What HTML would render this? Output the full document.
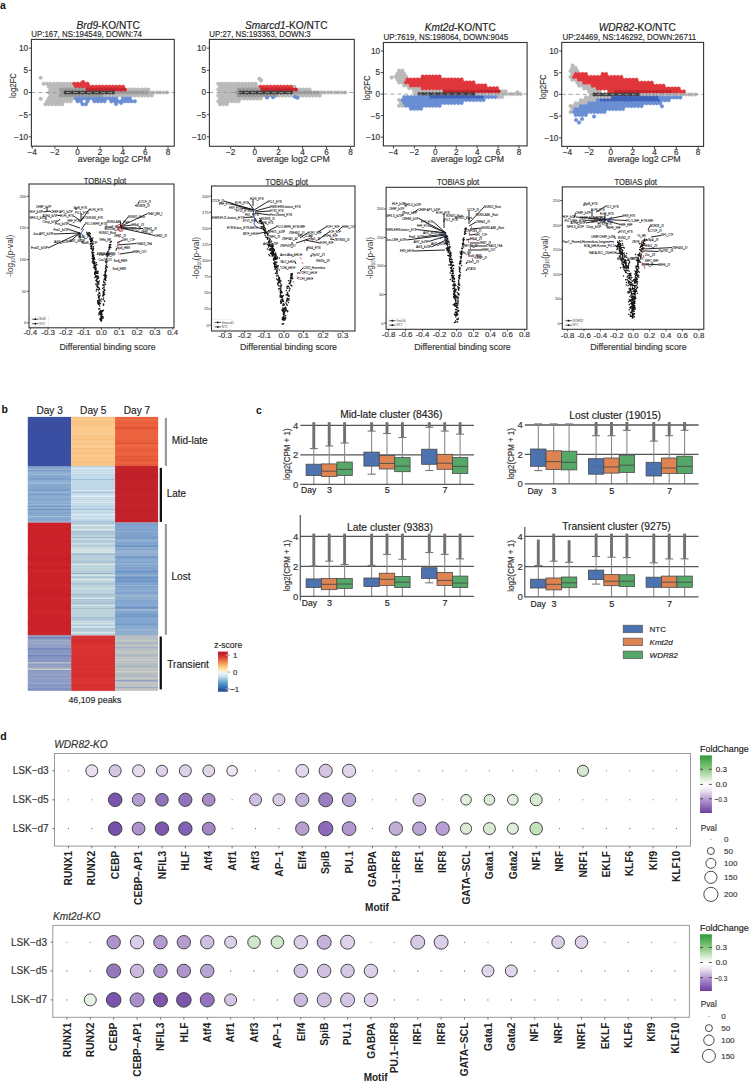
<!DOCTYPE html>
<html><head><meta charset="utf-8"><style>
html,body{margin:0;padding:0;background:#fff;}
svg{display:block;}
text{font-family:"Liberation Sans", sans-serif;}
</style></head><body>
<svg width="749" height="1086" viewBox="0 0 749 1086" font-family="Liberation Sans, sans-serif"><text x="0.00" y="8.80" font-size="10.5" text-anchor="start" fill="#111" font-weight="bold">a</text>
<path d="M43.7 81.8l1.7 1v2l-1.7 1-1.7-1v-2zM47.1 81.8l1.7 1v2l-1.7 1-1.7-1v-2zM50.5 81.8l1.7 1v2l-1.7 1-1.7-1v-2zM53.9 81.8l1.7 1v2l-1.7 1-1.7-1v-2zM57.2 81.8l1.7 1v2l-1.7 1-1.7-1v-2zM60.6 81.8l1.7 1v2l-1.7 1-1.7-1v-2zM64.0 81.8l1.7 1v2l-1.7 1-1.7-1v-2zM67.4 81.8l1.7 1v2l-1.7 1-1.7-1v-2zM70.7 81.8l1.7 1v2l-1.7 1-1.7-1v-2zM48.8 84.7l1.7 1v2l-1.7 1-1.7-1v-2zM52.2 84.7l1.7 1v2l-1.7 1-1.7-1v-2zM55.5 84.7l1.7 1v2l-1.7 1-1.7-1v-2zM58.9 84.7l1.7 1v2l-1.7 1-1.7-1v-2zM62.3 84.7l1.7 1v2l-1.7 1-1.7-1v-2zM65.7 84.7l1.7 1v2l-1.7 1-1.7-1v-2zM69.1 84.7l1.7 1v2l-1.7 1-1.7-1v-2zM72.4 84.7l1.7 1v2l-1.7 1-1.7-1v-2zM50.5 87.6l1.7 1v2l-1.7 1-1.7-1v-2zM53.9 87.6l1.7 1v2l-1.7 1-1.7-1v-2zM57.2 87.6l1.7 1v2l-1.7 1-1.7-1v-2zM128.2 87.6l1.7 1v2l-1.7 1-1.7-1v-2zM131.5 87.6l1.7 1v2l-1.7 1-1.7-1v-2zM134.9 87.6l1.7 1v2l-1.7 1-1.7-1v-2zM138.3 87.6l1.7 1v2l-1.7 1-1.7-1v-2zM141.7 87.6l1.7 1v2l-1.7 1-1.7-1v-2zM145.0 87.6l1.7 1v2l-1.7 1-1.7-1v-2zM148.4 87.6l1.7 1v2l-1.7 1-1.7-1v-2zM48.8 90.5l1.7 1v2l-1.7 1-1.7-1v-2zM52.2 90.5l1.7 1v2l-1.7 1-1.7-1v-2zM55.5 90.5l1.7 1v2l-1.7 1-1.7-1v-2zM58.9 90.5l1.7 1v2l-1.7 1-1.7-1v-2zM150.1 90.5l1.7 1v2l-1.7 1-1.7-1v-2zM153.5 90.5l1.7 1v2l-1.7 1-1.7-1v-2zM156.9 90.5l1.7 1v2l-1.7 1-1.7-1v-2zM160.2 90.5l1.7 1v2l-1.7 1-1.7-1v-2zM163.6 90.5l1.7 1v2l-1.7 1-1.7-1v-2zM167.0 90.5l1.7 1v2l-1.7 1-1.7-1v-2zM50.5 93.5l1.7 1v2l-1.7 1-1.7-1v-2zM53.9 93.5l1.7 1v2l-1.7 1-1.7-1v-2zM57.2 93.5l1.7 1v2l-1.7 1-1.7-1v-2zM104.5 93.5l1.7 1v2l-1.7 1-1.7-1v-2zM107.9 93.5l1.7 1v2l-1.7 1-1.7-1v-2zM111.3 93.5l1.7 1v2l-1.7 1-1.7-1v-2zM114.6 93.5l1.7 1v2l-1.7 1-1.7-1v-2zM118.0 93.5l1.7 1v2l-1.7 1-1.7-1v-2zM121.4 93.5l1.7 1v2l-1.7 1-1.7-1v-2zM124.8 93.5l1.7 1v2l-1.7 1-1.7-1v-2zM128.2 93.5l1.7 1v2l-1.7 1-1.7-1v-2zM131.5 93.5l1.7 1v2l-1.7 1-1.7-1v-2zM134.9 93.5l1.7 1v2l-1.7 1-1.7-1v-2zM138.3 93.5l1.7 1v2l-1.7 1-1.7-1v-2zM141.7 93.5l1.7 1v2l-1.7 1-1.7-1v-2zM145.0 93.5l1.7 1v2l-1.7 1-1.7-1v-2zM148.4 93.5l1.7 1v2l-1.7 1-1.7-1v-2zM151.8 93.5l1.7 1v2l-1.7 1-1.7-1v-2zM48.8 96.4l1.7 1v2l-1.7 1-1.7-1v-2zM52.2 96.4l1.7 1v2l-1.7 1-1.7-1v-2zM55.5 96.4l1.7 1v2l-1.7 1-1.7-1v-2zM58.9 96.4l1.7 1v2l-1.7 1-1.7-1v-2zM62.3 96.4l1.7 1v2l-1.7 1-1.7-1v-2zM65.7 96.4l1.7 1v2l-1.7 1-1.7-1v-2zM69.1 96.4l1.7 1v2l-1.7 1-1.7-1v-2zM72.4 96.4l1.7 1v2l-1.7 1-1.7-1v-2zM47.1 99.3l1.7 1v2l-1.7 1-1.7-1v-2zM50.5 99.3l1.7 1v2l-1.7 1-1.7-1v-2zM53.9 99.3l1.7 1v2l-1.7 1-1.7-1v-2zM57.2 99.3l1.7 1v2l-1.7 1-1.7-1v-2zM60.6 99.3l1.7 1v2l-1.7 1-1.7-1v-2zM64.0 99.3l1.7 1v2l-1.7 1-1.7-1v-2zM67.4 99.3l1.7 1v2l-1.7 1-1.7-1v-2zM70.7 99.3l1.7 1v2l-1.7 1-1.7-1v-2zM45.4 102.2l1.7 1v2l-1.7 1-1.7-1v-2zM48.8 102.2l1.7 1v2l-1.7 1-1.7-1v-2zM52.2 102.2l1.7 1v2l-1.7 1-1.7-1v-2zM55.5 102.2l1.7 1v2l-1.7 1-1.7-1v-2zM58.9 102.2l1.7 1v2l-1.7 1-1.7-1v-2zM62.3 102.2l1.7 1v2l-1.7 1-1.7-1v-2zM40.7 75.8l1.7 1v2l-1.7 1-1.7-1v-2zM40.7 96.8l1.7 1v2l-1.7 1-1.7-1v-2z" fill="#bababa" stroke="#bababa" stroke-width="0.35"/>
<path d="M74.1 81.8l1.7 1v2l-1.7 1-1.7-1v-2zM77.5 81.8l1.7 1v2l-1.7 1-1.7-1v-2zM80.9 81.8l1.7 1v2l-1.7 1-1.7-1v-2zM84.3 81.8l1.7 1v2l-1.7 1-1.7-1v-2zM87.6 81.8l1.7 1v2l-1.7 1-1.7-1v-2zM75.8 84.7l1.7 1v2l-1.7 1-1.7-1v-2zM79.2 84.7l1.7 1v2l-1.7 1-1.7-1v-2zM82.6 84.7l1.7 1v2l-1.7 1-1.7-1v-2zM85.9 84.7l1.7 1v2l-1.7 1-1.7-1v-2zM89.3 84.7l1.7 1v2l-1.7 1-1.7-1v-2zM92.7 84.7l1.7 1v2l-1.7 1-1.7-1v-2zM96.1 84.7l1.7 1v2l-1.7 1-1.7-1v-2zM99.4 84.7l1.7 1v2l-1.7 1-1.7-1v-2zM102.8 84.7l1.7 1v2l-1.7 1-1.7-1v-2zM106.2 84.7l1.7 1v2l-1.7 1-1.7-1v-2zM109.6 84.7l1.7 1v2l-1.7 1-1.7-1v-2zM113.0 84.7l1.7 1v2l-1.7 1-1.7-1v-2zM116.3 84.7l1.7 1v2l-1.7 1-1.7-1v-2zM119.7 84.7l1.7 1v2l-1.7 1-1.7-1v-2zM123.1 84.7l1.7 1v2l-1.7 1-1.7-1v-2zM83.0 80.0l1.7 1v2l-1.7 1-1.7-1v-2z" fill="#e0363c" stroke="#e0363c" stroke-width="0.35"/>
<path d="M60.6 87.6l1.7 1v2l-1.7 1-1.7-1v-2zM64.0 87.6l1.7 1v2l-1.7 1-1.7-1v-2zM67.4 87.6l1.7 1v2l-1.7 1-1.7-1v-2zM70.7 87.6l1.7 1v2l-1.7 1-1.7-1v-2zM74.1 87.6l1.7 1v2l-1.7 1-1.7-1v-2zM77.5 87.6l1.7 1v2l-1.7 1-1.7-1v-2zM80.9 87.6l1.7 1v2l-1.7 1-1.7-1v-2zM84.3 87.6l1.7 1v2l-1.7 1-1.7-1v-2zM62.3 90.5l1.7 1v2l-1.7 1-1.7-1v-2zM116.3 90.5l1.7 1v2l-1.7 1-1.7-1v-2zM119.7 90.5l1.7 1v2l-1.7 1-1.7-1v-2zM123.1 90.5l1.7 1v2l-1.7 1-1.7-1v-2zM126.5 90.5l1.7 1v2l-1.7 1-1.7-1v-2zM129.8 90.5l1.7 1v2l-1.7 1-1.7-1v-2zM133.2 90.5l1.7 1v2l-1.7 1-1.7-1v-2zM136.6 90.5l1.7 1v2l-1.7 1-1.7-1v-2zM140.0 90.5l1.7 1v2l-1.7 1-1.7-1v-2zM143.4 90.5l1.7 1v2l-1.7 1-1.7-1v-2zM146.7 90.5l1.7 1v2l-1.7 1-1.7-1v-2zM60.6 93.5l1.7 1v2l-1.7 1-1.7-1v-2zM64.0 93.5l1.7 1v2l-1.7 1-1.7-1v-2zM67.4 93.5l1.7 1v2l-1.7 1-1.7-1v-2zM70.7 93.5l1.7 1v2l-1.7 1-1.7-1v-2zM74.1 93.5l1.7 1v2l-1.7 1-1.7-1v-2zM77.5 93.5l1.7 1v2l-1.7 1-1.7-1v-2zM80.9 93.5l1.7 1v2l-1.7 1-1.7-1v-2zM84.3 93.5l1.7 1v2l-1.7 1-1.7-1v-2zM87.6 93.5l1.7 1v2l-1.7 1-1.7-1v-2zM91.0 93.5l1.7 1v2l-1.7 1-1.7-1v-2zM94.4 93.5l1.7 1v2l-1.7 1-1.7-1v-2zM97.8 93.5l1.7 1v2l-1.7 1-1.7-1v-2zM101.1 93.5l1.7 1v2l-1.7 1-1.7-1v-2z" fill="#9a9a9a" stroke="#9a9a9a" stroke-width="0.35"/>
<path d="M87.6 87.6l1.7 1v2l-1.7 1-1.7-1v-2zM91.0 87.6l1.7 1v2l-1.7 1-1.7-1v-2zM94.4 87.6l1.7 1v2l-1.7 1-1.7-1v-2zM97.8 87.6l1.7 1v2l-1.7 1-1.7-1v-2zM101.1 87.6l1.7 1v2l-1.7 1-1.7-1v-2zM104.5 87.6l1.7 1v2l-1.7 1-1.7-1v-2zM107.9 87.6l1.7 1v2l-1.7 1-1.7-1v-2zM111.3 87.6l1.7 1v2l-1.7 1-1.7-1v-2zM114.6 87.6l1.7 1v2l-1.7 1-1.7-1v-2zM118.0 87.6l1.7 1v2l-1.7 1-1.7-1v-2zM121.4 87.6l1.7 1v2l-1.7 1-1.7-1v-2zM124.8 87.6l1.7 1v2l-1.7 1-1.7-1v-2z" fill="#c8212b" stroke="#c8212b" stroke-width="0.35"/>
<path d="M65.7 90.5l1.7 1v2l-1.7 1-1.7-1v-2zM69.1 90.5l1.7 1v2l-1.7 1-1.7-1v-2zM72.4 90.5l1.7 1v2l-1.7 1-1.7-1v-2zM75.8 90.5l1.7 1v2l-1.7 1-1.7-1v-2zM79.2 90.5l1.7 1v2l-1.7 1-1.7-1v-2zM82.6 90.5l1.7 1v2l-1.7 1-1.7-1v-2zM85.9 90.5l1.7 1v2l-1.7 1-1.7-1v-2zM89.3 90.5l1.7 1v2l-1.7 1-1.7-1v-2zM92.7 90.5l1.7 1v2l-1.7 1-1.7-1v-2zM96.1 90.5l1.7 1v2l-1.7 1-1.7-1v-2zM99.4 90.5l1.7 1v2l-1.7 1-1.7-1v-2zM102.8 90.5l1.7 1v2l-1.7 1-1.7-1v-2zM106.2 90.5l1.7 1v2l-1.7 1-1.7-1v-2zM109.6 90.5l1.7 1v2l-1.7 1-1.7-1v-2zM113.0 90.5l1.7 1v2l-1.7 1-1.7-1v-2z" fill="#3a3a3a" stroke="#3a3a3a" stroke-width="0.35"/>
<path d="M75.8 96.4l1.7 1v2l-1.7 1-1.7-1v-2zM79.2 96.4l1.7 1v2l-1.7 1-1.7-1v-2zM82.6 96.4l1.7 1v2l-1.7 1-1.7-1v-2zM85.9 96.4l1.7 1v2l-1.7 1-1.7-1v-2zM89.3 96.4l1.7 1v2l-1.7 1-1.7-1v-2zM92.7 96.4l1.7 1v2l-1.7 1-1.7-1v-2zM96.1 96.4l1.7 1v2l-1.7 1-1.7-1v-2zM99.4 96.4l1.7 1v2l-1.7 1-1.7-1v-2zM102.8 96.4l1.7 1v2l-1.7 1-1.7-1v-2zM106.2 96.4l1.7 1v2l-1.7 1-1.7-1v-2zM109.6 96.4l1.7 1v2l-1.7 1-1.7-1v-2zM113.0 96.4l1.7 1v2l-1.7 1-1.7-1v-2zM116.3 96.4l1.7 1v2l-1.7 1-1.7-1v-2zM123.1 96.4l1.7 1v2l-1.7 1-1.7-1v-2zM126.5 96.4l1.7 1v2l-1.7 1-1.7-1v-2zM129.8 96.4l1.7 1v2l-1.7 1-1.7-1v-2zM77.5 99.3l1.7 1v2l-1.7 1-1.7-1v-2zM80.9 99.3l1.7 1v2l-1.7 1-1.7-1v-2zM87.6 99.3l1.7 1v2l-1.7 1-1.7-1v-2zM94.4 99.3l1.7 1v2l-1.7 1-1.7-1v-2zM97.8 99.3l1.7 1v2l-1.7 1-1.7-1v-2zM101.1 99.3l1.7 1v2l-1.7 1-1.7-1v-2zM104.5 99.3l1.7 1v2l-1.7 1-1.7-1v-2zM111.3 99.3l1.7 1v2l-1.7 1-1.7-1v-2zM114.6 99.3l1.7 1v2l-1.7 1-1.7-1v-2zM118.0 99.3l1.7 1v2l-1.7 1-1.7-1v-2zM121.4 99.3l1.7 1v2l-1.7 1-1.7-1v-2zM124.8 99.3l1.7 1v2l-1.7 1-1.7-1v-2zM128.2 99.3l1.7 1v2l-1.7 1-1.7-1v-2zM131.5 99.3l1.7 1v2l-1.7 1-1.7-1v-2zM134.9 99.3l1.7 1v2l-1.7 1-1.7-1v-2zM82.6 102.2l1.7 1v2l-1.7 1-1.7-1v-2zM85.9 102.2l1.7 1v2l-1.7 1-1.7-1v-2zM116.0 102.0l1.7 1v2l-1.7 1-1.7-1v-2zM121.0 101.0l1.7 1v2l-1.7 1-1.7-1v-2z" fill="#6a8fd4" stroke="#6a8fd4" stroke-width="0.35"/>
<line x1="31.40" y1="92.50" x2="174.30" y2="92.50" stroke="#9a9a9a" stroke-width="0.9" stroke-dasharray="4,3"/>
<rect x="31.40" y="39.40" width="142.90" height="106.80" fill="none" stroke="#333" stroke-width="1.1"/>
<line x1="28.80" y1="48.15" x2="31.40" y2="48.15" stroke="#333" stroke-width="0.9"/>
<text x="28.00" y="51.05" font-size="8.2" text-anchor="end" fill="#333" stroke="#333" stroke-width="0.16">10</text>
<line x1="28.80" y1="70.33" x2="31.40" y2="70.33" stroke="#333" stroke-width="0.9"/>
<text x="28.00" y="73.23" font-size="8.2" text-anchor="end" fill="#333" stroke="#333" stroke-width="0.16">5</text>
<line x1="28.80" y1="92.50" x2="31.40" y2="92.50" stroke="#333" stroke-width="0.9"/>
<text x="28.00" y="95.40" font-size="8.2" text-anchor="end" fill="#333" stroke="#333" stroke-width="0.16">0</text>
<line x1="28.80" y1="114.67" x2="31.40" y2="114.67" stroke="#333" stroke-width="0.9"/>
<text x="28.00" y="117.58" font-size="8.2" text-anchor="end" fill="#333" stroke="#333" stroke-width="0.16">−5</text>
<line x1="28.80" y1="136.85" x2="31.40" y2="136.85" stroke="#333" stroke-width="0.9"/>
<text x="28.00" y="139.75" font-size="8.2" text-anchor="end" fill="#333" stroke="#333" stroke-width="0.16">−10</text>
<line x1="32.23" y1="146.20" x2="32.23" y2="148.80" stroke="#333" stroke-width="0.9"/>
<text x="32.23" y="155.10" font-size="8.2" text-anchor="middle" fill="#333" stroke="#333" stroke-width="0.16">−4</text>
<line x1="54.87" y1="146.20" x2="54.87" y2="148.80" stroke="#333" stroke-width="0.9"/>
<text x="54.87" y="155.10" font-size="8.2" text-anchor="middle" fill="#333" stroke="#333" stroke-width="0.16">−2</text>
<line x1="77.50" y1="146.20" x2="77.50" y2="148.80" stroke="#333" stroke-width="0.9"/>
<text x="77.50" y="155.10" font-size="8.2" text-anchor="middle" fill="#333" stroke="#333" stroke-width="0.16">0</text>
<line x1="100.13" y1="146.20" x2="100.13" y2="148.80" stroke="#333" stroke-width="0.9"/>
<text x="100.13" y="155.10" font-size="8.2" text-anchor="middle" fill="#333" stroke="#333" stroke-width="0.16">2</text>
<line x1="122.77" y1="146.20" x2="122.77" y2="148.80" stroke="#333" stroke-width="0.9"/>
<text x="122.77" y="155.10" font-size="8.2" text-anchor="middle" fill="#333" stroke="#333" stroke-width="0.16">4</text>
<line x1="145.40" y1="146.20" x2="145.40" y2="148.80" stroke="#333" stroke-width="0.9"/>
<text x="145.40" y="155.10" font-size="8.2" text-anchor="middle" fill="#333" stroke="#333" stroke-width="0.16">6</text>
<line x1="168.04" y1="146.20" x2="168.04" y2="148.80" stroke="#333" stroke-width="0.9"/>
<text x="168.04" y="155.10" font-size="8.2" text-anchor="middle" fill="#333" stroke="#333" stroke-width="0.16">8</text>
<text x="114.35" y="162.10" font-size="8.8" text-anchor="middle" fill="#333" textLength="73.00" lengthAdjust="spacingAndGlyphs" stroke="#333" stroke-width="0.16">average log2 CPM</text>
<text x="108.20" y="28.70" font-size="10" text-anchor="middle" fill="#222" textLength="63.20" lengthAdjust="spacingAndGlyphs" stroke="#222" stroke-width="0.16"><tspan font-style="italic">Brd9</tspan>-KO/NTC</text>
<text x="31.20" y="37.00" font-size="9.0" text-anchor="start" fill="#2a2a2a" textLength="110.80" lengthAdjust="spacingAndGlyphs" stroke="#2a2a2a" stroke-width="0.16">UP:167, NS:194549, DOWN:74</text>
<text x="15.70" y="85.60" font-size="8.6" text-anchor="middle" fill="#333" textLength="25.00" lengthAdjust="spacingAndGlyphs" transform="rotate(-90 15.70 85.60)" stroke="#333" stroke-width="0.16">log2FC</text>
<path d="M218.3 81.8l1.7 1v2l-1.7 1-1.7-1v-2zM221.7 81.8l1.7 1v2l-1.7 1-1.7-1v-2zM225.1 81.8l1.7 1v2l-1.7 1-1.7-1v-2zM228.5 81.8l1.7 1v2l-1.7 1-1.7-1v-2zM231.9 81.8l1.7 1v2l-1.7 1-1.7-1v-2zM235.2 81.8l1.7 1v2l-1.7 1-1.7-1v-2zM238.6 81.8l1.7 1v2l-1.7 1-1.7-1v-2zM242.0 81.8l1.7 1v2l-1.7 1-1.7-1v-2zM245.4 81.8l1.7 1v2l-1.7 1-1.7-1v-2zM248.7 81.8l1.7 1v2l-1.7 1-1.7-1v-2zM252.1 81.8l1.7 1v2l-1.7 1-1.7-1v-2zM255.5 81.8l1.7 1v2l-1.7 1-1.7-1v-2zM220.0 84.7l1.7 1v2l-1.7 1-1.7-1v-2zM223.4 84.7l1.7 1v2l-1.7 1-1.7-1v-2zM226.8 84.7l1.7 1v2l-1.7 1-1.7-1v-2zM230.2 84.7l1.7 1v2l-1.7 1-1.7-1v-2zM233.5 84.7l1.7 1v2l-1.7 1-1.7-1v-2zM236.9 84.7l1.7 1v2l-1.7 1-1.7-1v-2zM240.3 84.7l1.7 1v2l-1.7 1-1.7-1v-2zM243.7 84.7l1.7 1v2l-1.7 1-1.7-1v-2zM247.1 84.7l1.7 1v2l-1.7 1-1.7-1v-2zM250.4 84.7l1.7 1v2l-1.7 1-1.7-1v-2zM253.8 84.7l1.7 1v2l-1.7 1-1.7-1v-2zM257.2 84.7l1.7 1v2l-1.7 1-1.7-1v-2zM294.3 84.7l1.7 1v2l-1.7 1-1.7-1v-2zM218.3 87.6l1.7 1v2l-1.7 1-1.7-1v-2zM221.7 87.6l1.7 1v2l-1.7 1-1.7-1v-2zM225.1 87.6l1.7 1v2l-1.7 1-1.7-1v-2zM228.5 87.6l1.7 1v2l-1.7 1-1.7-1v-2zM231.9 87.6l1.7 1v2l-1.7 1-1.7-1v-2zM235.2 87.6l1.7 1v2l-1.7 1-1.7-1v-2zM299.4 87.6l1.7 1v2l-1.7 1-1.7-1v-2zM302.8 87.6l1.7 1v2l-1.7 1-1.7-1v-2zM306.2 87.6l1.7 1v2l-1.7 1-1.7-1v-2zM309.5 87.6l1.7 1v2l-1.7 1-1.7-1v-2zM220.0 90.5l1.7 1v2l-1.7 1-1.7-1v-2zM223.4 90.5l1.7 1v2l-1.7 1-1.7-1v-2zM226.8 90.5l1.7 1v2l-1.7 1-1.7-1v-2zM230.2 90.5l1.7 1v2l-1.7 1-1.7-1v-2zM233.5 90.5l1.7 1v2l-1.7 1-1.7-1v-2zM321.4 90.5l1.7 1v2l-1.7 1-1.7-1v-2zM324.7 90.5l1.7 1v2l-1.7 1-1.7-1v-2zM328.1 90.5l1.7 1v2l-1.7 1-1.7-1v-2zM331.5 90.5l1.7 1v2l-1.7 1-1.7-1v-2zM334.9 90.5l1.7 1v2l-1.7 1-1.7-1v-2zM338.2 90.5l1.7 1v2l-1.7 1-1.7-1v-2zM341.6 90.5l1.7 1v2l-1.7 1-1.7-1v-2zM345.0 90.5l1.7 1v2l-1.7 1-1.7-1v-2zM218.3 93.5l1.7 1v2l-1.7 1-1.7-1v-2zM221.7 93.5l1.7 1v2l-1.7 1-1.7-1v-2zM225.1 93.5l1.7 1v2l-1.7 1-1.7-1v-2zM228.5 93.5l1.7 1v2l-1.7 1-1.7-1v-2zM231.9 93.5l1.7 1v2l-1.7 1-1.7-1v-2zM235.2 93.5l1.7 1v2l-1.7 1-1.7-1v-2zM279.1 93.5l1.7 1v2l-1.7 1-1.7-1v-2zM282.5 93.5l1.7 1v2l-1.7 1-1.7-1v-2zM285.9 93.5l1.7 1v2l-1.7 1-1.7-1v-2zM289.3 93.5l1.7 1v2l-1.7 1-1.7-1v-2zM292.6 93.5l1.7 1v2l-1.7 1-1.7-1v-2zM296.0 93.5l1.7 1v2l-1.7 1-1.7-1v-2zM299.4 93.5l1.7 1v2l-1.7 1-1.7-1v-2zM302.8 93.5l1.7 1v2l-1.7 1-1.7-1v-2zM306.2 93.5l1.7 1v2l-1.7 1-1.7-1v-2zM309.5 93.5l1.7 1v2l-1.7 1-1.7-1v-2zM312.9 93.5l1.7 1v2l-1.7 1-1.7-1v-2zM316.3 93.5l1.7 1v2l-1.7 1-1.7-1v-2zM319.7 93.5l1.7 1v2l-1.7 1-1.7-1v-2zM220.0 96.4l1.7 1v2l-1.7 1-1.7-1v-2zM223.4 96.4l1.7 1v2l-1.7 1-1.7-1v-2zM226.8 96.4l1.7 1v2l-1.7 1-1.7-1v-2zM230.2 96.4l1.7 1v2l-1.7 1-1.7-1v-2zM233.5 96.4l1.7 1v2l-1.7 1-1.7-1v-2zM236.9 96.4l1.7 1v2l-1.7 1-1.7-1v-2zM240.3 96.4l1.7 1v2l-1.7 1-1.7-1v-2zM243.7 96.4l1.7 1v2l-1.7 1-1.7-1v-2zM247.1 96.4l1.7 1v2l-1.7 1-1.7-1v-2zM250.4 96.4l1.7 1v2l-1.7 1-1.7-1v-2zM253.8 96.4l1.7 1v2l-1.7 1-1.7-1v-2zM257.2 96.4l1.7 1v2l-1.7 1-1.7-1v-2zM260.6 96.4l1.7 1v2l-1.7 1-1.7-1v-2zM218.3 99.3l1.7 1v2l-1.7 1-1.7-1v-2zM221.7 99.3l1.7 1v2l-1.7 1-1.7-1v-2zM225.1 99.3l1.7 1v2l-1.7 1-1.7-1v-2zM228.5 99.3l1.7 1v2l-1.7 1-1.7-1v-2zM231.9 99.3l1.7 1v2l-1.7 1-1.7-1v-2zM235.2 99.3l1.7 1v2l-1.7 1-1.7-1v-2zM238.6 99.3l1.7 1v2l-1.7 1-1.7-1v-2zM220.0 102.2l1.7 1v2l-1.7 1-1.7-1v-2zM223.4 102.2l1.7 1v2l-1.7 1-1.7-1v-2zM226.8 102.2l1.7 1v2l-1.7 1-1.7-1v-2zM259.3 76.8l1.7 1v2l-1.7 1-1.7-1v-2zM261.2 78.6l1.7 1v2l-1.7 1-1.7-1v-2z" fill="#bababa" stroke="#bababa" stroke-width="0.35"/>
<path d="M260.6 84.7l1.7 1v2l-1.7 1-1.7-1v-2zM263.9 84.7l1.7 1v2l-1.7 1-1.7-1v-2zM267.3 84.7l1.7 1v2l-1.7 1-1.7-1v-2zM270.7 84.7l1.7 1v2l-1.7 1-1.7-1v-2zM274.1 84.7l1.7 1v2l-1.7 1-1.7-1v-2zM277.4 84.7l1.7 1v2l-1.7 1-1.7-1v-2zM280.8 84.7l1.7 1v2l-1.7 1-1.7-1v-2zM284.2 84.7l1.7 1v2l-1.7 1-1.7-1v-2zM287.6 84.7l1.7 1v2l-1.7 1-1.7-1v-2zM291.0 84.7l1.7 1v2l-1.7 1-1.7-1v-2z" fill="#e0363c" stroke="#e0363c" stroke-width="0.35"/>
<path d="M238.6 87.6l1.7 1v2l-1.7 1-1.7-1v-2zM242.0 87.6l1.7 1v2l-1.7 1-1.7-1v-2zM245.4 87.6l1.7 1v2l-1.7 1-1.7-1v-2zM248.7 87.6l1.7 1v2l-1.7 1-1.7-1v-2zM252.1 87.6l1.7 1v2l-1.7 1-1.7-1v-2zM255.5 87.6l1.7 1v2l-1.7 1-1.7-1v-2zM258.9 87.6l1.7 1v2l-1.7 1-1.7-1v-2zM236.9 90.5l1.7 1v2l-1.7 1-1.7-1v-2zM294.3 90.5l1.7 1v2l-1.7 1-1.7-1v-2zM297.7 90.5l1.7 1v2l-1.7 1-1.7-1v-2zM301.1 90.5l1.7 1v2l-1.7 1-1.7-1v-2zM304.5 90.5l1.7 1v2l-1.7 1-1.7-1v-2zM307.8 90.5l1.7 1v2l-1.7 1-1.7-1v-2zM311.2 90.5l1.7 1v2l-1.7 1-1.7-1v-2zM314.6 90.5l1.7 1v2l-1.7 1-1.7-1v-2zM318.0 90.5l1.7 1v2l-1.7 1-1.7-1v-2zM238.6 93.5l1.7 1v2l-1.7 1-1.7-1v-2zM242.0 93.5l1.7 1v2l-1.7 1-1.7-1v-2zM245.4 93.5l1.7 1v2l-1.7 1-1.7-1v-2zM248.7 93.5l1.7 1v2l-1.7 1-1.7-1v-2zM252.1 93.5l1.7 1v2l-1.7 1-1.7-1v-2zM255.5 93.5l1.7 1v2l-1.7 1-1.7-1v-2zM258.9 93.5l1.7 1v2l-1.7 1-1.7-1v-2zM262.3 93.5l1.7 1v2l-1.7 1-1.7-1v-2zM265.6 93.5l1.7 1v2l-1.7 1-1.7-1v-2zM269.0 93.5l1.7 1v2l-1.7 1-1.7-1v-2zM272.4 93.5l1.7 1v2l-1.7 1-1.7-1v-2zM275.8 93.5l1.7 1v2l-1.7 1-1.7-1v-2z" fill="#9a9a9a" stroke="#9a9a9a" stroke-width="0.35"/>
<path d="M262.3 87.6l1.7 1v2l-1.7 1-1.7-1v-2zM265.6 87.6l1.7 1v2l-1.7 1-1.7-1v-2zM269.0 87.6l1.7 1v2l-1.7 1-1.7-1v-2zM272.4 87.6l1.7 1v2l-1.7 1-1.7-1v-2zM275.8 87.6l1.7 1v2l-1.7 1-1.7-1v-2zM279.1 87.6l1.7 1v2l-1.7 1-1.7-1v-2zM282.5 87.6l1.7 1v2l-1.7 1-1.7-1v-2zM285.9 87.6l1.7 1v2l-1.7 1-1.7-1v-2zM289.3 87.6l1.7 1v2l-1.7 1-1.7-1v-2zM292.6 87.6l1.7 1v2l-1.7 1-1.7-1v-2zM296.0 87.6l1.7 1v2l-1.7 1-1.7-1v-2z" fill="#c8212b" stroke="#c8212b" stroke-width="0.35"/>
<path d="M240.3 90.5l1.7 1v2l-1.7 1-1.7-1v-2zM243.7 90.5l1.7 1v2l-1.7 1-1.7-1v-2zM247.1 90.5l1.7 1v2l-1.7 1-1.7-1v-2zM250.4 90.5l1.7 1v2l-1.7 1-1.7-1v-2zM253.8 90.5l1.7 1v2l-1.7 1-1.7-1v-2zM257.2 90.5l1.7 1v2l-1.7 1-1.7-1v-2zM260.6 90.5l1.7 1v2l-1.7 1-1.7-1v-2zM263.9 90.5l1.7 1v2l-1.7 1-1.7-1v-2zM267.3 90.5l1.7 1v2l-1.7 1-1.7-1v-2zM270.7 90.5l1.7 1v2l-1.7 1-1.7-1v-2zM274.1 90.5l1.7 1v2l-1.7 1-1.7-1v-2zM277.4 90.5l1.7 1v2l-1.7 1-1.7-1v-2zM280.8 90.5l1.7 1v2l-1.7 1-1.7-1v-2zM284.2 90.5l1.7 1v2l-1.7 1-1.7-1v-2zM287.6 90.5l1.7 1v2l-1.7 1-1.7-1v-2zM291.0 90.5l1.7 1v2l-1.7 1-1.7-1v-2z" fill="#3a3a3a" stroke="#3a3a3a" stroke-width="0.35"/>
<path d="M267.0 95.5l1.7 1v2l-1.7 1-1.7-1v-2zM273.0 95.2l1.7 1v2l-1.7 1-1.7-1v-2zM295.0 94.8l1.7 1v2l-1.7 1-1.7-1v-2zM297.5 95.8l1.7 1v2l-1.7 1-1.7-1v-2z" fill="#6a8fd4" stroke="#6a8fd4" stroke-width="0.35"/>
<line x1="209.40" y1="92.50" x2="354.30" y2="92.50" stroke="#9a9a9a" stroke-width="0.9" stroke-dasharray="4,3"/>
<rect x="209.40" y="39.40" width="144.90" height="106.90" fill="none" stroke="#333" stroke-width="1.1"/>
<line x1="206.80" y1="48.15" x2="209.40" y2="48.15" stroke="#333" stroke-width="0.9"/>
<text x="206.00" y="51.05" font-size="8.2" text-anchor="end" fill="#333" stroke="#333" stroke-width="0.16">10</text>
<line x1="206.80" y1="70.33" x2="209.40" y2="70.33" stroke="#333" stroke-width="0.9"/>
<text x="206.00" y="73.23" font-size="8.2" text-anchor="end" fill="#333" stroke="#333" stroke-width="0.16">5</text>
<line x1="206.80" y1="92.50" x2="209.40" y2="92.50" stroke="#333" stroke-width="0.9"/>
<text x="206.00" y="95.40" font-size="8.2" text-anchor="end" fill="#333" stroke="#333" stroke-width="0.16">0</text>
<line x1="206.80" y1="114.67" x2="209.40" y2="114.67" stroke="#333" stroke-width="0.9"/>
<text x="206.00" y="117.58" font-size="8.2" text-anchor="end" fill="#333" stroke="#333" stroke-width="0.16">−5</text>
<line x1="206.80" y1="136.85" x2="209.40" y2="136.85" stroke="#333" stroke-width="0.9"/>
<text x="206.00" y="139.75" font-size="8.2" text-anchor="end" fill="#333" stroke="#333" stroke-width="0.16">−10</text>
<line x1="230.70" y1="146.30" x2="230.70" y2="148.90" stroke="#333" stroke-width="0.9"/>
<text x="230.70" y="155.20" font-size="8.2" text-anchor="middle" fill="#333" stroke="#333" stroke-width="0.16">−2</text>
<line x1="254.66" y1="146.30" x2="254.66" y2="148.90" stroke="#333" stroke-width="0.9"/>
<text x="254.66" y="155.20" font-size="8.2" text-anchor="middle" fill="#333" stroke="#333" stroke-width="0.16">0</text>
<line x1="278.62" y1="146.30" x2="278.62" y2="148.90" stroke="#333" stroke-width="0.9"/>
<text x="278.62" y="155.20" font-size="8.2" text-anchor="middle" fill="#333" stroke="#333" stroke-width="0.16">2</text>
<line x1="302.58" y1="146.30" x2="302.58" y2="148.90" stroke="#333" stroke-width="0.9"/>
<text x="302.58" y="155.20" font-size="8.2" text-anchor="middle" fill="#333" stroke="#333" stroke-width="0.16">4</text>
<line x1="326.54" y1="146.30" x2="326.54" y2="148.90" stroke="#333" stroke-width="0.9"/>
<text x="326.54" y="155.20" font-size="8.2" text-anchor="middle" fill="#333" stroke="#333" stroke-width="0.16">6</text>
<line x1="350.50" y1="146.30" x2="350.50" y2="148.90" stroke="#333" stroke-width="0.9"/>
<text x="350.50" y="155.20" font-size="8.2" text-anchor="middle" fill="#333" stroke="#333" stroke-width="0.16">8</text>
<text x="293.35" y="162.20" font-size="8.8" text-anchor="middle" fill="#333" textLength="73.00" lengthAdjust="spacingAndGlyphs" stroke="#333" stroke-width="0.16">average log2 CPM</text>
<text x="286.20" y="28.70" font-size="10" text-anchor="middle" fill="#222" textLength="82.60" lengthAdjust="spacingAndGlyphs" stroke="#222" stroke-width="0.16"><tspan font-style="italic">Smarcd1</tspan>-KO/NTC</text>
<text x="209.30" y="37.00" font-size="9.0" text-anchor="start" fill="#2a2a2a" textLength="101.40" lengthAdjust="spacingAndGlyphs" stroke="#2a2a2a" stroke-width="0.16">UP:27, NS:193363, DOWN:3</text>
<path d="M399.1 68.7l1.7 1v2l-1.7 1-1.7-1v-2zM402.5 68.7l1.7 1v2l-1.7 1-1.7-1v-2zM397.4 71.7l1.7 1v2l-1.7 1-1.7-1v-2zM400.8 71.7l1.7 1v2l-1.7 1-1.7-1v-2zM404.2 71.7l1.7 1v2l-1.7 1-1.7-1v-2zM395.7 74.6l1.7 1v2l-1.7 1-1.7-1v-2zM399.1 74.6l1.7 1v2l-1.7 1-1.7-1v-2zM402.5 74.6l1.7 1v2l-1.7 1-1.7-1v-2zM405.9 74.6l1.7 1v2l-1.7 1-1.7-1v-2zM397.4 77.5l1.7 1v2l-1.7 1-1.7-1v-2zM400.8 77.5l1.7 1v2l-1.7 1-1.7-1v-2zM404.2 77.5l1.7 1v2l-1.7 1-1.7-1v-2zM399.1 80.4l1.7 1v2l-1.7 1-1.7-1v-2zM402.5 80.4l1.7 1v2l-1.7 1-1.7-1v-2zM404.2 83.4l1.7 1v2l-1.7 1-1.7-1v-2zM407.5 83.4l1.7 1v2l-1.7 1-1.7-1v-2zM409.2 86.3l1.7 1v2l-1.7 1-1.7-1v-2zM412.6 86.3l1.7 1v2l-1.7 1-1.7-1v-2zM416.0 86.3l1.7 1v2l-1.7 1-1.7-1v-2zM419.4 86.3l1.7 1v2l-1.7 1-1.7-1v-2zM414.3 89.2l1.7 1v2l-1.7 1-1.7-1v-2zM417.7 89.2l1.7 1v2l-1.7 1-1.7-1v-2zM421.1 89.2l1.7 1v2l-1.7 1-1.7-1v-2zM424.4 89.2l1.7 1v2l-1.7 1-1.7-1v-2zM427.8 89.2l1.7 1v2l-1.7 1-1.7-1v-2zM431.2 89.2l1.7 1v2l-1.7 1-1.7-1v-2zM434.6 89.2l1.7 1v2l-1.7 1-1.7-1v-2zM437.9 89.2l1.7 1v2l-1.7 1-1.7-1v-2zM441.3 89.2l1.7 1v2l-1.7 1-1.7-1v-2zM502.1 89.2l1.7 1v2l-1.7 1-1.7-1v-2zM505.5 89.2l1.7 1v2l-1.7 1-1.7-1v-2zM416.0 92.1l1.7 1v2l-1.7 1-1.7-1v-2zM476.8 92.1l1.7 1v2l-1.7 1-1.7-1v-2zM480.2 92.1l1.7 1v2l-1.7 1-1.7-1v-2zM483.5 92.1l1.7 1v2l-1.7 1-1.7-1v-2zM486.9 92.1l1.7 1v2l-1.7 1-1.7-1v-2zM490.3 92.1l1.7 1v2l-1.7 1-1.7-1v-2zM493.7 92.1l1.7 1v2l-1.7 1-1.7-1v-2zM497.0 92.1l1.7 1v2l-1.7 1-1.7-1v-2zM500.4 92.1l1.7 1v2l-1.7 1-1.7-1v-2zM503.8 92.1l1.7 1v2l-1.7 1-1.7-1v-2zM507.2 92.1l1.7 1v2l-1.7 1-1.7-1v-2zM510.6 92.1l1.7 1v2l-1.7 1-1.7-1v-2zM513.9 92.1l1.7 1v2l-1.7 1-1.7-1v-2zM517.3 92.1l1.7 1v2l-1.7 1-1.7-1v-2zM520.7 92.1l1.7 1v2l-1.7 1-1.7-1v-2zM498.7 95.1l1.7 1v2l-1.7 1-1.7-1v-2zM502.1 95.1l1.7 1v2l-1.7 1-1.7-1v-2zM399.1 98.0l1.7 1v2l-1.7 1-1.7-1v-2zM400.8 100.9l1.7 1v2l-1.7 1-1.7-1v-2zM399.1 103.8l1.7 1v2l-1.7 1-1.7-1v-2zM402.5 103.8l1.7 1v2l-1.7 1-1.7-1v-2zM391.7 75.5l1.7 1v2l-1.7 1-1.7-1v-2zM517.5 90.3l1.7 1v2l-1.7 1-1.7-1v-2z" fill="#bababa" stroke="#bababa" stroke-width="0.35"/>
<path d="M422.7 74.6l1.7 1v2l-1.7 1-1.7-1v-2zM426.1 74.6l1.7 1v2l-1.7 1-1.7-1v-2zM429.5 74.6l1.7 1v2l-1.7 1-1.7-1v-2zM432.9 74.6l1.7 1v2l-1.7 1-1.7-1v-2zM436.3 74.6l1.7 1v2l-1.7 1-1.7-1v-2zM439.6 74.6l1.7 1v2l-1.7 1-1.7-1v-2zM407.5 77.5l1.7 1v2l-1.7 1-1.7-1v-2zM410.9 77.5l1.7 1v2l-1.7 1-1.7-1v-2zM414.3 77.5l1.7 1v2l-1.7 1-1.7-1v-2zM417.7 77.5l1.7 1v2l-1.7 1-1.7-1v-2zM421.1 77.5l1.7 1v2l-1.7 1-1.7-1v-2zM424.4 77.5l1.7 1v2l-1.7 1-1.7-1v-2zM427.8 77.5l1.7 1v2l-1.7 1-1.7-1v-2zM431.2 77.5l1.7 1v2l-1.7 1-1.7-1v-2zM434.6 77.5l1.7 1v2l-1.7 1-1.7-1v-2zM437.9 77.5l1.7 1v2l-1.7 1-1.7-1v-2zM441.3 77.5l1.7 1v2l-1.7 1-1.7-1v-2zM444.7 77.5l1.7 1v2l-1.7 1-1.7-1v-2zM448.1 77.5l1.7 1v2l-1.7 1-1.7-1v-2zM451.4 77.5l1.7 1v2l-1.7 1-1.7-1v-2zM454.8 77.5l1.7 1v2l-1.7 1-1.7-1v-2zM458.2 77.5l1.7 1v2l-1.7 1-1.7-1v-2zM461.6 77.5l1.7 1v2l-1.7 1-1.7-1v-2zM405.9 80.4l1.7 1v2l-1.7 1-1.7-1v-2zM409.2 80.4l1.7 1v2l-1.7 1-1.7-1v-2zM412.6 80.4l1.7 1v2l-1.7 1-1.7-1v-2zM416.0 80.4l1.7 1v2l-1.7 1-1.7-1v-2zM419.4 80.4l1.7 1v2l-1.7 1-1.7-1v-2zM422.7 80.4l1.7 1v2l-1.7 1-1.7-1v-2zM426.1 80.4l1.7 1v2l-1.7 1-1.7-1v-2zM429.5 80.4l1.7 1v2l-1.7 1-1.7-1v-2zM432.9 80.4l1.7 1v2l-1.7 1-1.7-1v-2zM436.3 80.4l1.7 1v2l-1.7 1-1.7-1v-2zM439.6 80.4l1.7 1v2l-1.7 1-1.7-1v-2zM443.0 80.4l1.7 1v2l-1.7 1-1.7-1v-2zM446.4 80.4l1.7 1v2l-1.7 1-1.7-1v-2zM449.8 80.4l1.7 1v2l-1.7 1-1.7-1v-2zM453.1 80.4l1.7 1v2l-1.7 1-1.7-1v-2zM456.5 80.4l1.7 1v2l-1.7 1-1.7-1v-2zM459.9 80.4l1.7 1v2l-1.7 1-1.7-1v-2zM463.3 80.4l1.7 1v2l-1.7 1-1.7-1v-2zM466.6 80.4l1.7 1v2l-1.7 1-1.7-1v-2zM470.0 80.4l1.7 1v2l-1.7 1-1.7-1v-2zM473.4 80.4l1.7 1v2l-1.7 1-1.7-1v-2zM410.9 83.4l1.7 1v2l-1.7 1-1.7-1v-2zM414.3 83.4l1.7 1v2l-1.7 1-1.7-1v-2zM417.7 83.4l1.7 1v2l-1.7 1-1.7-1v-2zM421.1 83.4l1.7 1v2l-1.7 1-1.7-1v-2zM424.4 83.4l1.7 1v2l-1.7 1-1.7-1v-2zM427.8 83.4l1.7 1v2l-1.7 1-1.7-1v-2zM431.2 83.4l1.7 1v2l-1.7 1-1.7-1v-2zM434.6 83.4l1.7 1v2l-1.7 1-1.7-1v-2zM437.9 83.4l1.7 1v2l-1.7 1-1.7-1v-2zM441.3 83.4l1.7 1v2l-1.7 1-1.7-1v-2zM444.7 83.4l1.7 1v2l-1.7 1-1.7-1v-2zM448.1 83.4l1.7 1v2l-1.7 1-1.7-1v-2zM451.4 83.4l1.7 1v2l-1.7 1-1.7-1v-2zM454.8 83.4l1.7 1v2l-1.7 1-1.7-1v-2zM458.2 83.4l1.7 1v2l-1.7 1-1.7-1v-2zM461.6 83.4l1.7 1v2l-1.7 1-1.7-1v-2zM465.0 83.4l1.7 1v2l-1.7 1-1.7-1v-2zM468.3 83.4l1.7 1v2l-1.7 1-1.7-1v-2zM471.7 83.4l1.7 1v2l-1.7 1-1.7-1v-2zM475.1 83.4l1.7 1v2l-1.7 1-1.7-1v-2zM478.5 83.4l1.7 1v2l-1.7 1-1.7-1v-2zM481.8 83.4l1.7 1v2l-1.7 1-1.7-1v-2zM485.2 83.4l1.7 1v2l-1.7 1-1.7-1v-2zM422.7 86.3l1.7 1v2l-1.7 1-1.7-1v-2zM426.1 86.3l1.7 1v2l-1.7 1-1.7-1v-2zM429.5 86.3l1.7 1v2l-1.7 1-1.7-1v-2zM432.9 86.3l1.7 1v2l-1.7 1-1.7-1v-2zM436.3 86.3l1.7 1v2l-1.7 1-1.7-1v-2zM439.6 86.3l1.7 1v2l-1.7 1-1.7-1v-2zM443.0 86.3l1.7 1v2l-1.7 1-1.7-1v-2zM446.4 86.3l1.7 1v2l-1.7 1-1.7-1v-2zM449.8 86.3l1.7 1v2l-1.7 1-1.7-1v-2zM453.1 86.3l1.7 1v2l-1.7 1-1.7-1v-2zM456.5 86.3l1.7 1v2l-1.7 1-1.7-1v-2zM459.9 86.3l1.7 1v2l-1.7 1-1.7-1v-2zM463.3 86.3l1.7 1v2l-1.7 1-1.7-1v-2zM466.6 86.3l1.7 1v2l-1.7 1-1.7-1v-2zM470.0 86.3l1.7 1v2l-1.7 1-1.7-1v-2zM473.4 86.3l1.7 1v2l-1.7 1-1.7-1v-2zM476.8 86.3l1.7 1v2l-1.7 1-1.7-1v-2zM480.2 86.3l1.7 1v2l-1.7 1-1.7-1v-2zM483.5 86.3l1.7 1v2l-1.7 1-1.7-1v-2zM486.9 86.3l1.7 1v2l-1.7 1-1.7-1v-2zM490.3 86.3l1.7 1v2l-1.7 1-1.7-1v-2zM493.7 86.3l1.7 1v2l-1.7 1-1.7-1v-2zM497.0 86.3l1.7 1v2l-1.7 1-1.7-1v-2z" fill="#e0363c" stroke="#e0363c" stroke-width="0.35"/>
<path d="M444.7 89.2l1.7 1v2l-1.7 1-1.7-1v-2zM448.1 89.2l1.7 1v2l-1.7 1-1.7-1v-2zM451.4 89.2l1.7 1v2l-1.7 1-1.7-1v-2zM454.8 89.2l1.7 1v2l-1.7 1-1.7-1v-2zM458.2 89.2l1.7 1v2l-1.7 1-1.7-1v-2zM461.6 89.2l1.7 1v2l-1.7 1-1.7-1v-2zM465.0 89.2l1.7 1v2l-1.7 1-1.7-1v-2zM468.3 89.2l1.7 1v2l-1.7 1-1.7-1v-2zM471.7 89.2l1.7 1v2l-1.7 1-1.7-1v-2zM475.1 89.2l1.7 1v2l-1.7 1-1.7-1v-2zM478.5 89.2l1.7 1v2l-1.7 1-1.7-1v-2zM481.8 89.2l1.7 1v2l-1.7 1-1.7-1v-2zM485.2 89.2l1.7 1v2l-1.7 1-1.7-1v-2zM488.6 89.2l1.7 1v2l-1.7 1-1.7-1v-2zM492.0 89.2l1.7 1v2l-1.7 1-1.7-1v-2zM495.4 89.2l1.7 1v2l-1.7 1-1.7-1v-2zM498.7 89.2l1.7 1v2l-1.7 1-1.7-1v-2z" fill="#c8212b" stroke="#c8212b" stroke-width="0.35"/>
<path d="M419.4 92.1l1.7 1v2l-1.7 1-1.7-1v-2zM422.7 92.1l1.7 1v2l-1.7 1-1.7-1v-2zM426.1 92.1l1.7 1v2l-1.7 1-1.7-1v-2zM429.5 92.1l1.7 1v2l-1.7 1-1.7-1v-2zM432.9 92.1l1.7 1v2l-1.7 1-1.7-1v-2zM436.3 92.1l1.7 1v2l-1.7 1-1.7-1v-2zM439.6 92.1l1.7 1v2l-1.7 1-1.7-1v-2zM443.0 92.1l1.7 1v2l-1.7 1-1.7-1v-2zM446.4 92.1l1.7 1v2l-1.7 1-1.7-1v-2zM449.8 92.1l1.7 1v2l-1.7 1-1.7-1v-2zM453.1 92.1l1.7 1v2l-1.7 1-1.7-1v-2zM456.5 92.1l1.7 1v2l-1.7 1-1.7-1v-2zM459.9 92.1l1.7 1v2l-1.7 1-1.7-1v-2zM463.3 92.1l1.7 1v2l-1.7 1-1.7-1v-2zM466.6 92.1l1.7 1v2l-1.7 1-1.7-1v-2zM470.0 92.1l1.7 1v2l-1.7 1-1.7-1v-2zM473.4 92.1l1.7 1v2l-1.7 1-1.7-1v-2z" fill="#3a3a3a" stroke="#3a3a3a" stroke-width="0.35"/>
<path d="M404.2 95.1l1.7 1v2l-1.7 1-1.7-1v-2zM407.5 95.1l1.7 1v2l-1.7 1-1.7-1v-2zM410.9 95.1l1.7 1v2l-1.7 1-1.7-1v-2zM414.3 95.1l1.7 1v2l-1.7 1-1.7-1v-2zM417.7 95.1l1.7 1v2l-1.7 1-1.7-1v-2zM421.1 95.1l1.7 1v2l-1.7 1-1.7-1v-2zM424.4 95.1l1.7 1v2l-1.7 1-1.7-1v-2zM427.8 95.1l1.7 1v2l-1.7 1-1.7-1v-2zM485.2 95.1l1.7 1v2l-1.7 1-1.7-1v-2zM488.6 95.1l1.7 1v2l-1.7 1-1.7-1v-2zM492.0 95.1l1.7 1v2l-1.7 1-1.7-1v-2zM495.4 95.1l1.7 1v2l-1.7 1-1.7-1v-2zM402.5 98.0l1.7 1v2l-1.7 1-1.7-1v-2zM405.9 98.0l1.7 1v2l-1.7 1-1.7-1v-2zM409.2 98.0l1.7 1v2l-1.7 1-1.7-1v-2zM412.6 98.0l1.7 1v2l-1.7 1-1.7-1v-2zM416.0 98.0l1.7 1v2l-1.7 1-1.7-1v-2zM419.4 98.0l1.7 1v2l-1.7 1-1.7-1v-2zM422.7 98.0l1.7 1v2l-1.7 1-1.7-1v-2zM426.1 98.0l1.7 1v2l-1.7 1-1.7-1v-2zM429.5 98.0l1.7 1v2l-1.7 1-1.7-1v-2zM432.9 98.0l1.7 1v2l-1.7 1-1.7-1v-2zM436.3 98.0l1.7 1v2l-1.7 1-1.7-1v-2zM439.6 98.0l1.7 1v2l-1.7 1-1.7-1v-2zM443.0 98.0l1.7 1v2l-1.7 1-1.7-1v-2zM446.4 98.0l1.7 1v2l-1.7 1-1.7-1v-2zM449.8 98.0l1.7 1v2l-1.7 1-1.7-1v-2zM453.1 98.0l1.7 1v2l-1.7 1-1.7-1v-2zM456.5 98.0l1.7 1v2l-1.7 1-1.7-1v-2zM459.9 98.0l1.7 1v2l-1.7 1-1.7-1v-2zM463.3 98.0l1.7 1v2l-1.7 1-1.7-1v-2zM466.6 98.0l1.7 1v2l-1.7 1-1.7-1v-2zM470.0 98.0l1.7 1v2l-1.7 1-1.7-1v-2zM473.4 98.0l1.7 1v2l-1.7 1-1.7-1v-2zM476.8 98.0l1.7 1v2l-1.7 1-1.7-1v-2zM480.2 98.0l1.7 1v2l-1.7 1-1.7-1v-2zM483.5 98.0l1.7 1v2l-1.7 1-1.7-1v-2zM404.2 100.9l1.7 1v2l-1.7 1-1.7-1v-2zM407.5 100.9l1.7 1v2l-1.7 1-1.7-1v-2zM410.9 100.9l1.7 1v2l-1.7 1-1.7-1v-2zM414.3 100.9l1.7 1v2l-1.7 1-1.7-1v-2zM417.7 100.9l1.7 1v2l-1.7 1-1.7-1v-2zM421.1 100.9l1.7 1v2l-1.7 1-1.7-1v-2zM424.4 100.9l1.7 1v2l-1.7 1-1.7-1v-2zM427.8 100.9l1.7 1v2l-1.7 1-1.7-1v-2zM431.2 100.9l1.7 1v2l-1.7 1-1.7-1v-2zM434.6 100.9l1.7 1v2l-1.7 1-1.7-1v-2zM437.9 100.9l1.7 1v2l-1.7 1-1.7-1v-2zM441.3 100.9l1.7 1v2l-1.7 1-1.7-1v-2zM444.7 100.9l1.7 1v2l-1.7 1-1.7-1v-2zM448.1 100.9l1.7 1v2l-1.7 1-1.7-1v-2zM451.4 100.9l1.7 1v2l-1.7 1-1.7-1v-2zM454.8 100.9l1.7 1v2l-1.7 1-1.7-1v-2zM458.2 100.9l1.7 1v2l-1.7 1-1.7-1v-2zM461.6 100.9l1.7 1v2l-1.7 1-1.7-1v-2zM405.9 103.8l1.7 1v2l-1.7 1-1.7-1v-2zM409.2 103.8l1.7 1v2l-1.7 1-1.7-1v-2zM412.6 103.8l1.7 1v2l-1.7 1-1.7-1v-2zM416.0 103.8l1.7 1v2l-1.7 1-1.7-1v-2zM419.4 103.8l1.7 1v2l-1.7 1-1.7-1v-2zM422.7 103.8l1.7 1v2l-1.7 1-1.7-1v-2zM426.1 103.8l1.7 1v2l-1.7 1-1.7-1v-2zM429.5 103.8l1.7 1v2l-1.7 1-1.7-1v-2zM432.9 103.8l1.7 1v2l-1.7 1-1.7-1v-2zM436.3 103.8l1.7 1v2l-1.7 1-1.7-1v-2zM439.6 103.8l1.7 1v2l-1.7 1-1.7-1v-2zM410.9 106.8l1.7 1v2l-1.7 1-1.7-1v-2zM414.3 106.8l1.7 1v2l-1.7 1-1.7-1v-2zM417.7 106.8l1.7 1v2l-1.7 1-1.7-1v-2zM421.1 106.8l1.7 1v2l-1.7 1-1.7-1v-2z" fill="#6a8fd4" stroke="#6a8fd4" stroke-width="0.35"/>
<path d="M431.2 95.1l1.7 1v2l-1.7 1-1.7-1v-2zM434.6 95.1l1.7 1v2l-1.7 1-1.7-1v-2zM437.9 95.1l1.7 1v2l-1.7 1-1.7-1v-2zM441.3 95.1l1.7 1v2l-1.7 1-1.7-1v-2zM444.7 95.1l1.7 1v2l-1.7 1-1.7-1v-2zM448.1 95.1l1.7 1v2l-1.7 1-1.7-1v-2zM451.4 95.1l1.7 1v2l-1.7 1-1.7-1v-2zM454.8 95.1l1.7 1v2l-1.7 1-1.7-1v-2zM458.2 95.1l1.7 1v2l-1.7 1-1.7-1v-2zM461.6 95.1l1.7 1v2l-1.7 1-1.7-1v-2zM465.0 95.1l1.7 1v2l-1.7 1-1.7-1v-2zM468.3 95.1l1.7 1v2l-1.7 1-1.7-1v-2zM471.7 95.1l1.7 1v2l-1.7 1-1.7-1v-2zM475.1 95.1l1.7 1v2l-1.7 1-1.7-1v-2zM478.5 95.1l1.7 1v2l-1.7 1-1.7-1v-2zM481.8 95.1l1.7 1v2l-1.7 1-1.7-1v-2z" fill="#3f63b9" stroke="#3f63b9" stroke-width="0.35"/>
<line x1="383.40" y1="94.10" x2="527.10" y2="94.10" stroke="#9a9a9a" stroke-width="0.9" stroke-dasharray="4,3"/>
<rect x="383.40" y="42.50" width="143.70" height="103.40" fill="none" stroke="#333" stroke-width="1.1"/>
<line x1="380.80" y1="51.00" x2="383.40" y2="51.00" stroke="#333" stroke-width="0.9"/>
<text x="380.00" y="53.90" font-size="8.2" text-anchor="end" fill="#333" stroke="#333" stroke-width="0.16">10</text>
<line x1="380.80" y1="72.55" x2="383.40" y2="72.55" stroke="#333" stroke-width="0.9"/>
<text x="380.00" y="75.45" font-size="8.2" text-anchor="end" fill="#333" stroke="#333" stroke-width="0.16">5</text>
<line x1="380.80" y1="94.10" x2="383.40" y2="94.10" stroke="#333" stroke-width="0.9"/>
<text x="380.00" y="97.00" font-size="8.2" text-anchor="end" fill="#333" stroke="#333" stroke-width="0.16">0</text>
<line x1="380.80" y1="115.65" x2="383.40" y2="115.65" stroke="#333" stroke-width="0.9"/>
<text x="380.00" y="118.55" font-size="8.2" text-anchor="end" fill="#333" stroke="#333" stroke-width="0.16">−5</text>
<line x1="380.80" y1="137.20" x2="383.40" y2="137.20" stroke="#333" stroke-width="0.9"/>
<text x="380.00" y="140.10" font-size="8.2" text-anchor="end" fill="#333" stroke="#333" stroke-width="0.16">−10</text>
<line x1="393.51" y1="145.90" x2="393.51" y2="148.50" stroke="#333" stroke-width="0.9"/>
<text x="393.51" y="154.80" font-size="8.2" text-anchor="middle" fill="#333" stroke="#333" stroke-width="0.16">−4</text>
<line x1="414.43" y1="145.90" x2="414.43" y2="148.50" stroke="#333" stroke-width="0.9"/>
<text x="414.43" y="154.80" font-size="8.2" text-anchor="middle" fill="#333" stroke="#333" stroke-width="0.16">−2</text>
<line x1="435.35" y1="145.90" x2="435.35" y2="148.50" stroke="#333" stroke-width="0.9"/>
<text x="435.35" y="154.80" font-size="8.2" text-anchor="middle" fill="#333" stroke="#333" stroke-width="0.16">0</text>
<line x1="456.27" y1="145.90" x2="456.27" y2="148.50" stroke="#333" stroke-width="0.9"/>
<text x="456.27" y="154.80" font-size="8.2" text-anchor="middle" fill="#333" stroke="#333" stroke-width="0.16">2</text>
<line x1="477.19" y1="145.90" x2="477.19" y2="148.50" stroke="#333" stroke-width="0.9"/>
<text x="477.19" y="154.80" font-size="8.2" text-anchor="middle" fill="#333" stroke="#333" stroke-width="0.16">4</text>
<line x1="498.11" y1="145.90" x2="498.11" y2="148.50" stroke="#333" stroke-width="0.9"/>
<text x="498.11" y="154.80" font-size="8.2" text-anchor="middle" fill="#333" stroke="#333" stroke-width="0.16">6</text>
<line x1="519.03" y1="145.90" x2="519.03" y2="148.50" stroke="#333" stroke-width="0.9"/>
<text x="519.03" y="154.80" font-size="8.2" text-anchor="middle" fill="#333" stroke="#333" stroke-width="0.16">8</text>
<text x="467.55" y="161.80" font-size="8.8" text-anchor="middle" fill="#333" textLength="73.00" lengthAdjust="spacingAndGlyphs" stroke="#333" stroke-width="0.16">average log2 CPM</text>
<text x="460.30" y="31.10" font-size="10" text-anchor="middle" fill="#222" textLength="71.00" lengthAdjust="spacingAndGlyphs" stroke="#222" stroke-width="0.16"><tspan font-style="italic">Kmt2d</tspan>-KO/NTC</text>
<text x="383.60" y="39.50" font-size="9.0" text-anchor="start" fill="#2a2a2a" textLength="124.60" lengthAdjust="spacingAndGlyphs" stroke="#2a2a2a" stroke-width="0.16">UP:7619, NS:198064, DOWN:9045</text>
<text x="369.50" y="88.00" font-size="8.6" text-anchor="middle" fill="#333" textLength="25.00" lengthAdjust="spacingAndGlyphs" transform="rotate(-90 369.50 88.00)" stroke="#333" stroke-width="0.16">log2FC</text>
<path d="M572.3 66.1l1.7 1v2l-1.7 1-1.7-1v-2zM575.7 66.1l1.7 1v2l-1.7 1-1.7-1v-2zM570.6 69.0l1.7 1v2l-1.7 1-1.7-1v-2zM574.0 69.0l1.7 1v2l-1.7 1-1.7-1v-2zM577.4 69.0l1.7 1v2l-1.7 1-1.7-1v-2zM572.3 72.0l1.7 1v2l-1.7 1-1.7-1v-2zM570.6 74.9l1.7 1v2l-1.7 1-1.7-1v-2zM572.3 77.8l1.7 1v2l-1.7 1-1.7-1v-2zM575.7 77.8l1.7 1v2l-1.7 1-1.7-1v-2zM577.4 80.7l1.7 1v2l-1.7 1-1.7-1v-2zM580.8 80.7l1.7 1v2l-1.7 1-1.7-1v-2zM579.1 83.7l1.7 1v2l-1.7 1-1.7-1v-2zM582.5 83.7l1.7 1v2l-1.7 1-1.7-1v-2zM585.8 83.7l1.7 1v2l-1.7 1-1.7-1v-2zM589.2 83.7l1.7 1v2l-1.7 1-1.7-1v-2zM584.2 86.6l1.7 1v2l-1.7 1-1.7-1v-2zM587.5 86.6l1.7 1v2l-1.7 1-1.7-1v-2zM590.9 86.6l1.7 1v2l-1.7 1-1.7-1v-2zM594.3 86.6l1.7 1v2l-1.7 1-1.7-1v-2zM589.2 89.5l1.7 1v2l-1.7 1-1.7-1v-2zM592.6 89.5l1.7 1v2l-1.7 1-1.7-1v-2zM596.0 89.5l1.7 1v2l-1.7 1-1.7-1v-2zM599.4 89.5l1.7 1v2l-1.7 1-1.7-1v-2zM590.9 92.4l1.7 1v2l-1.7 1-1.7-1v-2zM641.6 92.4l1.7 1v2l-1.7 1-1.7-1v-2zM644.9 92.4l1.7 1v2l-1.7 1-1.7-1v-2zM648.3 92.4l1.7 1v2l-1.7 1-1.7-1v-2zM651.7 92.4l1.7 1v2l-1.7 1-1.7-1v-2zM655.1 92.4l1.7 1v2l-1.7 1-1.7-1v-2zM658.5 92.4l1.7 1v2l-1.7 1-1.7-1v-2zM661.8 92.4l1.7 1v2l-1.7 1-1.7-1v-2zM665.2 92.4l1.7 1v2l-1.7 1-1.7-1v-2zM668.6 92.4l1.7 1v2l-1.7 1-1.7-1v-2zM672.0 92.4l1.7 1v2l-1.7 1-1.7-1v-2zM675.3 92.4l1.7 1v2l-1.7 1-1.7-1v-2zM678.7 92.4l1.7 1v2l-1.7 1-1.7-1v-2zM682.1 92.4l1.7 1v2l-1.7 1-1.7-1v-2zM685.5 92.4l1.7 1v2l-1.7 1-1.7-1v-2zM688.9 92.4l1.7 1v2l-1.7 1-1.7-1v-2zM692.2 92.4l1.7 1v2l-1.7 1-1.7-1v-2zM695.6 92.4l1.7 1v2l-1.7 1-1.7-1v-2zM585.8 95.4l1.7 1v2l-1.7 1-1.7-1v-2zM589.2 95.4l1.7 1v2l-1.7 1-1.7-1v-2zM592.6 95.4l1.7 1v2l-1.7 1-1.7-1v-2zM596.0 95.4l1.7 1v2l-1.7 1-1.7-1v-2zM599.4 95.4l1.7 1v2l-1.7 1-1.7-1v-2zM602.7 95.4l1.7 1v2l-1.7 1-1.7-1v-2zM606.1 95.4l1.7 1v2l-1.7 1-1.7-1v-2zM609.5 95.4l1.7 1v2l-1.7 1-1.7-1v-2zM580.8 98.3l1.7 1v2l-1.7 1-1.7-1v-2zM584.2 98.3l1.7 1v2l-1.7 1-1.7-1v-2zM587.5 98.3l1.7 1v2l-1.7 1-1.7-1v-2zM590.9 98.3l1.7 1v2l-1.7 1-1.7-1v-2zM594.3 98.3l1.7 1v2l-1.7 1-1.7-1v-2zM575.7 101.2l1.7 1v2l-1.7 1-1.7-1v-2zM579.1 101.2l1.7 1v2l-1.7 1-1.7-1v-2zM582.5 101.2l1.7 1v2l-1.7 1-1.7-1v-2zM585.8 101.2l1.7 1v2l-1.7 1-1.7-1v-2zM570.6 104.1l1.7 1v2l-1.7 1-1.7-1v-2zM574.0 104.1l1.7 1v2l-1.7 1-1.7-1v-2zM577.4 104.1l1.7 1v2l-1.7 1-1.7-1v-2zM572.3 107.1l1.7 1v2l-1.7 1-1.7-1v-2zM570.6 110.0l1.7 1v2l-1.7 1-1.7-1v-2zM572.6 63.6l1.7 1v2l-1.7 1-1.7-1v-2z" fill="#bababa" stroke="#bababa" stroke-width="0.35"/>
<path d="M575.7 72.0l1.7 1v2l-1.7 1-1.7-1v-2zM579.1 72.0l1.7 1v2l-1.7 1-1.7-1v-2zM582.5 72.0l1.7 1v2l-1.7 1-1.7-1v-2zM585.8 72.0l1.7 1v2l-1.7 1-1.7-1v-2zM602.7 72.0l1.7 1v2l-1.7 1-1.7-1v-2zM606.1 72.0l1.7 1v2l-1.7 1-1.7-1v-2zM574.0 74.9l1.7 1v2l-1.7 1-1.7-1v-2zM577.4 74.9l1.7 1v2l-1.7 1-1.7-1v-2zM580.8 74.9l1.7 1v2l-1.7 1-1.7-1v-2zM584.2 74.9l1.7 1v2l-1.7 1-1.7-1v-2zM587.5 74.9l1.7 1v2l-1.7 1-1.7-1v-2zM590.9 74.9l1.7 1v2l-1.7 1-1.7-1v-2zM594.3 74.9l1.7 1v2l-1.7 1-1.7-1v-2zM597.7 74.9l1.7 1v2l-1.7 1-1.7-1v-2zM601.0 74.9l1.7 1v2l-1.7 1-1.7-1v-2zM604.4 74.9l1.7 1v2l-1.7 1-1.7-1v-2zM607.8 74.9l1.7 1v2l-1.7 1-1.7-1v-2zM611.2 74.9l1.7 1v2l-1.7 1-1.7-1v-2zM614.6 74.9l1.7 1v2l-1.7 1-1.7-1v-2zM617.9 74.9l1.7 1v2l-1.7 1-1.7-1v-2zM621.3 74.9l1.7 1v2l-1.7 1-1.7-1v-2zM579.1 77.8l1.7 1v2l-1.7 1-1.7-1v-2zM582.5 77.8l1.7 1v2l-1.7 1-1.7-1v-2zM585.8 77.8l1.7 1v2l-1.7 1-1.7-1v-2zM589.2 77.8l1.7 1v2l-1.7 1-1.7-1v-2zM592.6 77.8l1.7 1v2l-1.7 1-1.7-1v-2zM596.0 77.8l1.7 1v2l-1.7 1-1.7-1v-2zM599.4 77.8l1.7 1v2l-1.7 1-1.7-1v-2zM602.7 77.8l1.7 1v2l-1.7 1-1.7-1v-2zM606.1 77.8l1.7 1v2l-1.7 1-1.7-1v-2zM609.5 77.8l1.7 1v2l-1.7 1-1.7-1v-2zM612.9 77.8l1.7 1v2l-1.7 1-1.7-1v-2zM616.2 77.8l1.7 1v2l-1.7 1-1.7-1v-2zM619.6 77.8l1.7 1v2l-1.7 1-1.7-1v-2zM623.0 77.8l1.7 1v2l-1.7 1-1.7-1v-2zM626.4 77.8l1.7 1v2l-1.7 1-1.7-1v-2zM629.7 77.8l1.7 1v2l-1.7 1-1.7-1v-2zM633.1 77.8l1.7 1v2l-1.7 1-1.7-1v-2zM636.5 77.8l1.7 1v2l-1.7 1-1.7-1v-2zM584.2 80.7l1.7 1v2l-1.7 1-1.7-1v-2zM587.5 80.7l1.7 1v2l-1.7 1-1.7-1v-2zM590.9 80.7l1.7 1v2l-1.7 1-1.7-1v-2zM594.3 80.7l1.7 1v2l-1.7 1-1.7-1v-2zM597.7 80.7l1.7 1v2l-1.7 1-1.7-1v-2zM601.0 80.7l1.7 1v2l-1.7 1-1.7-1v-2zM604.4 80.7l1.7 1v2l-1.7 1-1.7-1v-2zM607.8 80.7l1.7 1v2l-1.7 1-1.7-1v-2zM611.2 80.7l1.7 1v2l-1.7 1-1.7-1v-2zM614.6 80.7l1.7 1v2l-1.7 1-1.7-1v-2zM617.9 80.7l1.7 1v2l-1.7 1-1.7-1v-2zM621.3 80.7l1.7 1v2l-1.7 1-1.7-1v-2zM624.7 80.7l1.7 1v2l-1.7 1-1.7-1v-2zM628.1 80.7l1.7 1v2l-1.7 1-1.7-1v-2zM631.4 80.7l1.7 1v2l-1.7 1-1.7-1v-2zM634.8 80.7l1.7 1v2l-1.7 1-1.7-1v-2zM638.2 80.7l1.7 1v2l-1.7 1-1.7-1v-2zM641.6 80.7l1.7 1v2l-1.7 1-1.7-1v-2zM644.9 80.7l1.7 1v2l-1.7 1-1.7-1v-2zM648.3 80.7l1.7 1v2l-1.7 1-1.7-1v-2zM651.7 80.7l1.7 1v2l-1.7 1-1.7-1v-2zM592.6 83.7l1.7 1v2l-1.7 1-1.7-1v-2zM596.0 83.7l1.7 1v2l-1.7 1-1.7-1v-2zM599.4 83.7l1.7 1v2l-1.7 1-1.7-1v-2zM602.7 83.7l1.7 1v2l-1.7 1-1.7-1v-2zM606.1 83.7l1.7 1v2l-1.7 1-1.7-1v-2zM609.5 83.7l1.7 1v2l-1.7 1-1.7-1v-2zM612.9 83.7l1.7 1v2l-1.7 1-1.7-1v-2zM616.2 83.7l1.7 1v2l-1.7 1-1.7-1v-2zM619.6 83.7l1.7 1v2l-1.7 1-1.7-1v-2zM623.0 83.7l1.7 1v2l-1.7 1-1.7-1v-2zM626.4 83.7l1.7 1v2l-1.7 1-1.7-1v-2zM629.7 83.7l1.7 1v2l-1.7 1-1.7-1v-2zM633.1 83.7l1.7 1v2l-1.7 1-1.7-1v-2zM636.5 83.7l1.7 1v2l-1.7 1-1.7-1v-2zM639.9 83.7l1.7 1v2l-1.7 1-1.7-1v-2zM643.3 83.7l1.7 1v2l-1.7 1-1.7-1v-2zM646.6 83.7l1.7 1v2l-1.7 1-1.7-1v-2zM650.0 83.7l1.7 1v2l-1.7 1-1.7-1v-2zM653.4 83.7l1.7 1v2l-1.7 1-1.7-1v-2zM656.8 83.7l1.7 1v2l-1.7 1-1.7-1v-2zM660.1 83.7l1.7 1v2l-1.7 1-1.7-1v-2zM663.5 83.7l1.7 1v2l-1.7 1-1.7-1v-2zM597.7 86.6l1.7 1v2l-1.7 1-1.7-1v-2zM601.0 86.6l1.7 1v2l-1.7 1-1.7-1v-2zM604.4 86.6l1.7 1v2l-1.7 1-1.7-1v-2zM607.8 86.6l1.7 1v2l-1.7 1-1.7-1v-2zM611.2 86.6l1.7 1v2l-1.7 1-1.7-1v-2zM614.6 86.6l1.7 1v2l-1.7 1-1.7-1v-2zM617.9 86.6l1.7 1v2l-1.7 1-1.7-1v-2zM621.3 86.6l1.7 1v2l-1.7 1-1.7-1v-2zM624.7 86.6l1.7 1v2l-1.7 1-1.7-1v-2zM628.1 86.6l1.7 1v2l-1.7 1-1.7-1v-2zM631.4 86.6l1.7 1v2l-1.7 1-1.7-1v-2zM634.8 86.6l1.7 1v2l-1.7 1-1.7-1v-2zM638.2 86.6l1.7 1v2l-1.7 1-1.7-1v-2zM641.6 86.6l1.7 1v2l-1.7 1-1.7-1v-2zM644.9 86.6l1.7 1v2l-1.7 1-1.7-1v-2zM648.3 86.6l1.7 1v2l-1.7 1-1.7-1v-2zM651.7 86.6l1.7 1v2l-1.7 1-1.7-1v-2zM655.1 86.6l1.7 1v2l-1.7 1-1.7-1v-2zM658.5 86.6l1.7 1v2l-1.7 1-1.7-1v-2zM661.8 86.6l1.7 1v2l-1.7 1-1.7-1v-2zM665.2 86.6l1.7 1v2l-1.7 1-1.7-1v-2zM668.6 86.6l1.7 1v2l-1.7 1-1.7-1v-2zM672.0 86.6l1.7 1v2l-1.7 1-1.7-1v-2zM675.3 86.6l1.7 1v2l-1.7 1-1.7-1v-2zM678.7 86.6l1.7 1v2l-1.7 1-1.7-1v-2zM609.5 89.5l1.7 1v2l-1.7 1-1.7-1v-2zM612.9 89.5l1.7 1v2l-1.7 1-1.7-1v-2zM673.7 89.5l1.7 1v2l-1.7 1-1.7-1v-2zM677.0 89.5l1.7 1v2l-1.7 1-1.7-1v-2zM680.4 89.5l1.7 1v2l-1.7 1-1.7-1v-2zM683.8 89.5l1.7 1v2l-1.7 1-1.7-1v-2z" fill="#e0363c" stroke="#e0363c" stroke-width="0.35"/>
<path d="M616.2 89.5l1.7 1v2l-1.7 1-1.7-1v-2zM619.6 89.5l1.7 1v2l-1.7 1-1.7-1v-2zM623.0 89.5l1.7 1v2l-1.7 1-1.7-1v-2zM626.4 89.5l1.7 1v2l-1.7 1-1.7-1v-2zM629.7 89.5l1.7 1v2l-1.7 1-1.7-1v-2zM633.1 89.5l1.7 1v2l-1.7 1-1.7-1v-2zM636.5 89.5l1.7 1v2l-1.7 1-1.7-1v-2zM639.9 89.5l1.7 1v2l-1.7 1-1.7-1v-2zM643.3 89.5l1.7 1v2l-1.7 1-1.7-1v-2zM646.6 89.5l1.7 1v2l-1.7 1-1.7-1v-2zM650.0 89.5l1.7 1v2l-1.7 1-1.7-1v-2zM653.4 89.5l1.7 1v2l-1.7 1-1.7-1v-2zM656.8 89.5l1.7 1v2l-1.7 1-1.7-1v-2zM660.1 89.5l1.7 1v2l-1.7 1-1.7-1v-2zM663.5 89.5l1.7 1v2l-1.7 1-1.7-1v-2zM666.9 89.5l1.7 1v2l-1.7 1-1.7-1v-2zM670.3 89.5l1.7 1v2l-1.7 1-1.7-1v-2z" fill="#c8212b" stroke="#c8212b" stroke-width="0.35"/>
<path d="M594.3 92.4l1.7 1v2l-1.7 1-1.7-1v-2zM597.7 92.4l1.7 1v2l-1.7 1-1.7-1v-2zM601.0 92.4l1.7 1v2l-1.7 1-1.7-1v-2zM604.4 92.4l1.7 1v2l-1.7 1-1.7-1v-2zM607.8 92.4l1.7 1v2l-1.7 1-1.7-1v-2zM611.2 92.4l1.7 1v2l-1.7 1-1.7-1v-2zM614.6 92.4l1.7 1v2l-1.7 1-1.7-1v-2zM617.9 92.4l1.7 1v2l-1.7 1-1.7-1v-2zM621.3 92.4l1.7 1v2l-1.7 1-1.7-1v-2zM624.7 92.4l1.7 1v2l-1.7 1-1.7-1v-2zM628.1 92.4l1.7 1v2l-1.7 1-1.7-1v-2zM631.4 92.4l1.7 1v2l-1.7 1-1.7-1v-2zM634.8 92.4l1.7 1v2l-1.7 1-1.7-1v-2zM638.2 92.4l1.7 1v2l-1.7 1-1.7-1v-2z" fill="#3a3a3a" stroke="#3a3a3a" stroke-width="0.35"/>
<path d="M612.9 95.4l1.7 1v2l-1.7 1-1.7-1v-2zM616.2 95.4l1.7 1v2l-1.7 1-1.7-1v-2zM619.6 95.4l1.7 1v2l-1.7 1-1.7-1v-2zM623.0 95.4l1.7 1v2l-1.7 1-1.7-1v-2zM626.4 95.4l1.7 1v2l-1.7 1-1.7-1v-2zM629.7 95.4l1.7 1v2l-1.7 1-1.7-1v-2zM633.1 95.4l1.7 1v2l-1.7 1-1.7-1v-2zM636.5 95.4l1.7 1v2l-1.7 1-1.7-1v-2zM639.9 95.4l1.7 1v2l-1.7 1-1.7-1v-2zM643.3 95.4l1.7 1v2l-1.7 1-1.7-1v-2zM646.6 95.4l1.7 1v2l-1.7 1-1.7-1v-2zM650.0 95.4l1.7 1v2l-1.7 1-1.7-1v-2zM653.4 95.4l1.7 1v2l-1.7 1-1.7-1v-2zM656.8 95.4l1.7 1v2l-1.7 1-1.7-1v-2zM601.0 98.3l1.7 1v2l-1.7 1-1.7-1v-2zM604.4 98.3l1.7 1v2l-1.7 1-1.7-1v-2zM607.8 98.3l1.7 1v2l-1.7 1-1.7-1v-2zM611.2 98.3l1.7 1v2l-1.7 1-1.7-1v-2zM614.6 98.3l1.7 1v2l-1.7 1-1.7-1v-2zM617.9 98.3l1.7 1v2l-1.7 1-1.7-1v-2zM621.3 98.3l1.7 1v2l-1.7 1-1.7-1v-2zM624.7 98.3l1.7 1v2l-1.7 1-1.7-1v-2zM628.1 98.3l1.7 1v2l-1.7 1-1.7-1v-2zM631.4 98.3l1.7 1v2l-1.7 1-1.7-1v-2zM634.8 98.3l1.7 1v2l-1.7 1-1.7-1v-2zM638.2 98.3l1.7 1v2l-1.7 1-1.7-1v-2zM641.6 98.3l1.7 1v2l-1.7 1-1.7-1v-2zM644.9 98.3l1.7 1v2l-1.7 1-1.7-1v-2zM648.3 98.3l1.7 1v2l-1.7 1-1.7-1v-2zM651.7 98.3l1.7 1v2l-1.7 1-1.7-1v-2zM655.1 98.3l1.7 1v2l-1.7 1-1.7-1v-2zM658.5 98.3l1.7 1v2l-1.7 1-1.7-1v-2z" fill="#3f63b9" stroke="#3f63b9" stroke-width="0.35"/>
<path d="M660.1 95.4l1.7 1v2l-1.7 1-1.7-1v-2zM663.5 95.4l1.7 1v2l-1.7 1-1.7-1v-2zM666.9 95.4l1.7 1v2l-1.7 1-1.7-1v-2zM670.3 95.4l1.7 1v2l-1.7 1-1.7-1v-2zM673.7 95.4l1.7 1v2l-1.7 1-1.7-1v-2zM677.0 95.4l1.7 1v2l-1.7 1-1.7-1v-2zM680.4 95.4l1.7 1v2l-1.7 1-1.7-1v-2zM597.7 98.3l1.7 1v2l-1.7 1-1.7-1v-2zM661.8 98.3l1.7 1v2l-1.7 1-1.7-1v-2zM665.2 98.3l1.7 1v2l-1.7 1-1.7-1v-2zM668.6 98.3l1.7 1v2l-1.7 1-1.7-1v-2zM589.2 101.2l1.7 1v2l-1.7 1-1.7-1v-2zM592.6 101.2l1.7 1v2l-1.7 1-1.7-1v-2zM596.0 101.2l1.7 1v2l-1.7 1-1.7-1v-2zM599.4 101.2l1.7 1v2l-1.7 1-1.7-1v-2zM602.7 101.2l1.7 1v2l-1.7 1-1.7-1v-2zM606.1 101.2l1.7 1v2l-1.7 1-1.7-1v-2zM609.5 101.2l1.7 1v2l-1.7 1-1.7-1v-2zM612.9 101.2l1.7 1v2l-1.7 1-1.7-1v-2zM616.2 101.2l1.7 1v2l-1.7 1-1.7-1v-2zM619.6 101.2l1.7 1v2l-1.7 1-1.7-1v-2zM623.0 101.2l1.7 1v2l-1.7 1-1.7-1v-2zM626.4 101.2l1.7 1v2l-1.7 1-1.7-1v-2zM629.7 101.2l1.7 1v2l-1.7 1-1.7-1v-2zM633.1 101.2l1.7 1v2l-1.7 1-1.7-1v-2zM636.5 101.2l1.7 1v2l-1.7 1-1.7-1v-2zM639.9 101.2l1.7 1v2l-1.7 1-1.7-1v-2zM643.3 101.2l1.7 1v2l-1.7 1-1.7-1v-2zM646.6 101.2l1.7 1v2l-1.7 1-1.7-1v-2zM650.0 101.2l1.7 1v2l-1.7 1-1.7-1v-2zM653.4 101.2l1.7 1v2l-1.7 1-1.7-1v-2zM656.8 101.2l1.7 1v2l-1.7 1-1.7-1v-2zM660.1 101.2l1.7 1v2l-1.7 1-1.7-1v-2zM580.8 104.1l1.7 1v2l-1.7 1-1.7-1v-2zM584.2 104.1l1.7 1v2l-1.7 1-1.7-1v-2zM587.5 104.1l1.7 1v2l-1.7 1-1.7-1v-2zM590.9 104.1l1.7 1v2l-1.7 1-1.7-1v-2zM594.3 104.1l1.7 1v2l-1.7 1-1.7-1v-2zM597.7 104.1l1.7 1v2l-1.7 1-1.7-1v-2zM601.0 104.1l1.7 1v2l-1.7 1-1.7-1v-2zM604.4 104.1l1.7 1v2l-1.7 1-1.7-1v-2zM607.8 104.1l1.7 1v2l-1.7 1-1.7-1v-2zM611.2 104.1l1.7 1v2l-1.7 1-1.7-1v-2zM614.6 104.1l1.7 1v2l-1.7 1-1.7-1v-2zM617.9 104.1l1.7 1v2l-1.7 1-1.7-1v-2zM621.3 104.1l1.7 1v2l-1.7 1-1.7-1v-2zM624.7 104.1l1.7 1v2l-1.7 1-1.7-1v-2zM628.1 104.1l1.7 1v2l-1.7 1-1.7-1v-2zM631.4 104.1l1.7 1v2l-1.7 1-1.7-1v-2zM634.8 104.1l1.7 1v2l-1.7 1-1.7-1v-2zM638.2 104.1l1.7 1v2l-1.7 1-1.7-1v-2zM641.6 104.1l1.7 1v2l-1.7 1-1.7-1v-2zM575.7 107.1l1.7 1v2l-1.7 1-1.7-1v-2zM579.1 107.1l1.7 1v2l-1.7 1-1.7-1v-2zM582.5 107.1l1.7 1v2l-1.7 1-1.7-1v-2zM585.8 107.1l1.7 1v2l-1.7 1-1.7-1v-2zM589.2 107.1l1.7 1v2l-1.7 1-1.7-1v-2zM592.6 107.1l1.7 1v2l-1.7 1-1.7-1v-2zM596.0 107.1l1.7 1v2l-1.7 1-1.7-1v-2zM599.4 107.1l1.7 1v2l-1.7 1-1.7-1v-2zM602.7 107.1l1.7 1v2l-1.7 1-1.7-1v-2zM606.1 107.1l1.7 1v2l-1.7 1-1.7-1v-2zM609.5 107.1l1.7 1v2l-1.7 1-1.7-1v-2zM612.9 107.1l1.7 1v2l-1.7 1-1.7-1v-2zM616.2 107.1l1.7 1v2l-1.7 1-1.7-1v-2zM619.6 107.1l1.7 1v2l-1.7 1-1.7-1v-2zM623.0 107.1l1.7 1v2l-1.7 1-1.7-1v-2zM574.0 110.0l1.7 1v2l-1.7 1-1.7-1v-2zM577.4 110.0l1.7 1v2l-1.7 1-1.7-1v-2zM580.8 110.0l1.7 1v2l-1.7 1-1.7-1v-2zM584.2 110.0l1.7 1v2l-1.7 1-1.7-1v-2zM587.5 110.0l1.7 1v2l-1.7 1-1.7-1v-2zM590.9 110.0l1.7 1v2l-1.7 1-1.7-1v-2zM594.3 110.0l1.7 1v2l-1.7 1-1.7-1v-2zM597.7 110.0l1.7 1v2l-1.7 1-1.7-1v-2zM601.0 110.0l1.7 1v2l-1.7 1-1.7-1v-2zM604.4 110.0l1.7 1v2l-1.7 1-1.7-1v-2zM575.7 112.9l1.7 1v2l-1.7 1-1.7-1v-2zM579.1 112.9l1.7 1v2l-1.7 1-1.7-1v-2zM582.5 112.9l1.7 1v2l-1.7 1-1.7-1v-2zM585.8 112.9l1.7 1v2l-1.7 1-1.7-1v-2zM576.0 118.0l1.7 1v2l-1.7 1-1.7-1v-2zM579.0 120.5l1.7 1v2l-1.7 1-1.7-1v-2zM582.0 117.0l1.7 1v2l-1.7 1-1.7-1v-2zM594.0 114.5l1.7 1v2l-1.7 1-1.7-1v-2zM662.0 104.3l1.7 1v2l-1.7 1-1.7-1v-2z" fill="#6a8fd4" stroke="#6a8fd4" stroke-width="0.35"/>
<line x1="561.70" y1="94.40" x2="703.60" y2="94.40" stroke="#9a9a9a" stroke-width="0.9" stroke-dasharray="4,3"/>
<rect x="561.70" y="42.40" width="141.90" height="104.00" fill="none" stroke="#333" stroke-width="1.1"/>
<line x1="559.10" y1="50.95" x2="561.70" y2="50.95" stroke="#333" stroke-width="0.9"/>
<text x="558.30" y="53.85" font-size="8.2" text-anchor="end" fill="#333" stroke="#333" stroke-width="0.16">10</text>
<line x1="559.10" y1="72.68" x2="561.70" y2="72.68" stroke="#333" stroke-width="0.9"/>
<text x="558.30" y="75.58" font-size="8.2" text-anchor="end" fill="#333" stroke="#333" stroke-width="0.16">5</text>
<line x1="559.10" y1="94.40" x2="561.70" y2="94.40" stroke="#333" stroke-width="0.9"/>
<text x="558.30" y="97.30" font-size="8.2" text-anchor="end" fill="#333" stroke="#333" stroke-width="0.16">0</text>
<line x1="559.10" y1="116.12" x2="561.70" y2="116.12" stroke="#333" stroke-width="0.9"/>
<text x="558.30" y="119.03" font-size="8.2" text-anchor="end" fill="#333" stroke="#333" stroke-width="0.16">−5</text>
<line x1="559.10" y1="137.85" x2="561.70" y2="137.85" stroke="#333" stroke-width="0.9"/>
<text x="558.30" y="140.75" font-size="8.2" text-anchor="end" fill="#333" stroke="#333" stroke-width="0.16">−10</text>
<line x1="567.30" y1="146.40" x2="567.30" y2="149.00" stroke="#333" stroke-width="0.9"/>
<text x="567.30" y="155.30" font-size="8.2" text-anchor="middle" fill="#333" stroke="#333" stroke-width="0.16">−4</text>
<line x1="589.10" y1="146.40" x2="589.10" y2="149.00" stroke="#333" stroke-width="0.9"/>
<text x="589.10" y="155.30" font-size="8.2" text-anchor="middle" fill="#333" stroke="#333" stroke-width="0.16">−2</text>
<line x1="610.90" y1="146.40" x2="610.90" y2="149.00" stroke="#333" stroke-width="0.9"/>
<text x="610.90" y="155.30" font-size="8.2" text-anchor="middle" fill="#333" stroke="#333" stroke-width="0.16">0</text>
<line x1="632.70" y1="146.40" x2="632.70" y2="149.00" stroke="#333" stroke-width="0.9"/>
<text x="632.70" y="155.30" font-size="8.2" text-anchor="middle" fill="#333" stroke="#333" stroke-width="0.16">2</text>
<line x1="654.50" y1="146.40" x2="654.50" y2="149.00" stroke="#333" stroke-width="0.9"/>
<text x="654.50" y="155.30" font-size="8.2" text-anchor="middle" fill="#333" stroke="#333" stroke-width="0.16">4</text>
<line x1="676.30" y1="146.40" x2="676.30" y2="149.00" stroke="#333" stroke-width="0.9"/>
<text x="676.30" y="155.30" font-size="8.2" text-anchor="middle" fill="#333" stroke="#333" stroke-width="0.16">6</text>
<line x1="698.10" y1="146.40" x2="698.10" y2="149.00" stroke="#333" stroke-width="0.9"/>
<text x="698.10" y="155.30" font-size="8.2" text-anchor="middle" fill="#333" stroke="#333" stroke-width="0.16">8</text>
<text x="644.15" y="162.30" font-size="8.8" text-anchor="middle" fill="#333" textLength="73.00" lengthAdjust="spacingAndGlyphs" stroke="#333" stroke-width="0.16">average log2 CPM</text>
<text x="637.30" y="31.10" font-size="10" text-anchor="middle" fill="#222" textLength="77.30" lengthAdjust="spacingAndGlyphs" stroke="#222" stroke-width="0.16"><tspan font-style="italic">WDR82</tspan>-KO/NTC</text>
<text x="562.40" y="39.50" font-size="9.0" text-anchor="start" fill="#2a2a2a" textLength="133.80" lengthAdjust="spacingAndGlyphs" stroke="#2a2a2a" stroke-width="0.16">UP:24469, NS:146292, DOWN:26711</text>
<text x="545.60" y="87.00" font-size="8.6" text-anchor="middle" fill="#333" textLength="25.00" lengthAdjust="spacingAndGlyphs" transform="rotate(-90 545.60 87.00)" stroke="#333" stroke-width="0.16">log2FC</text>
<path d="M94.9 277.6h0M95.4 276.8h0M98.0 302.7h0M93.2 249.3h0M100.8 311.3h0M103.2 317.3h0M93.5 260.4h0M100.7 320.6h0M99.3 302.4h0M95.0 277.5h0M95.2 271.7h0M93.0 260.1h0M89.6 232.8h0M92.7 256.6h0M99.8 293.3h0M97.9 282.2h0M89.5 235.7h0M100.0 300.0h0M88.2 234.2h0M94.4 262.3h0M99.1 313.9h0M93.0 252.2h0M101.7 311.5h0M98.4 303.2h0M99.2 301.9h0M94.8 262.0h0M98.7 301.6h0M91.8 249.3h0M97.6 301.0h0M96.4 262.8h0M99.0 301.0h0M97.9 289.4h0M99.6 312.0h0M94.1 265.6h0M88.2 235.7h0M91.9 243.2h0M91.3 239.0h0M99.1 300.8h0M101.1 301.2h0M94.4 265.1h0M101.5 317.7h0M92.9 257.5h0M94.7 265.9h0M93.4 255.3h0M96.2 268.1h0M99.0 293.5h0M100.9 321.1h0M101.0 315.9h0M95.8 268.0h0M92.6 240.8h0M92.8 257.4h0M102.9 318.4h0M93.3 256.7h0M92.7 262.3h0M98.4 290.1h0M95.4 268.6h0M92.0 252.7h0M90.0 239.6h0M91.8 239.6h0M93.3 248.6h0M93.5 263.7h0M95.9 264.9h0M89.1 232.5h0M97.3 283.0h0M97.2 278.9h0M93.8 252.7h0M96.7 276.5h0M94.6 273.2h0M99.5 296.0h0M93.6 259.0h0M90.5 239.1h0M90.6 241.6h0M97.6 301.9h0M91.6 238.6h0M94.9 267.0h0M97.2 273.2h0M93.6 255.7h0M98.7 304.4h0M97.9 300.4h0M95.6 275.5h0M88.1 234.0h0M101.0 318.5h0M92.2 255.9h0M93.0 249.1h0M98.6 278.0h0M99.0 297.9h0M93.0 263.0h0M94.7 259.2h0M93.7 258.8h0M100.4 303.4h0M93.2 256.1h0M97.5 287.0h0M94.6 263.4h0M92.8 248.9h0M90.5 237.2h0M95.4 277.0h0M95.8 284.3h0M93.5 248.4h0M94.4 261.8h0M91.5 246.1h0M101.2 299.0h0M87.0 234.1h0M99.6 289.3h0M98.7 287.7h0M95.6 268.8h0M101.0 318.8h0M92.9 248.9h0M92.8 249.7h0M95.7 271.3h0M94.3 257.5h0M90.4 236.5h0M95.5 272.5h0M92.3 261.8h0M95.0 269.2h0M92.5 244.4h0M93.0 244.0h0M95.6 268.3h0M96.0 273.5h0M88.0 234.8h0M91.5 248.0h0M94.3 257.9h0M99.3 281.1h0M98.0 294.8h0M97.9 278.5h0M96.3 276.3h0M95.0 263.6h0M93.1 250.2h0M98.6 298.2h0M97.4 286.6h0M93.4 254.7h0M99.1 297.2h0M96.3 279.9h0M96.2 271.7h0M93.5 262.0h0M90.5 243.4h0M98.8 297.1h0M90.7 240.4h0M91.4 240.4h0M91.8 241.5h0M92.6 254.9h0M90.7 246.2h0M98.7 309.1h0M101.4 321.1h0M91.4 239.2h0M96.2 272.7h0M93.5 258.2h0M101.3 310.8h0M95.5 272.4h0M99.8 303.9h0M88.5 233.3h0M101.5 315.0h0M92.0 252.0h0M94.8 272.9h0M100.5 319.7h0M97.9 303.4h0M97.5 282.6h0M98.0 272.9h0M92.0 247.1h0M93.2 263.2h0M97.9 273.4h0M100.0 295.2h0M92.9 249.7h0M92.2 239.8h0M92.6 250.5h0M93.5 255.2h0M97.5 276.6h0M93.7 261.7h0M89.6 236.2h0M92.7 259.9h0M98.8 283.7h0M93.3 255.0h0M99.8 319.0h0M98.4 296.0h0M98.9 301.9h0M99.7 296.0h0M97.3 273.0h0M86.8 232.2h0M99.1 313.1h0M101.2 316.9h0M97.1 277.0h0M96.8 264.8h0M95.9 280.7h0M97.3 286.7h0M95.1 269.6h0M99.0 292.3h0M101.6 318.2h0M98.7 283.0h0M102.9 316.4h0M101.2 313.6h0M97.2 275.8h0M97.3 271.5h0M98.4 276.5h0M95.8 265.5h0M96.9 278.0h0M96.6 271.9h0M92.9 259.6h0M93.6 267.3h0M98.1 271.2h0M92.5 254.2h0M91.5 239.9h0M97.5 287.3h0M94.2 267.8h0M92.8 252.8h0M90.2 233.5h0M101.5 317.9h0M96.8 280.3h0M96.0 270.4h0M92.2 258.5h0M96.9 285.2h0M97.8 286.7h0M101.7 314.7h0M94.5 262.8h0M97.0 281.6h0M96.0 284.1h0M96.5 289.2h0M89.9 238.7h0M100.4 311.4h0M99.3 312.7h0M92.8 259.0h0M100.7 314.6h0M99.8 314.0h0M93.1 257.6h0M97.6 286.0h0M99.7 308.7h0M92.8 238.1h0M97.3 278.9h0M96.3 291.0h0M91.2 241.1h0M97.0 286.3h0M97.9 284.6h0M90.8 248.3h0M96.1 269.3h0M91.4 241.8h0M94.8 272.3h0M88.1 234.2h0M98.9 314.7h0M101.7 313.4h0M92.3 240.7h0M99.7 305.9h0M99.0 297.9h0M96.0 271.4h0M99.3 288.2h0M94.8 274.2h0M93.8 255.8h0M91.4 245.2h0M93.5 246.8h0M88.7 235.1h0M93.2 255.4h0M98.1 281.7h0M87.7 233.6h0M98.4 301.1h0M89.7 235.0h0M99.0 308.9h0M100.3 303.5h0M95.3 266.5h0M100.3 310.7h0M98.6 297.1h0M99.3 299.4h0M99.5 303.4h0M96.0 269.1h0M104.6 294.2h0M102.6 288.2h0M104.9 278.1h0M110.5 244.4h0M104.7 274.5h0M111.0 241.7h0M100.8 316.8h0M107.1 254.3h0M103.3 303.9h0M104.1 294.6h0M106.3 266.5h0M105.8 274.9h0M101.7 316.8h0M108.2 253.6h0M107.0 261.2h0M105.6 278.8h0M108.1 252.0h0M104.7 282.8h0M108.1 253.8h0M105.7 275.7h0M103.8 291.2h0M102.9 291.7h0M104.0 287.0h0M102.8 285.0h0M107.9 252.8h0M104.1 285.5h0M105.3 271.9h0M111.4 241.6h0M105.5 268.6h0M105.0 274.2h0M104.1 284.4h0M103.2 299.4h0M109.4 244.7h0M104.1 289.2h0M103.6 305.3h0M106.7 262.0h0M107.9 252.2h0M103.6 298.0h0M105.6 284.2h0M103.7 282.1h0M107.1 256.7h0M103.9 289.5h0M103.9 282.5h0M106.7 254.9h0M101.2 316.4h0M106.4 265.9h0M105.3 274.9h0M106.2 269.3h0M108.9 247.7h0M105.6 277.3h0M110.2 242.2h0M108.5 253.8h0M105.8 267.5h0M102.7 295.9h0M104.5 289.4h0M105.9 280.5h0M103.5 304.8h0M104.9 272.0h0M110.7 247.4h0M106.4 269.9h0M104.1 292.5h0M105.6 270.9h0M105.4 273.2h0M104.5 301.4h0M105.7 265.8h0M106.0 259.8h0M107.8 254.7h0M105.2 279.5h0M105.7 272.1h0M103.1 294.6h0M106.7 266.4h0M103.7 304.3h0M104.1 279.3h0M106.3 261.8h0M106.0 277.7h0M107.9 251.5h0M106.0 271.3h0M103.9 275.3h0M104.8 290.6h0M109.3 247.3h0M106.5 259.0h0M102.6 311.5h0M104.8 276.6h0M105.8 262.3h0M103.5 291.7h0M103.5 310.3h0M106.5 264.0h0M107.6 255.5h0M105.6 271.5h0M107.7 256.0h0M110.8 244.7h0M103.7 292.2h0M109.5 247.9h0M104.0 287.4h0M102.1 314.3h0M106.5 276.1h0M104.9 279.2h0M110.1 246.3h0M107.7 252.9h0M104.5 300.9h0M103.0 299.5h0M109.2 249.5h0M106.0 261.3h0M108.7 249.9h0M106.9 262.0h0M102.4 310.7h0M106.5 261.6h0M102.9 296.1h0M103.6 285.2h0M105.6 270.5h0M109.7 245.9h0M107.3 267.3h0M103.9 281.0h0M101.5 313.0h0M103.6 295.6h0M103.7 292.6h0M103.3 293.4h0M109.5 248.3h0M104.8 278.9h0M109.6 246.1h0M101.1 316.6h0M101.4 317.5h0M101.5 315.7h0M101.5 316.6h0M101.6 320.3h0M100.7 313.6h0M101.5 319.2h0M101.3 317.1h0M101.7 316.6h0M100.8 318.3h0M101.1 312.7h0M101.0 316.6h0M101.2 313.4h0M101.1 320.7h0M101.4 320.1h0M101.4 314.3h0M101.1 317.7h0M101.8 318.0h0M101.1 312.8h0M101.6 317.7h0M100.8 311.3h0M101.2 313.0h0M101.3 314.6h0M100.6 312.4h0M101.1 311.9h0" stroke="#141414" stroke-width="1.5" stroke-linecap="round"/>
<line x1="47.00" y1="207.00" x2="47.00" y2="211.00" stroke="#151515" stroke-width="0.95"/>
<line x1="43.10" y1="212.00" x2="50.00" y2="211.00" stroke="#151515" stroke-width="0.95"/>
<line x1="50.50" y1="212.00" x2="50.00" y2="211.00" stroke="#151515" stroke-width="0.95"/>
<line x1="57.80" y1="215.50" x2="60.00" y2="215.50" stroke="#151515" stroke-width="0.95"/>
<line x1="46.00" y1="218.00" x2="46.00" y2="220.00" stroke="#151515" stroke-width="0.95"/>
<line x1="57.80" y1="221.50" x2="60.00" y2="219.00" stroke="#151515" stroke-width="0.95"/>
<line x1="76.00" y1="207.50" x2="76.00" y2="210.00" stroke="#151515" stroke-width="0.95"/>
<line x1="89.00" y1="209.50" x2="81.00" y2="221.00" stroke="#151515" stroke-width="0.95"/>
<line x1="81.00" y1="213.00" x2="81.00" y2="221.00" stroke="#151515" stroke-width="0.95"/>
<line x1="73.60" y1="216.00" x2="81.00" y2="221.00" stroke="#151515" stroke-width="0.95"/>
<line x1="79.40" y1="221.00" x2="81.00" y2="222.00" stroke="#151515" stroke-width="0.95"/>
<line x1="82.50" y1="218.00" x2="81.00" y2="221.00" stroke="#151515" stroke-width="0.95"/>
<line x1="68.60" y1="224.00" x2="80.00" y2="228.00" stroke="#151515" stroke-width="0.95"/>
<line x1="85.00" y1="224.00" x2="81.00" y2="230.00" stroke="#151515" stroke-width="0.95"/>
<line x1="68.80" y1="229.50" x2="80.00" y2="233.00" stroke="#151515" stroke-width="0.95"/>
<line x1="53.40" y1="234.00" x2="80.00" y2="233.00" stroke="#151515" stroke-width="0.95"/>
<line x1="80.00" y1="236.50" x2="80.00" y2="234.00" stroke="#151515" stroke-width="0.95"/>
<line x1="80.00" y1="240.50" x2="80.00" y2="233.00" stroke="#151515" stroke-width="0.95"/>
<line x1="69.30" y1="242.00" x2="80.00" y2="233.00" stroke="#151515" stroke-width="0.95"/>
<line x1="82.00" y1="243.00" x2="82.00" y2="241.00" stroke="#151515" stroke-width="0.95"/>
<line x1="48.00" y1="248.00" x2="80.00" y2="233.00" stroke="#151515" stroke-width="0.95"/>
<line x1="139.00" y1="201.50" x2="138.00" y2="204.00" stroke="#151515" stroke-width="0.95"/>
<line x1="136.00" y1="205.50" x2="135.00" y2="205.50" stroke="#151515" stroke-width="0.95"/>
<line x1="147.50" y1="213.50" x2="120.50" y2="226.50" stroke="#151515" stroke-width="0.95"/>
<line x1="128.00" y1="217.00" x2="120.50" y2="226.50" stroke="#151515" stroke-width="0.95"/>
<line x1="120.50" y1="221.50" x2="120.50" y2="226.50" stroke="#151515" stroke-width="0.95"/>
<line x1="132.00" y1="225.00" x2="120.50" y2="226.50" stroke="#151515" stroke-width="0.95"/>
<line x1="143.00" y1="228.50" x2="120.50" y2="227.50" stroke="#151515" stroke-width="0.95"/>
<line x1="129.00" y1="229.00" x2="120.50" y2="228.00" stroke="#151515" stroke-width="0.95"/>
<line x1="155.00" y1="235.50" x2="120.50" y2="228.00" stroke="#151515" stroke-width="0.95"/>
<line x1="123.00" y1="240.00" x2="117.00" y2="243.00" stroke="#151515" stroke-width="0.95"/>
<line x1="136.50" y1="243.50" x2="117.00" y2="245.00" stroke="#151515" stroke-width="0.95"/>
<line x1="116.50" y1="248.00" x2="116.00" y2="251.00" stroke="#151515" stroke-width="0.95"/>
<line x1="133.00" y1="252.00" x2="120.00" y2="254.00" stroke="#151515" stroke-width="0.95"/>
<text x="36.00" y="208.00" font-size="3.6" text-anchor="start" fill="#1a1a1a" textLength="15.30" lengthAdjust="spacingAndGlyphs" stroke="#1a1a1a" stroke-width="0.1">CEBP_bZIP</text>
<text x="29.50" y="213.00" font-size="3.6" text-anchor="start" fill="#1a1a1a" textLength="13.60" lengthAdjust="spacingAndGlyphs" stroke="#1a1a1a" stroke-width="0.1">HLF_bZIP</text>
<text x="50.50" y="213.00" font-size="3.6" text-anchor="start" fill="#1a1a1a" textLength="22.10" lengthAdjust="spacingAndGlyphs" stroke="#1a1a1a" stroke-width="0.1">CEBP:AP1_bZIP</text>
<text x="42.50" y="216.50" font-size="3.6" text-anchor="start" fill="#1a1a1a" textLength="15.30" lengthAdjust="spacingAndGlyphs" stroke="#1a1a1a" stroke-width="0.1">ATF4_bZIP</text>
<text x="29.50" y="219.00" font-size="3.6" text-anchor="start" fill="#1a1a1a" textLength="17.00" lengthAdjust="spacingAndGlyphs" stroke="#1a1a1a" stroke-width="0.1">NFIL3_bZIP</text>
<text x="42.50" y="222.50" font-size="3.6" text-anchor="start" fill="#1a1a1a" textLength="15.30" lengthAdjust="spacingAndGlyphs" stroke="#1a1a1a" stroke-width="0.1">Chop_bZIP</text>
<text x="73.50" y="208.50" font-size="3.6" text-anchor="start" fill="#1a1a1a" textLength="13.60" lengthAdjust="spacingAndGlyphs" stroke="#1a1a1a" stroke-width="0.1">SpiB_ETS</text>
<text x="89.00" y="210.50" font-size="3.6" text-anchor="start" fill="#1a1a1a" textLength="13.60" lengthAdjust="spacingAndGlyphs" stroke="#1a1a1a" stroke-width="0.1">ELF3_ETS</text>
<text x="75.00" y="214.00" font-size="3.6" text-anchor="start" fill="#1a1a1a" textLength="13.60" lengthAdjust="spacingAndGlyphs" stroke="#1a1a1a" stroke-width="0.1">PU.1_ETS</text>
<text x="60.00" y="217.00" font-size="3.6" text-anchor="start" fill="#1a1a1a" textLength="13.60" lengthAdjust="spacingAndGlyphs" stroke="#1a1a1a" stroke-width="0.1">ELF5_ETS</text>
<text x="67.50" y="222.00" font-size="3.6" text-anchor="start" fill="#1a1a1a" textLength="11.90" lengthAdjust="spacingAndGlyphs" stroke="#1a1a1a" stroke-width="0.1">EHF_ETS</text>
<text x="82.50" y="219.00" font-size="3.6" text-anchor="start" fill="#1a1a1a" textLength="20.40" lengthAdjust="spacingAndGlyphs" stroke="#1a1a1a" stroke-width="0.1">ETS:RUNX_ETS</text>
<text x="55.00" y="225.00" font-size="3.6" text-anchor="start" fill="#1a1a1a" textLength="13.60" lengthAdjust="spacingAndGlyphs" stroke="#1a1a1a" stroke-width="0.1">Fos_bZIP</text>
<text x="85.00" y="225.00" font-size="3.6" text-anchor="start" fill="#1a1a1a" textLength="22.10" lengthAdjust="spacingAndGlyphs" stroke="#1a1a1a" stroke-width="0.1">PU.1:IRF8_ETS</text>
<text x="53.50" y="230.50" font-size="3.6" text-anchor="start" fill="#1a1a1a" textLength="15.30" lengthAdjust="spacingAndGlyphs" stroke="#1a1a1a" stroke-width="0.1">Fra1_bZIP</text>
<text x="33.00" y="235.00" font-size="3.6" text-anchor="start" fill="#1a1a1a" textLength="20.40" lengthAdjust="spacingAndGlyphs" stroke="#1a1a1a" stroke-width="0.1">Jun-AP1_bZIP</text>
<text x="78.00" y="237.50" font-size="3.6" text-anchor="start" fill="#1a1a1a" textLength="11.90" lengthAdjust="spacingAndGlyphs" stroke="#1a1a1a" stroke-width="0.1">Bcl6_Zf</text>
<text x="69.50" y="241.50" font-size="3.6" text-anchor="start" fill="#1a1a1a" textLength="15.30" lengthAdjust="spacingAndGlyphs" stroke="#1a1a1a" stroke-width="0.1">Atf1_bZIP</text>
<text x="54.00" y="243.00" font-size="3.6" text-anchor="start" fill="#1a1a1a" textLength="15.30" lengthAdjust="spacingAndGlyphs" stroke="#1a1a1a" stroke-width="0.1">Atf3_bZIP</text>
<text x="82.00" y="244.00" font-size="3.6" text-anchor="start" fill="#1a1a1a" textLength="15.30" lengthAdjust="spacingAndGlyphs" stroke="#1a1a1a" stroke-width="0.1">MafK_bZIP</text>
<text x="31.00" y="249.00" font-size="3.6" text-anchor="start" fill="#1a1a1a" textLength="17.00" lengthAdjust="spacingAndGlyphs" stroke="#1a1a1a" stroke-width="0.1">Fosl2_bZIP</text>
<text x="96.80" y="255.30" font-size="3.6" text-anchor="start" fill="#1a1a1a" textLength="18.70" lengthAdjust="spacingAndGlyphs" stroke="#1a1a1a" stroke-width="0.1">ARID3A_ARID</text>
<text x="98.50" y="260.60" font-size="3.6" text-anchor="start" fill="#1a1a1a" textLength="13.60" lengthAdjust="spacingAndGlyphs" stroke="#1a1a1a" stroke-width="0.1">Cux2_CUT</text>
<text x="139.00" y="202.50" font-size="3.6" text-anchor="start" fill="#1a1a1a" textLength="11.90" lengthAdjust="spacingAndGlyphs" stroke="#1a1a1a" stroke-width="0.1">CTCF_Zf</text>
<text x="136.00" y="206.50" font-size="3.6" text-anchor="start" fill="#1a1a1a" textLength="13.60" lengthAdjust="spacingAndGlyphs" stroke="#1a1a1a" stroke-width="0.1">BORIS_Zf</text>
<text x="147.50" y="214.50" font-size="3.6" text-anchor="start" fill="#1a1a1a" textLength="15.30" lengthAdjust="spacingAndGlyphs" stroke="#1a1a1a" stroke-width="0.1">TEAD_MR_1</text>
<text x="128.00" y="218.00" font-size="3.6" text-anchor="start" fill="#1a1a1a" textLength="17.00" lengthAdjust="spacingAndGlyphs" stroke="#1a1a1a" stroke-width="0.1">RUNX1_Runt</text>
<text x="107.00" y="222.50" font-size="3.6" text-anchor="start" fill="#1a1a1a" textLength="22.10" lengthAdjust="spacingAndGlyphs" stroke="#1a1a1a" stroke-width="0.1">RUNX-AML_Runt</text>
<text x="132.00" y="226.00" font-size="3.6" text-anchor="start" fill="#1a1a1a" textLength="11.90" lengthAdjust="spacingAndGlyphs" stroke="#1a1a1a" stroke-width="0.1">Elk4_Zf</text>
<text x="105.00" y="227.50" font-size="3.6" text-anchor="start" fill="#1a1a1a" textLength="18.70" lengthAdjust="spacingAndGlyphs" stroke="#1a1a1a" stroke-width="0.1">Hoxa9_Homeo</text>
<text x="143.00" y="229.50" font-size="3.6" text-anchor="start" fill="#1a1a1a" textLength="13.60" lengthAdjust="spacingAndGlyphs" stroke="#1a1a1a" stroke-width="0.1">ZNF41_Zf</text>
<text x="104.50" y="230.00" font-size="3.6" text-anchor="start" fill="#1a1a1a" textLength="15.30" lengthAdjust="spacingAndGlyphs" stroke="#1a1a1a" stroke-width="0.1">Bcl11a_Zf</text>
<text x="129.00" y="230.00" font-size="3.6" text-anchor="start" fill="#1a1a1a" textLength="11.90" lengthAdjust="spacingAndGlyphs" stroke="#1a1a1a" stroke-width="0.1">ZNF3_Zf</text>
<text x="99.00" y="233.50" font-size="3.6" text-anchor="start" fill="#1a1a1a" textLength="17.00" lengthAdjust="spacingAndGlyphs" stroke="#1a1a1a" stroke-width="0.1">RUNX2_Runt</text>
<text x="141.00" y="233.00" font-size="3.6" text-anchor="start" fill="#1a1a1a" textLength="11.90" lengthAdjust="spacingAndGlyphs" stroke="#1a1a1a" stroke-width="0.1">ZEB1_Zf</text>
<text x="155.00" y="236.50" font-size="3.6" text-anchor="start" fill="#1a1a1a" textLength="11.90" lengthAdjust="spacingAndGlyphs" stroke="#1a1a1a" stroke-width="0.1">ZEB2_Zf</text>
<text x="114.00" y="236.50" font-size="3.6" text-anchor="start" fill="#1a1a1a" textLength="11.90" lengthAdjust="spacingAndGlyphs" stroke="#1a1a1a" stroke-width="0.1">ZEB1_Zf</text>
<text x="99.00" y="240.50" font-size="3.6" text-anchor="start" fill="#1a1a1a" textLength="11.90" lengthAdjust="spacingAndGlyphs" stroke="#1a1a1a" stroke-width="0.1">THRa_NR</text>
<text x="123.00" y="241.00" font-size="3.6" text-anchor="start" fill="#1a1a1a" textLength="11.90" lengthAdjust="spacingAndGlyphs" stroke="#1a1a1a" stroke-width="0.1">NF1_CTF</text>
<text x="136.50" y="244.50" font-size="3.6" text-anchor="start" fill="#1a1a1a" textLength="15.30" lengthAdjust="spacingAndGlyphs" stroke="#1a1a1a" stroke-width="0.1">TEAD3_TEA</text>
<text x="116.50" y="249.00" font-size="3.6" text-anchor="start" fill="#1a1a1a" textLength="13.60" lengthAdjust="spacingAndGlyphs" stroke="#1a1a1a" stroke-width="0.1">Sox6_HMG</text>
<text x="133.00" y="253.00" font-size="3.6" text-anchor="start" fill="#1a1a1a" textLength="13.60" lengthAdjust="spacingAndGlyphs" stroke="#1a1a1a" stroke-width="0.1">HNF6_CUT</text>
<text x="99.00" y="255.60" font-size="3.6" text-anchor="start" fill="#1a1a1a" textLength="15.30" lengthAdjust="spacingAndGlyphs" stroke="#1a1a1a" stroke-width="0.1">ZNF711_Zf</text>
<text x="113.40" y="262.20" font-size="3.6" text-anchor="start" fill="#1a1a1a" textLength="13.60" lengthAdjust="spacingAndGlyphs" stroke="#1a1a1a" stroke-width="0.1">Sox3_HMG</text>
<text x="112.40" y="269.70" font-size="3.6" text-anchor="start" fill="#1a1a1a" textLength="13.60" lengthAdjust="spacingAndGlyphs" stroke="#1a1a1a" stroke-width="0.1">Sox6_HMG</text>
<path d="M78.0 235.8l3 -3l3 -4M81.0 232.8l4 6" stroke="#2d3f8f" stroke-width="0.9" fill="none"/>
<circle cx="119.80" cy="227.40" r="3.00" fill="none" stroke="#b3262d" stroke-width="0.8"/>
<circle cx="120.80" cy="229.40" r="2.20" fill="none" stroke="#b3262d" stroke-width="0.7"/>
<line x1="118.30" y1="235.00" x2="119.30" y2="238.00" stroke="#b3262d" stroke-width="0.6"/>
<line x1="118.30" y1="241.00" x2="119.30" y2="244.00" stroke="#b3262d" stroke-width="0.6"/>
<line x1="118.30" y1="247.00" x2="119.30" y2="250.00" stroke="#b3262d" stroke-width="0.6"/>
<line x1="118.30" y1="252.00" x2="119.30" y2="255.00" stroke="#b3262d" stroke-width="0.6"/>
<line x1="118.30" y1="260.00" x2="119.30" y2="263.00" stroke="#b3262d" stroke-width="0.6"/>
<rect x="29.00" y="184.00" width="145.00" height="143.80" fill="none" stroke="#333" stroke-width="1.1"/>
<line x1="26.80" y1="322.80" x2="29.00" y2="322.80" stroke="#333" stroke-width="0.8"/>
<text x="26.40" y="324.20" font-size="4.1" text-anchor="end" fill="#222">0</text>
<line x1="26.80" y1="291.18" x2="29.00" y2="291.18" stroke="#333" stroke-width="0.8"/>
<text x="26.40" y="292.57" font-size="4.1" text-anchor="end" fill="#222">50</text>
<line x1="26.80" y1="259.55" x2="29.00" y2="259.55" stroke="#333" stroke-width="0.8"/>
<text x="26.40" y="260.95" font-size="4.1" text-anchor="end" fill="#222">100</text>
<line x1="26.80" y1="227.93" x2="29.00" y2="227.93" stroke="#333" stroke-width="0.8"/>
<text x="26.40" y="229.33" font-size="4.1" text-anchor="end" fill="#222">150</text>
<line x1="26.80" y1="196.30" x2="29.00" y2="196.30" stroke="#333" stroke-width="0.8"/>
<text x="26.40" y="197.70" font-size="4.1" text-anchor="end" fill="#222">200</text>
<line x1="30.26" y1="327.80" x2="30.26" y2="329.80" stroke="#333" stroke-width="0.8"/>
<text x="30.26" y="335.40" font-size="7.9" text-anchor="middle" fill="#333" stroke="#333" stroke-width="0.16">-0.4</text>
<line x1="48.07" y1="327.80" x2="48.07" y2="329.80" stroke="#333" stroke-width="0.8"/>
<text x="48.07" y="335.40" font-size="7.9" text-anchor="middle" fill="#333" stroke="#333" stroke-width="0.16">-0.3</text>
<line x1="65.88" y1="327.80" x2="65.88" y2="329.80" stroke="#333" stroke-width="0.8"/>
<text x="65.88" y="335.40" font-size="7.9" text-anchor="middle" fill="#333" stroke="#333" stroke-width="0.16">-0.2</text>
<line x1="83.69" y1="327.80" x2="83.69" y2="329.80" stroke="#333" stroke-width="0.8"/>
<text x="83.69" y="335.40" font-size="7.9" text-anchor="middle" fill="#333" stroke="#333" stroke-width="0.16">-0.1</text>
<line x1="101.50" y1="327.80" x2="101.50" y2="329.80" stroke="#333" stroke-width="0.8"/>
<text x="101.50" y="335.40" font-size="7.9" text-anchor="middle" fill="#333" stroke="#333" stroke-width="0.16">0.0</text>
<line x1="119.31" y1="327.80" x2="119.31" y2="329.80" stroke="#333" stroke-width="0.8"/>
<text x="119.31" y="335.40" font-size="7.9" text-anchor="middle" fill="#333" stroke="#333" stroke-width="0.16">0.1</text>
<line x1="137.12" y1="327.80" x2="137.12" y2="329.80" stroke="#333" stroke-width="0.8"/>
<text x="137.12" y="335.40" font-size="7.9" text-anchor="middle" fill="#333" stroke="#333" stroke-width="0.16">0.2</text>
<line x1="154.93" y1="327.80" x2="154.93" y2="329.80" stroke="#333" stroke-width="0.8"/>
<text x="154.93" y="335.40" font-size="7.9" text-anchor="middle" fill="#333" stroke="#333" stroke-width="0.16">0.3</text>
<line x1="172.74" y1="327.80" x2="172.74" y2="329.80" stroke="#333" stroke-width="0.8"/>
<text x="172.74" y="335.40" font-size="7.9" text-anchor="middle" fill="#333" stroke="#333" stroke-width="0.16">0.4</text>
<text x="104.90" y="183.50" font-size="8.4" text-anchor="middle" fill="#2a2a2a" textLength="42.30" lengthAdjust="spacingAndGlyphs" stroke="#2a2a2a" stroke-width="0.16">TOBIAS plot</text>
<text x="107.50" y="350.40" font-size="8.8" text-anchor="middle" fill="#333" textLength="96.00" lengthAdjust="spacingAndGlyphs" stroke="#333" stroke-width="0.16">Differential binding score</text>
<text x="0" y="0" font-size="8.2" text-anchor="middle" fill="#333" transform="translate(13.40 255.70) rotate(-90)">-log<tspan font-size="4.5" dy="1.5">10</tspan><tspan dy="-1.5">(p-val)</tspan></text>
<rect x="31.00" y="316.50" width="17.50" height="10.00" fill="#fff" stroke="#ddd" stroke-width="0.4"/>
<line x1="32.20" y1="319.20" x2="38.50" y2="319.20" stroke="#111" stroke-width="0.7"/>
<circle cx="35.30" cy="319.20" r="0.90" fill="#111"/>
<text x="39.30" y="320.30" font-size="3.0" text-anchor="start" fill="#444">Brd9</text>
<line x1="32.20" y1="323.70" x2="38.50" y2="323.70" stroke="#111" stroke-width="0.7"/>
<circle cx="35.30" cy="323.70" r="0.90" fill="#111"/>
<text x="39.30" y="324.80" font-size="3.0" text-anchor="start" fill="#444">NTC</text>
<path d="M262.0 223.8h0M260.3 220.4h0M271.4 253.3h0M282.3 296.0h0M275.2 256.9h0M263.3 226.5h0M264.5 230.2h0M283.1 300.1h0M263.1 223.9h0M274.1 260.0h0M281.7 293.0h0M270.2 239.5h0M284.0 305.5h0M283.6 301.6h0M285.0 319.7h0M274.4 266.3h0M263.3 227.9h0M273.8 259.9h0M273.7 263.5h0M278.2 265.7h0M278.0 282.9h0M264.2 226.0h0M279.7 278.6h0M281.8 302.8h0M279.1 285.9h0M282.2 319.2h0M273.1 253.6h0M282.4 318.0h0M261.6 227.2h0M274.7 267.6h0M260.3 220.1h0M270.0 244.4h0M269.2 238.7h0M263.7 225.1h0M272.7 254.3h0M270.8 248.5h0M284.9 318.6h0M284.0 309.6h0M266.2 232.2h0M283.3 311.7h0M278.9 282.5h0M267.9 234.9h0M267.2 233.5h0M275.0 269.3h0M270.2 245.8h0M281.4 296.4h0M273.4 251.9h0M273.8 253.1h0M274.8 257.2h0M283.9 320.3h0M275.0 254.1h0M280.9 295.9h0M280.4 283.2h0M282.9 324.0h0M283.3 301.2h0M273.6 263.2h0M276.0 266.7h0M283.6 303.7h0M272.6 246.3h0M280.6 301.4h0M268.3 242.2h0M282.4 300.4h0M278.5 280.8h0M262.1 223.3h0M265.0 231.5h0M271.6 241.2h0M272.4 247.8h0M284.6 311.7h0M277.9 266.6h0M276.6 276.0h0M281.7 284.9h0M272.1 244.3h0M272.2 252.6h0M283.4 295.8h0M280.9 288.9h0M283.1 311.1h0M281.6 302.5h0M279.3 282.3h0M276.9 262.3h0M280.9 281.0h0M275.8 266.4h0M281.1 295.6h0M285.8 317.8h0M282.2 309.8h0M276.7 267.3h0M279.5 279.6h0M276.6 271.6h0M272.2 248.0h0M278.8 282.2h0M284.6 314.1h0M269.1 240.7h0M272.8 253.7h0M262.8 226.7h0M280.4 294.0h0M278.2 285.1h0M280.8 303.3h0M275.1 261.4h0M265.9 231.1h0M274.8 263.8h0M273.8 258.0h0M279.2 282.2h0M260.3 221.6h0M278.8 277.0h0M283.3 317.9h0M270.0 240.8h0M271.1 246.4h0M278.1 280.5h0M282.2 323.9h0M284.1 304.2h0M283.7 304.5h0M276.7 270.2h0M275.9 268.1h0M276.6 271.9h0M282.3 297.6h0M284.2 317.8h0M265.1 235.2h0M272.7 255.3h0M270.6 245.4h0M278.7 277.3h0M276.0 262.5h0M261.1 226.4h0M271.1 248.4h0M263.0 223.8h0M279.6 279.9h0M265.7 233.1h0M273.7 255.8h0M280.2 290.4h0M266.8 237.4h0M277.0 272.3h0M283.8 310.7h0M267.8 238.2h0M272.2 250.5h0M283.3 313.7h0M282.0 301.1h0M264.1 230.2h0M272.4 244.0h0M265.8 236.9h0M277.0 269.8h0M281.0 286.6h0M283.6 309.4h0M280.9 297.0h0M282.7 305.0h0M263.8 229.7h0M268.9 241.6h0M283.5 309.0h0M269.4 244.8h0M281.3 291.5h0M278.7 278.5h0M282.3 298.7h0M262.4 223.3h0M282.6 317.8h0M282.5 310.4h0M283.6 323.8h0M267.5 239.3h0M276.4 266.2h0M281.1 295.4h0M284.1 304.7h0M280.2 295.4h0M282.3 296.5h0M271.5 249.1h0M275.1 259.5h0M267.8 238.1h0M277.8 275.5h0M281.9 309.9h0M278.2 280.0h0M283.6 312.8h0M267.0 232.9h0M280.4 292.5h0M280.9 289.9h0M282.1 292.3h0M261.8 222.4h0M270.1 242.3h0M277.9 268.3h0M281.0 295.8h0M279.0 280.0h0M275.5 264.8h0M277.8 282.9h0M273.4 248.6h0M274.5 262.2h0M259.5 220.7h0M276.6 278.9h0M279.9 280.3h0M261.6 223.2h0M280.1 281.5h0M269.5 241.6h0M283.6 319.1h0M278.9 278.7h0M277.3 271.1h0M282.1 299.2h0M284.3 318.1h0M272.0 244.1h0M276.8 266.8h0M284.7 308.1h0M265.3 233.2h0M281.0 284.9h0M267.8 231.8h0M280.9 300.0h0M270.9 246.1h0M280.8 290.9h0M267.1 237.5h0M280.9 297.2h0M280.3 292.1h0M279.5 288.5h0M274.5 254.3h0M282.6 308.1h0M269.5 243.0h0M275.5 269.1h0M277.2 273.3h0M275.9 266.9h0M274.4 264.8h0M281.6 296.2h0M280.8 287.7h0M261.2 220.4h0M275.4 273.3h0M280.5 286.0h0M272.4 254.7h0M282.4 310.8h0M275.5 266.8h0M277.7 284.1h0M271.6 246.8h0M273.0 252.0h0M264.5 227.6h0M279.2 270.1h0M282.8 310.9h0M278.0 275.5h0M280.0 297.1h0M278.7 289.0h0M275.9 263.1h0M262.0 223.5h0M283.5 308.6h0M264.7 233.4h0M283.1 319.9h0M267.4 235.1h0M271.2 249.3h0M279.3 277.4h0M268.1 233.9h0M276.8 273.7h0M265.5 228.8h0M264.1 228.0h0M273.1 253.9h0M277.7 279.8h0M276.0 264.7h0M265.1 232.1h0M273.8 259.0h0M277.2 266.1h0M280.9 302.3h0M263.2 228.9h0M271.7 251.8h0M261.1 221.3h0M270.3 246.2h0M287.7 311.8h0M287.4 292.6h0M291.2 275.6h0M289.4 290.7h0M286.6 300.0h0M285.2 311.3h0M287.0 286.4h0M290.2 283.1h0M290.3 280.9h0M285.7 318.5h0M292.3 274.5h0M289.1 298.6h0M291.0 278.5h0M291.2 276.3h0M292.8 278.5h0M290.4 282.5h0M283.6 316.7h0M287.8 311.0h0M291.2 276.9h0M288.7 286.6h0M287.8 295.4h0M290.4 282.8h0M287.6 294.9h0M288.4 296.3h0M286.6 310.6h0M292.2 273.4h0M291.9 278.8h0M287.3 294.0h0M286.7 304.2h0M288.5 299.1h0M290.7 281.2h0M287.4 298.6h0M285.6 315.8h0M290.6 281.3h0M291.6 274.0h0M289.0 296.0h0M290.1 282.8h0M289.1 283.4h0M291.0 281.1h0M289.5 283.7h0M284.4 311.2h0M286.6 301.3h0M286.2 290.5h0M290.9 284.9h0M284.2 311.0h0M290.9 285.2h0M284.9 308.8h0M288.1 293.9h0M287.9 295.3h0M290.0 289.1h0M289.0 300.2h0M283.9 317.5h0M283.8 316.2h0M290.7 275.0h0M291.1 273.8h0M287.2 301.0h0M286.9 288.0h0M287.9 299.5h0M287.1 298.3h0M285.5 307.2h0M292.1 276.2h0M285.7 309.1h0M284.8 315.7h0M286.1 294.9h0M291.4 276.9h0M283.5 314.5h0M287.5 288.2h0M289.3 296.0h0M291.5 275.5h0M289.3 287.9h0M284.3 312.6h0M287.2 305.3h0M290.2 282.3h0M287.9 285.9h0M291.2 275.2h0M286.8 294.5h0M288.5 302.5h0M285.5 307.9h0M292.3 278.1h0M290.4 277.7h0M289.1 291.1h0M291.5 276.3h0M285.4 310.7h0M288.5 280.8h0M286.2 309.1h0M290.5 279.9h0M285.8 309.4h0M285.9 302.9h0M292.0 285.9h0M282.9 317.2h0M272.6 250.8h0M271.0 248.9h0M270.8 253.0h0M277.2 258.2h0M273.0 255.4h0M270.5 249.0h0M275.3 254.7h0M272.4 247.8h0M274.4 250.0h0M273.7 259.2h0M272.5 251.8h0M267.4 249.0h0M274.3 250.5h0M272.1 255.0h0M274.3 258.2h0M270.2 250.6h0M272.5 251.7h0M275.7 258.7h0M277.0 259.1h0M272.1 256.2h0M273.2 254.6h0M270.4 246.2h0M273.1 250.2h0M275.3 256.1h0M274.2 251.1h0M273.5 258.5h0M274.8 258.4h0M275.0 257.4h0M271.0 245.4h0M269.5 245.7h0M269.4 249.2h0M276.4 254.9h0M274.3 258.3h0M275.7 256.0h0M269.6 255.7h0M268.4 245.8h0M272.6 251.0h0M274.2 249.5h0M268.0 244.7h0M279.3 258.1h0M270.6 250.3h0M272.0 250.8h0M272.8 248.9h0M275.0 256.3h0M268.5 247.0h0M272.4 253.8h0M275.6 254.7h0M272.1 244.7h0M276.1 259.2h0M273.2 246.5h0M273.0 245.5h0M273.6 254.3h0M275.8 259.3h0M273.1 254.4h0M274.5 254.6h0M275.8 257.2h0M277.2 258.6h0M270.8 245.8h0M268.9 254.5h0M275.4 256.7h0M273.4 248.7h0M277.3 257.1h0M275.7 252.9h0M276.9 257.0h0M268.5 246.0h0M275.7 258.0h0M273.4 260.0h0M271.8 254.2h0M270.6 253.4h0M269.2 249.7h0" stroke="#141414" stroke-width="1.5" stroke-linecap="round"/>
<line x1="223.90" y1="201.00" x2="254.00" y2="210.00" stroke="#151515" stroke-width="0.95"/>
<line x1="230.90" y1="204.00" x2="254.00" y2="210.00" stroke="#151515" stroke-width="0.95"/>
<line x1="253.00" y1="199.00" x2="253.00" y2="206.00" stroke="#151515" stroke-width="0.95"/>
<line x1="248.60" y1="202.50" x2="254.00" y2="210.00" stroke="#151515" stroke-width="0.95"/>
<line x1="268.00" y1="201.50" x2="254.00" y2="210.00" stroke="#151515" stroke-width="0.95"/>
<line x1="240.90" y1="208.00" x2="254.00" y2="210.00" stroke="#151515" stroke-width="0.95"/>
<line x1="249.60" y1="211.00" x2="254.00" y2="211.00" stroke="#151515" stroke-width="0.95"/>
<line x1="270.00" y1="207.00" x2="255.00" y2="211.00" stroke="#151515" stroke-width="0.95"/>
<line x1="270.00" y1="211.00" x2="255.00" y2="212.00" stroke="#151515" stroke-width="0.95"/>
<line x1="254.00" y1="214.50" x2="254.00" y2="213.00" stroke="#151515" stroke-width="0.95"/>
<line x1="244.30" y1="217.50" x2="254.00" y2="217.00" stroke="#151515" stroke-width="0.95"/>
<line x1="270.00" y1="215.00" x2="255.00" y2="213.00" stroke="#151515" stroke-width="0.95"/>
<line x1="255.00" y1="220.50" x2="255.00" y2="218.00" stroke="#151515" stroke-width="0.95"/>
<line x1="261.00" y1="219.00" x2="259.00" y2="218.00" stroke="#151515" stroke-width="0.95"/>
<line x1="258.00" y1="223.00" x2="255.00" y2="219.00" stroke="#151515" stroke-width="0.95"/>
<line x1="257.60" y1="227.50" x2="266.00" y2="230.00" stroke="#151515" stroke-width="0.95"/>
<line x1="276.00" y1="227.00" x2="268.00" y2="231.00" stroke="#151515" stroke-width="0.95"/>
<line x1="258.30" y1="233.50" x2="266.00" y2="232.00" stroke="#151515" stroke-width="0.95"/>
<line x1="326.00" y1="227.00" x2="318.00" y2="232.00" stroke="#151515" stroke-width="0.95"/>
<line x1="342.00" y1="227.00" x2="338.00" y2="231.00" stroke="#151515" stroke-width="0.95"/>
<line x1="308.00" y1="232.50" x2="300.00" y2="238.00" stroke="#151515" stroke-width="0.95"/>
<line x1="329.00" y1="232.00" x2="322.00" y2="237.00" stroke="#151515" stroke-width="0.95"/>
<line x1="324.00" y1="235.50" x2="318.00" y2="240.00" stroke="#151515" stroke-width="0.95"/>
<line x1="334.00" y1="239.50" x2="330.00" y2="239.00" stroke="#151515" stroke-width="0.95"/>
<line x1="296.00" y1="238.50" x2="296.00" y2="240.00" stroke="#151515" stroke-width="0.95"/>
<line x1="310.00" y1="238.50" x2="296.00" y2="243.00" stroke="#151515" stroke-width="0.95"/>
<line x1="320.00" y1="243.00" x2="305.00" y2="240.00" stroke="#151515" stroke-width="0.95"/>
<line x1="292.00" y1="245.50" x2="292.00" y2="242.00" stroke="#151515" stroke-width="0.95"/>
<line x1="307.00" y1="247.50" x2="307.00" y2="251.00" stroke="#151515" stroke-width="0.95"/>
<line x1="292.00" y1="254.50" x2="292.00" y2="256.00" stroke="#151515" stroke-width="0.95"/>
<line x1="311.00" y1="255.00" x2="311.00" y2="257.00" stroke="#151515" stroke-width="0.95"/>
<line x1="295.30" y1="262.00" x2="296.00" y2="264.00" stroke="#151515" stroke-width="0.95"/>
<line x1="303.00" y1="268.00" x2="300.00" y2="271.00" stroke="#151515" stroke-width="0.95"/>
<line x1="300.00" y1="273.00" x2="297.00" y2="273.00" stroke="#151515" stroke-width="0.95"/>
<line x1="298.00" y1="278.60" x2="297.00" y2="278.00" stroke="#151515" stroke-width="0.95"/>
<text x="212.00" y="202.00" font-size="3.6" text-anchor="start" fill="#1a1a1a" textLength="11.90" lengthAdjust="spacingAndGlyphs" stroke="#1a1a1a" stroke-width="0.1">CTCF_Zf</text>
<text x="219.00" y="205.00" font-size="3.6" text-anchor="start" fill="#1a1a1a" textLength="11.90" lengthAdjust="spacingAndGlyphs" stroke="#1a1a1a" stroke-width="0.1">EHF_ETS</text>
<text x="250.00" y="200.00" font-size="3.6" text-anchor="start" fill="#1a1a1a" textLength="13.60" lengthAdjust="spacingAndGlyphs" stroke="#1a1a1a" stroke-width="0.1">ELF3_ETS</text>
<text x="235.00" y="203.50" font-size="3.6" text-anchor="start" fill="#1a1a1a" textLength="13.60" lengthAdjust="spacingAndGlyphs" stroke="#1a1a1a" stroke-width="0.1">ELF5_ETS</text>
<text x="268.00" y="202.50" font-size="3.6" text-anchor="start" fill="#1a1a1a" textLength="13.60" lengthAdjust="spacingAndGlyphs" stroke="#1a1a1a" stroke-width="0.1">PU.1_ETS</text>
<text x="229.00" y="209.00" font-size="3.6" text-anchor="start" fill="#1a1a1a" textLength="11.90" lengthAdjust="spacingAndGlyphs" stroke="#1a1a1a" stroke-width="0.1">ERG_ETS</text>
<text x="236.00" y="212.00" font-size="3.6" text-anchor="start" fill="#1a1a1a" textLength="13.60" lengthAdjust="spacingAndGlyphs" stroke="#1a1a1a" stroke-width="0.1">ETV2_ETS</text>
<text x="270.00" y="208.00" font-size="3.6" text-anchor="start" fill="#1a1a1a" textLength="30.60" lengthAdjust="spacingAndGlyphs" stroke="#1a1a1a" stroke-width="0.1">EWS:ERG-fusion_ETS</text>
<text x="270.00" y="212.00" font-size="3.6" text-anchor="start" fill="#1a1a1a" textLength="13.60" lengthAdjust="spacingAndGlyphs" stroke="#1a1a1a" stroke-width="0.1">ETS1_ETS</text>
<text x="245.00" y="215.50" font-size="3.6" text-anchor="start" fill="#1a1a1a" textLength="13.60" lengthAdjust="spacingAndGlyphs" stroke="#1a1a1a" stroke-width="0.1">Fli1_ETS</text>
<text x="212.00" y="218.50" font-size="3.6" text-anchor="start" fill="#1a1a1a" textLength="32.30" lengthAdjust="spacingAndGlyphs" stroke="#1a1a1a" stroke-width="0.1">EWS:FLI1-fusion_ETS</text>
<text x="270.00" y="216.00" font-size="3.6" text-anchor="start" fill="#1a1a1a" textLength="22.10" lengthAdjust="spacingAndGlyphs" stroke="#1a1a1a" stroke-width="0.1">Fev:Ulmed_ETS</text>
<text x="243.00" y="221.50" font-size="3.6" text-anchor="start" fill="#1a1a1a" textLength="13.60" lengthAdjust="spacingAndGlyphs" stroke="#1a1a1a" stroke-width="0.1">ETV1_ETS</text>
<text x="261.00" y="220.00" font-size="3.6" text-anchor="start" fill="#1a1a1a" textLength="13.60" lengthAdjust="spacingAndGlyphs" stroke="#1a1a1a" stroke-width="0.1">BORIS_Zf</text>
<text x="258.00" y="224.00" font-size="3.6" text-anchor="start" fill="#1a1a1a" textLength="15.30" lengthAdjust="spacingAndGlyphs" stroke="#1a1a1a" stroke-width="0.1">GABPA_ETS</text>
<text x="227.00" y="228.50" font-size="3.6" text-anchor="start" fill="#1a1a1a" textLength="30.60" lengthAdjust="spacingAndGlyphs" stroke="#1a1a1a" stroke-width="0.1">ETS:E-box_ETS:bHLH</text>
<text x="276.00" y="228.00" font-size="3.6" text-anchor="start" fill="#1a1a1a" textLength="28.90" lengthAdjust="spacingAndGlyphs" stroke="#1a1a1a" stroke-width="0.1">PU.1:IRF8_ETS:IRF</text>
<text x="268.00" y="233.00" font-size="3.6" text-anchor="start" fill="#1a1a1a" textLength="17.00" lengthAdjust="spacingAndGlyphs" stroke="#1a1a1a" stroke-width="0.1">NFE2L_bZIP</text>
<text x="243.00" y="234.50" font-size="3.6" text-anchor="start" fill="#1a1a1a" textLength="15.30" lengthAdjust="spacingAndGlyphs" stroke="#1a1a1a" stroke-width="0.1">MITF_bHLH</text>
<text x="268.00" y="238.00" font-size="3.6" text-anchor="start" fill="#1a1a1a" textLength="11.90" lengthAdjust="spacingAndGlyphs" stroke="#1a1a1a" stroke-width="0.1">ZNF3_Zf</text>
<text x="263.00" y="245.00" font-size="3.6" text-anchor="start" fill="#1a1a1a" textLength="15.30" lengthAdjust="spacingAndGlyphs" stroke="#1a1a1a" stroke-width="0.1">Atf4_bZIP</text>
<text x="326.00" y="228.00" font-size="3.6" text-anchor="start" fill="#1a1a1a" textLength="13.60" lengthAdjust="spacingAndGlyphs" stroke="#1a1a1a" stroke-width="0.1">E2F7_E2F</text>
<text x="342.00" y="228.00" font-size="3.6" text-anchor="start" fill="#1a1a1a" textLength="13.60" lengthAdjust="spacingAndGlyphs" stroke="#1a1a1a" stroke-width="0.1">HNF6_CUT</text>
<text x="289.00" y="233.50" font-size="3.6" text-anchor="start" fill="#1a1a1a" textLength="15.30" lengthAdjust="spacingAndGlyphs" stroke="#1a1a1a" stroke-width="0.1">ZNF652_Zf</text>
<text x="308.00" y="233.50" font-size="3.6" text-anchor="start" fill="#1a1a1a" textLength="13.60" lengthAdjust="spacingAndGlyphs" stroke="#1a1a1a" stroke-width="0.1">E2F1_E2F</text>
<text x="329.00" y="233.00" font-size="3.6" text-anchor="start" fill="#1a1a1a" textLength="11.90" lengthAdjust="spacingAndGlyphs" stroke="#1a1a1a" stroke-width="0.1">E2F_E2F</text>
<text x="298.00" y="237.00" font-size="3.6" text-anchor="start" fill="#1a1a1a" textLength="15.30" lengthAdjust="spacingAndGlyphs" stroke="#1a1a1a" stroke-width="0.1">NFY_CCAAT</text>
<text x="324.00" y="236.50" font-size="3.6" text-anchor="start" fill="#1a1a1a" textLength="13.60" lengthAdjust="spacingAndGlyphs" stroke="#1a1a1a" stroke-width="0.1">E2F4_E2F</text>
<text x="334.00" y="240.50" font-size="3.6" text-anchor="start" fill="#1a1a1a" textLength="15.30" lengthAdjust="spacingAndGlyphs" stroke="#1a1a1a" stroke-width="0.1">ZBTB33_Zf</text>
<text x="282.00" y="239.50" font-size="3.6" text-anchor="start" fill="#1a1a1a" textLength="15.30" lengthAdjust="spacingAndGlyphs" stroke="#1a1a1a" stroke-width="0.1">ZNF341_Zf</text>
<text x="310.00" y="239.50" font-size="3.6" text-anchor="start" fill="#1a1a1a" textLength="10.20" lengthAdjust="spacingAndGlyphs" stroke="#1a1a1a" stroke-width="0.1">Sp1_Zf</text>
<text x="320.00" y="244.00" font-size="3.6" text-anchor="start" fill="#1a1a1a" textLength="13.60" lengthAdjust="spacingAndGlyphs" stroke="#1a1a1a" stroke-width="0.1">E2F3_E2F</text>
<text x="280.00" y="246.50" font-size="3.6" text-anchor="start" fill="#1a1a1a" textLength="15.30" lengthAdjust="spacingAndGlyphs" stroke="#1a1a1a" stroke-width="0.1">ZNF519_Zf</text>
<text x="307.00" y="248.50" font-size="3.6" text-anchor="start" fill="#1a1a1a" textLength="13.60" lengthAdjust="spacingAndGlyphs" stroke="#1a1a1a" stroke-width="0.1">Elk4_ETS</text>
<text x="280.00" y="255.50" font-size="3.6" text-anchor="start" fill="#1a1a1a" textLength="22.10" lengthAdjust="spacingAndGlyphs" stroke="#1a1a1a" stroke-width="0.1">Arnt:Ahr_bHLH</text>
<text x="311.00" y="256.00" font-size="3.6" text-anchor="start" fill="#1a1a1a" textLength="13.60" lengthAdjust="spacingAndGlyphs" stroke="#1a1a1a" stroke-width="0.1">Zfp57_Zf</text>
<text x="316.00" y="262.00" font-size="3.6" text-anchor="start" fill="#1a1a1a" textLength="13.60" lengthAdjust="spacingAndGlyphs" stroke="#1a1a1a" stroke-width="0.1">Gfi1b_Zf</text>
<text x="280.00" y="263.00" font-size="3.6" text-anchor="start" fill="#1a1a1a" textLength="15.30" lengthAdjust="spacingAndGlyphs" stroke="#1a1a1a" stroke-width="0.1">TAL1_bHLH</text>
<text x="303.00" y="269.00" font-size="3.6" text-anchor="start" fill="#1a1a1a" textLength="22.10" lengthAdjust="spacingAndGlyphs" stroke="#1a1a1a" stroke-width="0.1">CDX2_Homeobox</text>
<text x="280.00" y="269.00" font-size="3.6" text-anchor="start" fill="#1a1a1a" textLength="15.30" lengthAdjust="spacingAndGlyphs" stroke="#1a1a1a" stroke-width="0.1">TCF4_bHLH</text>
<text x="300.00" y="274.00" font-size="3.6" text-anchor="start" fill="#1a1a1a" textLength="17.00" lengthAdjust="spacingAndGlyphs" stroke="#1a1a1a" stroke-width="0.1">TCF12_bHLH</text>
<text x="298.00" y="279.60" font-size="3.6" text-anchor="start" fill="#1a1a1a" textLength="15.30" lengthAdjust="spacingAndGlyphs" stroke="#1a1a1a" stroke-width="0.1">TCF3_bHLH</text>
<path d="M252.0 207.0l2 3l-1 4l2 5l-1 5l3 4" stroke="#2d3f8f" stroke-width="0.9" fill="none"/>
<line x1="298.00" y1="234.00" x2="299.20" y2="236.20" stroke="#b3262d" stroke-width="0.6"/>
<line x1="304.00" y1="241.00" x2="305.20" y2="243.20" stroke="#b3262d" stroke-width="0.6"/>
<line x1="313.00" y1="238.00" x2="314.20" y2="240.20" stroke="#b3262d" stroke-width="0.6"/>
<line x1="300.00" y1="257.00" x2="301.20" y2="259.20" stroke="#b3262d" stroke-width="0.6"/>
<line x1="302.00" y1="262.00" x2="303.20" y2="264.20" stroke="#b3262d" stroke-width="0.6"/>
<line x1="303.00" y1="271.00" x2="304.20" y2="273.20" stroke="#b3262d" stroke-width="0.6"/>
<line x1="297.00" y1="276.00" x2="298.20" y2="278.20" stroke="#b3262d" stroke-width="0.6"/>
<line x1="293.00" y1="281.00" x2="294.20" y2="283.20" stroke="#b3262d" stroke-width="0.6"/>
<rect x="211.50" y="186.00" width="143.50" height="145.00" fill="none" stroke="#333" stroke-width="1.1"/>
<line x1="209.30" y1="325.10" x2="211.50" y2="325.10" stroke="#333" stroke-width="0.8"/>
<text x="208.90" y="326.50" font-size="4.1" text-anchor="end" fill="#222">0</text>
<line x1="209.30" y1="308.99" x2="211.50" y2="308.99" stroke="#333" stroke-width="0.8"/>
<text x="208.90" y="310.39" font-size="4.1" text-anchor="end" fill="#222">25</text>
<line x1="209.30" y1="292.88" x2="211.50" y2="292.88" stroke="#333" stroke-width="0.8"/>
<text x="208.90" y="294.27" font-size="4.1" text-anchor="end" fill="#222">50</text>
<line x1="209.30" y1="276.76" x2="211.50" y2="276.76" stroke="#333" stroke-width="0.8"/>
<text x="208.90" y="278.16" font-size="4.1" text-anchor="end" fill="#222">75</text>
<line x1="209.30" y1="260.65" x2="211.50" y2="260.65" stroke="#333" stroke-width="0.8"/>
<text x="208.90" y="262.05" font-size="4.1" text-anchor="end" fill="#222">100</text>
<line x1="209.30" y1="244.54" x2="211.50" y2="244.54" stroke="#333" stroke-width="0.8"/>
<text x="208.90" y="245.94" font-size="4.1" text-anchor="end" fill="#222">125</text>
<line x1="209.30" y1="228.43" x2="211.50" y2="228.43" stroke="#333" stroke-width="0.8"/>
<text x="208.90" y="229.83" font-size="4.1" text-anchor="end" fill="#222">150</text>
<line x1="209.30" y1="212.31" x2="211.50" y2="212.31" stroke="#333" stroke-width="0.8"/>
<text x="208.90" y="213.71" font-size="4.1" text-anchor="end" fill="#222">175</text>
<line x1="209.30" y1="196.20" x2="211.50" y2="196.20" stroke="#333" stroke-width="0.8"/>
<text x="208.90" y="197.60" font-size="4.1" text-anchor="end" fill="#222">200</text>
<line x1="225.01" y1="331.00" x2="225.01" y2="333.00" stroke="#333" stroke-width="0.8"/>
<text x="225.01" y="338.00" font-size="7.9" text-anchor="middle" fill="#333" stroke="#333" stroke-width="0.16">-0.3</text>
<line x1="244.64" y1="331.00" x2="244.64" y2="333.00" stroke="#333" stroke-width="0.8"/>
<text x="244.64" y="338.00" font-size="7.9" text-anchor="middle" fill="#333" stroke="#333" stroke-width="0.16">-0.2</text>
<line x1="264.27" y1="331.00" x2="264.27" y2="333.00" stroke="#333" stroke-width="0.8"/>
<text x="264.27" y="338.00" font-size="7.9" text-anchor="middle" fill="#333" stroke="#333" stroke-width="0.16">-0.1</text>
<line x1="283.90" y1="331.00" x2="283.90" y2="333.00" stroke="#333" stroke-width="0.8"/>
<text x="283.90" y="338.00" font-size="7.9" text-anchor="middle" fill="#333" stroke="#333" stroke-width="0.16">0.0</text>
<line x1="303.53" y1="331.00" x2="303.53" y2="333.00" stroke="#333" stroke-width="0.8"/>
<text x="303.53" y="338.00" font-size="7.9" text-anchor="middle" fill="#333" stroke="#333" stroke-width="0.16">0.1</text>
<line x1="323.16" y1="331.00" x2="323.16" y2="333.00" stroke="#333" stroke-width="0.8"/>
<text x="323.16" y="338.00" font-size="7.9" text-anchor="middle" fill="#333" stroke="#333" stroke-width="0.16">0.2</text>
<line x1="342.79" y1="331.00" x2="342.79" y2="333.00" stroke="#333" stroke-width="0.8"/>
<text x="342.79" y="338.00" font-size="7.9" text-anchor="middle" fill="#333" stroke="#333" stroke-width="0.16">0.3</text>
<text x="286.70" y="185.20" font-size="8.4" text-anchor="middle" fill="#2a2a2a" textLength="42.30" lengthAdjust="spacingAndGlyphs" stroke="#2a2a2a" stroke-width="0.16">TOBIAS plot</text>
<text x="288.50" y="350.00" font-size="8.8" text-anchor="middle" fill="#333" textLength="97.00" lengthAdjust="spacingAndGlyphs" stroke="#333" stroke-width="0.16">Differential binding score</text>
<text x="0" y="0" font-size="8.2" text-anchor="middle" fill="#333" transform="translate(199.30 258.00) rotate(-90)">-log<tspan font-size="4.5" dy="1.5">10</tspan><tspan dy="-1.5">(p-val)</tspan></text>
<rect x="213.50" y="319.70" width="17.50" height="10.00" fill="#fff" stroke="#ddd" stroke-width="0.4"/>
<line x1="214.70" y1="322.40" x2="221.00" y2="322.40" stroke="#111" stroke-width="0.7"/>
<circle cx="217.80" cy="322.40" r="0.90" fill="#111"/>
<text x="221.80" y="323.50" font-size="3.0" text-anchor="start" fill="#444">Smarcd1</text>
<line x1="214.70" y1="326.90" x2="221.00" y2="326.90" stroke="#111" stroke-width="0.7"/>
<circle cx="217.80" cy="326.90" r="0.90" fill="#111"/>
<text x="221.80" y="328.00" font-size="3.0" text-anchor="start" fill="#444">NTC</text>
<path d="M450.7 268.1h0M453.6 293.7h0M447.3 241.8h0M448.9 264.9h0M450.1 273.0h0M451.0 263.9h0M454.0 275.5h0M447.9 255.6h0M445.0 239.2h0M458.7 310.6h0M455.3 295.3h0M450.0 254.3h0M455.2 298.0h0M452.1 273.4h0M455.9 303.4h0M447.3 243.2h0M456.3 309.6h0M455.3 291.3h0M456.0 302.5h0M452.2 278.7h0M452.5 271.1h0M455.4 314.9h0M450.4 252.2h0M455.6 320.9h0M455.7 290.6h0M454.4 305.5h0M457.8 319.3h0M448.7 255.7h0M452.5 275.6h0M445.8 236.8h0M454.1 283.4h0M456.8 312.1h0M451.1 265.3h0M451.0 252.8h0M454.2 279.4h0M447.4 243.4h0M453.4 273.3h0M449.9 256.5h0M453.8 295.0h0M456.5 303.4h0M457.9 314.2h0M453.4 268.6h0M457.6 321.9h0M446.8 240.1h0M458.3 318.3h0M448.7 250.8h0M454.6 285.7h0M449.1 244.2h0M448.0 246.9h0M446.8 244.4h0M455.6 309.4h0M452.1 275.4h0M456.5 313.9h0M455.7 311.9h0M447.5 249.6h0M451.2 263.2h0M455.8 314.4h0M454.4 298.1h0M455.7 322.0h0M454.7 293.9h0M458.1 319.3h0M456.2 289.6h0M452.0 262.4h0M449.1 249.1h0M446.9 250.2h0M454.2 284.7h0M451.6 264.8h0M445.5 243.6h0M454.5 292.8h0M451.5 265.0h0M446.5 237.0h0M455.2 284.3h0M455.9 306.1h0M454.9 305.9h0M454.2 304.8h0M457.0 312.6h0M447.9 241.0h0M458.5 311.3h0M445.9 241.7h0M452.6 265.6h0M451.9 275.5h0M451.5 271.3h0M453.8 278.3h0M454.4 298.0h0M455.7 291.1h0M447.5 243.3h0M453.6 278.8h0M453.2 265.2h0M454.4 288.2h0M453.7 291.0h0M447.3 247.2h0M447.4 248.4h0M454.1 288.3h0M448.9 250.7h0M450.9 256.9h0M455.4 290.8h0M452.1 274.4h0M455.3 297.9h0M452.1 269.7h0M455.4 296.4h0M453.1 281.2h0M445.9 236.5h0M456.1 303.6h0M454.4 293.0h0M451.3 268.1h0M455.2 315.4h0M456.0 289.8h0M450.4 261.8h0M451.2 264.6h0M452.8 273.0h0M450.6 253.2h0M454.8 303.6h0M445.3 237.4h0M454.8 288.3h0M451.9 261.3h0M450.9 254.0h0M451.0 271.2h0M449.8 261.7h0M450.7 254.0h0M447.2 243.1h0M447.2 250.5h0M449.0 242.6h0M449.5 258.7h0M451.9 262.7h0M455.6 299.6h0M455.8 301.6h0M452.5 270.1h0M449.3 250.7h0M452.3 270.2h0M449.8 259.5h0M453.1 273.1h0M453.8 287.7h0M456.6 297.8h0M454.0 281.8h0M447.0 248.2h0M455.3 312.3h0M453.7 297.6h0M456.0 300.2h0M457.9 305.1h0M453.4 271.0h0M453.3 304.6h0M444.4 236.1h0M453.7 275.8h0M448.6 248.0h0M444.5 235.3h0M450.0 247.8h0M446.8 244.4h0M452.1 265.1h0M454.2 286.6h0M450.8 262.1h0M449.2 249.8h0M451.0 259.5h0M455.0 304.8h0M447.3 247.2h0M446.7 243.6h0M457.0 304.7h0M452.8 262.2h0M454.2 284.0h0M446.7 240.3h0M454.5 322.5h0M447.4 243.3h0M455.7 300.7h0M454.7 290.9h0M454.0 275.5h0M446.9 243.4h0M446.5 235.9h0M446.5 235.3h0M449.2 255.8h0M450.9 252.8h0M446.9 243.2h0M447.4 250.6h0M454.5 314.0h0M450.1 256.2h0M450.3 279.4h0M447.7 239.1h0M456.8 307.4h0M448.9 241.2h0M457.4 305.3h0M453.3 277.3h0M453.5 281.8h0M451.5 275.8h0M455.1 314.9h0M451.2 258.9h0M445.7 236.2h0M451.1 270.3h0M457.4 319.5h0M457.4 321.7h0M455.5 295.5h0M446.4 241.0h0M447.6 236.5h0M457.5 310.7h0M454.7 289.4h0M453.9 291.4h0M446.5 235.5h0M453.8 265.5h0M447.7 241.2h0M448.8 252.1h0M448.0 252.3h0M449.2 253.3h0M447.1 238.3h0M449.7 250.8h0M452.9 288.8h0M452.9 281.1h0M454.5 285.8h0M452.2 266.4h0M454.6 294.7h0M453.2 284.7h0M451.8 267.2h0M453.8 277.7h0M455.9 302.9h0M456.7 309.6h0M451.4 264.7h0M452.8 285.6h0M449.8 258.2h0M450.3 267.7h0M456.5 315.0h0M449.2 250.3h0M454.5 278.4h0M449.5 246.9h0M455.8 285.6h0M455.1 298.7h0M452.3 280.3h0M447.6 249.0h0M456.6 305.7h0M451.9 259.4h0M449.9 246.3h0M455.8 317.0h0M448.9 251.7h0M446.0 236.0h0M448.8 250.0h0M454.6 281.5h0M447.6 245.2h0M451.1 255.2h0M447.9 239.0h0M448.9 255.5h0M454.4 292.0h0M455.1 291.9h0M454.9 294.9h0M450.0 254.6h0M450.1 256.8h0M451.4 268.5h0M447.3 240.9h0M452.5 271.6h0M446.4 243.6h0M454.6 296.3h0M446.3 248.4h0M446.2 237.2h0M453.5 296.7h0M450.2 265.1h0M452.2 277.7h0M445.7 237.5h0M450.6 262.9h0M452.5 276.7h0M455.3 300.1h0M453.9 291.7h0M449.6 260.8h0M456.3 296.2h0M456.9 319.2h0M452.3 281.2h0M455.4 305.4h0M460.8 254.2h0M466.3 229.0h0M463.3 243.4h0M458.9 284.9h0M463.4 241.2h0M457.5 303.3h0M457.4 314.7h0M458.6 280.5h0M459.8 268.2h0M462.5 243.2h0M459.5 263.7h0M461.2 257.1h0M458.0 298.6h0M460.1 274.6h0M461.1 261.3h0M458.8 284.4h0M459.2 294.7h0M459.5 263.2h0M461.8 253.5h0M458.5 287.6h0M460.7 263.6h0M464.8 232.8h0M459.5 271.5h0M466.0 227.9h0M459.7 267.6h0M460.0 262.9h0M460.3 272.4h0M458.4 293.6h0M461.7 248.5h0M459.6 268.3h0M458.7 290.2h0M458.1 301.7h0M462.7 245.0h0M458.7 275.7h0M457.7 286.7h0M462.6 248.4h0M458.2 301.3h0M464.6 234.3h0M458.8 284.0h0M459.0 279.1h0M460.8 258.2h0M458.0 303.2h0M459.2 267.1h0M463.4 242.9h0M458.3 297.2h0M461.5 265.5h0M456.9 315.4h0M464.1 239.7h0M463.9 237.8h0M459.9 267.7h0M463.5 238.5h0M459.8 284.9h0M457.5 297.1h0M460.8 260.2h0M461.6 256.1h0M461.6 248.2h0M461.8 254.5h0M457.9 294.7h0M458.7 293.7h0M459.6 275.4h0M464.0 239.6h0M463.3 240.6h0M459.7 270.4h0M465.8 233.6h0M461.4 252.4h0M457.3 292.5h0M456.7 307.2h0M465.1 228.8h0M460.7 253.0h0M457.0 312.9h0M457.9 307.9h0M463.1 243.7h0M458.9 281.8h0M458.2 284.6h0M457.6 307.3h0M463.8 238.1h0M465.0 231.6h0M463.2 247.0h0M463.6 238.6h0M458.1 301.1h0M461.3 251.2h0M460.3 256.8h0M462.0 251.0h0M459.9 261.6h0M459.4 288.1h0M459.5 276.9h0M458.4 289.3h0M462.7 244.2h0M465.0 229.4h0M458.3 288.4h0M459.7 278.2h0M465.3 230.3h0M458.9 275.7h0M464.5 231.7h0M460.4 262.6h0M459.5 278.4h0M456.4 313.0h0M461.4 258.1h0M457.8 300.1h0M462.9 239.8h0M459.4 269.2h0M463.8 244.1h0M459.8 264.0h0M465.1 231.4h0M460.1 268.9h0M458.5 282.7h0M459.0 283.4h0M462.0 251.9h0M458.9 277.5h0M460.1 275.7h0" stroke="#141414" stroke-width="1.5" stroke-linecap="round"/>
<line x1="406.00" y1="205.00" x2="406.00" y2="207.00" stroke="#151515" stroke-width="0.95"/>
<line x1="418.00" y1="209.50" x2="413.00" y2="213.00" stroke="#151515" stroke-width="0.95"/>
<line x1="404.00" y1="212.50" x2="404.00" y2="211.00" stroke="#151515" stroke-width="0.95"/>
<line x1="403.00" y1="215.50" x2="403.00" y2="214.00" stroke="#151515" stroke-width="0.95"/>
<line x1="444.00" y1="213.00" x2="444.00" y2="222.00" stroke="#151515" stroke-width="0.95"/>
<line x1="419.00" y1="218.50" x2="446.00" y2="233.00" stroke="#151515" stroke-width="0.95"/>
<line x1="432.90" y1="221.50" x2="446.00" y2="233.00" stroke="#151515" stroke-width="0.95"/>
<line x1="444.00" y1="220.00" x2="444.00" y2="228.00" stroke="#151515" stroke-width="0.95"/>
<line x1="428.90" y1="225.50" x2="446.00" y2="233.00" stroke="#151515" stroke-width="0.95"/>
<line x1="416.60" y1="229.50" x2="446.00" y2="233.00" stroke="#151515" stroke-width="0.95"/>
<line x1="438.30" y1="233.00" x2="446.00" y2="233.00" stroke="#151515" stroke-width="0.95"/>
<line x1="424.30" y1="236.50" x2="446.00" y2="234.00" stroke="#151515" stroke-width="0.95"/>
<line x1="406.40" y1="240.00" x2="446.00" y2="235.00" stroke="#151515" stroke-width="0.95"/>
<line x1="428.80" y1="241.50" x2="446.00" y2="236.00" stroke="#151515" stroke-width="0.95"/>
<line x1="446.00" y1="244.00" x2="446.00" y2="238.00" stroke="#151515" stroke-width="0.95"/>
<line x1="431.30" y1="247.00" x2="446.00" y2="240.00" stroke="#151515" stroke-width="0.95"/>
<line x1="413.60" y1="251.00" x2="445.00" y2="250.00" stroke="#151515" stroke-width="0.95"/>
<line x1="484.00" y1="207.00" x2="470.00" y2="222.00" stroke="#151515" stroke-width="0.95"/>
<line x1="469.00" y1="210.00" x2="469.00" y2="220.00" stroke="#151515" stroke-width="0.95"/>
<line x1="469.00" y1="218.00" x2="469.00" y2="224.00" stroke="#151515" stroke-width="0.95"/>
<line x1="476.00" y1="222.00" x2="469.00" y2="226.00" stroke="#151515" stroke-width="0.95"/>
<line x1="482.00" y1="228.00" x2="470.00" y2="229.00" stroke="#151515" stroke-width="0.95"/>
<line x1="475.00" y1="234.50" x2="469.00" y2="235.00" stroke="#151515" stroke-width="0.95"/>
<line x1="470.00" y1="239.00" x2="466.00" y2="240.00" stroke="#151515" stroke-width="0.95"/>
<line x1="479.00" y1="243.00" x2="470.00" y2="243.00" stroke="#151515" stroke-width="0.95"/>
<line x1="487.00" y1="246.00" x2="470.00" y2="246.00" stroke="#151515" stroke-width="0.95"/>
<line x1="482.00" y1="250.00" x2="468.00" y2="250.00" stroke="#151515" stroke-width="0.95"/>
<line x1="467.00" y1="262.00" x2="466.00" y2="264.00" stroke="#151515" stroke-width="0.95"/>
<line x1="467.00" y1="269.00" x2="466.00" y2="271.00" stroke="#151515" stroke-width="0.95"/>
<text x="392.00" y="204.50" font-size="3.6" text-anchor="start" fill="#1a1a1a" textLength="13.60" lengthAdjust="spacingAndGlyphs" stroke="#1a1a1a" stroke-width="0.1">HLF_bZIP</text>
<text x="404.00" y="206.00" font-size="3.6" text-anchor="start" fill="#1a1a1a" textLength="17.00" lengthAdjust="spacingAndGlyphs" stroke="#1a1a1a" stroke-width="0.1">NFIL3_bZIP</text>
<text x="389.00" y="209.50" font-size="3.6" text-anchor="start" fill="#1a1a1a" textLength="15.30" lengthAdjust="spacingAndGlyphs" stroke="#1a1a1a" stroke-width="0.1">CEBP_bZIP</text>
<text x="418.00" y="210.50" font-size="3.6" text-anchor="start" fill="#1a1a1a" textLength="22.10" lengthAdjust="spacingAndGlyphs" stroke="#1a1a1a" stroke-width="0.1">CEBP:AP1_bZIP</text>
<text x="402.00" y="213.50" font-size="3.6" text-anchor="start" fill="#1a1a1a" textLength="15.30" lengthAdjust="spacingAndGlyphs" stroke="#1a1a1a" stroke-width="0.1">Chop_bZIP</text>
<text x="386.00" y="216.50" font-size="3.6" text-anchor="start" fill="#1a1a1a" textLength="17.00" lengthAdjust="spacingAndGlyphs" stroke="#1a1a1a" stroke-width="0.1">NFIL3_bZIP</text>
<text x="436.00" y="214.00" font-size="3.6" text-anchor="start" fill="#1a1a1a" textLength="13.60" lengthAdjust="spacingAndGlyphs" stroke="#1a1a1a" stroke-width="0.1">ELF3_ETS</text>
<text x="446.00" y="216.50" font-size="3.6" text-anchor="start" fill="#1a1a1a" textLength="17.00" lengthAdjust="spacingAndGlyphs" stroke="#1a1a1a" stroke-width="0.1">RUNX1_Runt</text>
<text x="402.00" y="219.50" font-size="3.6" text-anchor="start" fill="#1a1a1a" textLength="17.00" lengthAdjust="spacingAndGlyphs" stroke="#1a1a1a" stroke-width="0.1">CREB5_bZIP</text>
<text x="421.00" y="222.50" font-size="3.6" text-anchor="start" fill="#1a1a1a" textLength="11.90" lengthAdjust="spacingAndGlyphs" stroke="#1a1a1a" stroke-width="0.1">ETS_ETS</text>
<text x="444.00" y="221.00" font-size="3.6" text-anchor="start" fill="#1a1a1a" textLength="13.60" lengthAdjust="spacingAndGlyphs" stroke="#1a1a1a" stroke-width="0.1">PU.1_ETS</text>
<text x="417.00" y="226.50" font-size="3.6" text-anchor="start" fill="#1a1a1a" textLength="11.90" lengthAdjust="spacingAndGlyphs" stroke="#1a1a1a" stroke-width="0.1">EHF_ETS</text>
<text x="386.00" y="230.50" font-size="3.6" text-anchor="start" fill="#1a1a1a" textLength="30.60" lengthAdjust="spacingAndGlyphs" stroke="#1a1a1a" stroke-width="0.1">EWS-ERG-fusion_ETS</text>
<text x="423.00" y="234.00" font-size="3.6" text-anchor="start" fill="#1a1a1a" textLength="15.30" lengthAdjust="spacingAndGlyphs" stroke="#1a1a1a" stroke-width="0.1">Atf1_bZIP</text>
<text x="409.00" y="237.50" font-size="3.6" text-anchor="start" fill="#1a1a1a" textLength="15.30" lengthAdjust="spacingAndGlyphs" stroke="#1a1a1a" stroke-width="0.1">Fra1_bZIP</text>
<text x="386.00" y="241.00" font-size="3.6" text-anchor="start" fill="#1a1a1a" textLength="20.40" lengthAdjust="spacingAndGlyphs" stroke="#1a1a1a" stroke-width="0.1">Jun-CRE_bZIP</text>
<text x="413.50" y="242.50" font-size="3.6" text-anchor="start" fill="#1a1a1a" textLength="15.30" lengthAdjust="spacingAndGlyphs" stroke="#1a1a1a" stroke-width="0.1">Atf7_bZIP</text>
<text x="431.00" y="245.00" font-size="3.6" text-anchor="start" fill="#1a1a1a" textLength="15.30" lengthAdjust="spacingAndGlyphs" stroke="#1a1a1a" stroke-width="0.1">Atf2_bZIP</text>
<text x="416.00" y="248.00" font-size="3.6" text-anchor="start" fill="#1a1a1a" textLength="15.30" lengthAdjust="spacingAndGlyphs" stroke="#1a1a1a" stroke-width="0.1">Atf3_bZIP</text>
<text x="400.00" y="252.00" font-size="3.6" text-anchor="start" fill="#1a1a1a" textLength="13.60" lengthAdjust="spacingAndGlyphs" stroke="#1a1a1a" stroke-width="0.1">ERG_bHLH</text>
<text x="484.00" y="208.00" font-size="3.6" text-anchor="start" fill="#1a1a1a" textLength="17.00" lengthAdjust="spacingAndGlyphs" stroke="#1a1a1a" stroke-width="0.1">RUNX2_Runt</text>
<text x="467.00" y="211.00" font-size="3.6" text-anchor="start" fill="#1a1a1a" textLength="11.90" lengthAdjust="spacingAndGlyphs" stroke="#1a1a1a" stroke-width="0.1">CTCF_Zf</text>
<text x="476.00" y="216.00" font-size="3.6" text-anchor="start" fill="#1a1a1a" textLength="22.10" lengthAdjust="spacingAndGlyphs" stroke="#1a1a1a" stroke-width="0.1">RUNX-AML_Runt</text>
<text x="455.00" y="219.00" font-size="3.6" text-anchor="start" fill="#1a1a1a" textLength="17.00" lengthAdjust="spacingAndGlyphs" stroke="#1a1a1a" stroke-width="0.1">RUNX1_Runt</text>
<text x="476.00" y="223.00" font-size="3.6" text-anchor="start" fill="#1a1a1a" textLength="13.60" lengthAdjust="spacingAndGlyphs" stroke="#1a1a1a" stroke-width="0.1">ZNF41_Zf</text>
<text x="482.00" y="229.00" font-size="3.6" text-anchor="start" fill="#1a1a1a" textLength="22.10" lengthAdjust="spacingAndGlyphs" stroke="#1a1a1a" stroke-width="0.1">RUNX-AML_Runt</text>
<text x="466.00" y="232.00" font-size="3.6" text-anchor="start" fill="#1a1a1a" textLength="15.30" lengthAdjust="spacingAndGlyphs" stroke="#1a1a1a" stroke-width="0.1">ZNF263_Zf</text>
<text x="475.00" y="235.50" font-size="3.6" text-anchor="start" fill="#1a1a1a" textLength="11.90" lengthAdjust="spacingAndGlyphs" stroke="#1a1a1a" stroke-width="0.1">NF1_CTF</text>
<text x="470.00" y="240.00" font-size="3.6" text-anchor="start" fill="#1a1a1a" textLength="11.90" lengthAdjust="spacingAndGlyphs" stroke="#1a1a1a" stroke-width="0.1">Elk4_Zf</text>
<text x="479.00" y="244.00" font-size="3.6" text-anchor="start" fill="#1a1a1a" textLength="11.90" lengthAdjust="spacingAndGlyphs" stroke="#1a1a1a" stroke-width="0.1">ZEB2_Zf</text>
<text x="487.00" y="247.00" font-size="3.6" text-anchor="start" fill="#1a1a1a" textLength="15.30" lengthAdjust="spacingAndGlyphs" stroke="#1a1a1a" stroke-width="0.1">TEAD3_TEA</text>
<text x="482.00" y="251.00" font-size="3.6" text-anchor="start" fill="#1a1a1a" textLength="13.60" lengthAdjust="spacingAndGlyphs" stroke="#1a1a1a" stroke-width="0.1">HNF6_CUT</text>
<text x="462.00" y="247.00" font-size="3.6" text-anchor="start" fill="#1a1a1a" textLength="15.30" lengthAdjust="spacingAndGlyphs" stroke="#1a1a1a" stroke-width="0.1">ZNF711_Zf</text>
<text x="459.00" y="254.00" font-size="3.6" text-anchor="start" fill="#1a1a1a" textLength="11.90" lengthAdjust="spacingAndGlyphs" stroke="#1a1a1a" stroke-width="0.1">THRa_NR</text>
<text x="468.00" y="257.00" font-size="3.6" text-anchor="start" fill="#1a1a1a" textLength="13.60" lengthAdjust="spacingAndGlyphs" stroke="#1a1a1a" stroke-width="0.1">Sox6_HMG</text>
<text x="475.00" y="259.00" font-size="3.6" text-anchor="start" fill="#1a1a1a" textLength="11.90" lengthAdjust="spacingAndGlyphs" stroke="#1a1a1a" stroke-width="0.1">CEBP_Zf</text>
<text x="467.00" y="263.00" font-size="3.6" text-anchor="start" fill="#1a1a1a" textLength="11.90" lengthAdjust="spacingAndGlyphs" stroke="#1a1a1a" stroke-width="0.1">Dlx1_Zf</text>
<text x="467.00" y="270.00" font-size="3.6" text-anchor="start" fill="#1a1a1a" textLength="8.50" lengthAdjust="spacingAndGlyphs" stroke="#1a1a1a" stroke-width="0.1">STAT6</text>
<path d="M440.0 238.7l4 -2l2 -4M444.0 236.7l3 5" stroke="#2d3f8f" stroke-width="0.9" fill="none"/>
<line x1="471.00" y1="226.00" x2="472.00" y2="229.00" stroke="#b3262d" stroke-width="0.7"/>
<line x1="469.00" y1="232.00" x2="470.00" y2="235.00" stroke="#b3262d" stroke-width="0.7"/>
<line x1="468.00" y1="240.00" x2="469.00" y2="243.00" stroke="#b3262d" stroke-width="0.7"/>
<line x1="470.00" y1="247.00" x2="471.00" y2="250.00" stroke="#b3262d" stroke-width="0.7"/>
<line x1="468.00" y1="253.00" x2="469.00" y2="256.00" stroke="#b3262d" stroke-width="0.7"/>
<line x1="472.00" y1="258.00" x2="473.00" y2="261.00" stroke="#b3262d" stroke-width="0.7"/>
<rect x="386.10" y="187.30" width="140.80" height="142.00" fill="none" stroke="#333" stroke-width="1.1"/>
<line x1="383.90" y1="323.10" x2="386.10" y2="323.10" stroke="#333" stroke-width="0.8"/>
<text x="383.50" y="324.50" font-size="4.1" text-anchor="end" fill="#222">0</text>
<line x1="383.90" y1="294.58" x2="386.10" y2="294.58" stroke="#333" stroke-width="0.8"/>
<text x="383.50" y="295.98" font-size="4.1" text-anchor="end" fill="#222">50</text>
<line x1="383.90" y1="266.05" x2="386.10" y2="266.05" stroke="#333" stroke-width="0.8"/>
<text x="383.50" y="267.45" font-size="4.1" text-anchor="end" fill="#222">100</text>
<line x1="383.90" y1="237.53" x2="386.10" y2="237.53" stroke="#333" stroke-width="0.8"/>
<text x="383.50" y="238.93" font-size="4.1" text-anchor="end" fill="#222">150</text>
<line x1="383.90" y1="209.00" x2="386.10" y2="209.00" stroke="#333" stroke-width="0.8"/>
<text x="383.50" y="210.40" font-size="4.1" text-anchor="end" fill="#222">200</text>
<line x1="388.58" y1="329.30" x2="388.58" y2="331.30" stroke="#333" stroke-width="0.8"/>
<text x="388.58" y="337.40" font-size="7.9" text-anchor="middle" fill="#333" stroke="#333" stroke-width="0.16">-0.8</text>
<line x1="405.56" y1="329.30" x2="405.56" y2="331.30" stroke="#333" stroke-width="0.8"/>
<text x="405.56" y="337.40" font-size="7.9" text-anchor="middle" fill="#333" stroke="#333" stroke-width="0.16">-0.6</text>
<line x1="422.54" y1="329.30" x2="422.54" y2="331.30" stroke="#333" stroke-width="0.8"/>
<text x="422.54" y="337.40" font-size="7.9" text-anchor="middle" fill="#333" stroke="#333" stroke-width="0.16">-0.4</text>
<line x1="439.52" y1="329.30" x2="439.52" y2="331.30" stroke="#333" stroke-width="0.8"/>
<text x="439.52" y="337.40" font-size="7.9" text-anchor="middle" fill="#333" stroke="#333" stroke-width="0.16">-0.2</text>
<line x1="456.50" y1="329.30" x2="456.50" y2="331.30" stroke="#333" stroke-width="0.8"/>
<text x="456.50" y="337.40" font-size="7.9" text-anchor="middle" fill="#333" stroke="#333" stroke-width="0.16">0.0</text>
<line x1="473.48" y1="329.30" x2="473.48" y2="331.30" stroke="#333" stroke-width="0.8"/>
<text x="473.48" y="337.40" font-size="7.9" text-anchor="middle" fill="#333" stroke="#333" stroke-width="0.16">0.2</text>
<line x1="490.46" y1="329.30" x2="490.46" y2="331.30" stroke="#333" stroke-width="0.8"/>
<text x="490.46" y="337.40" font-size="7.9" text-anchor="middle" fill="#333" stroke="#333" stroke-width="0.16">0.4</text>
<line x1="507.44" y1="329.30" x2="507.44" y2="331.30" stroke="#333" stroke-width="0.8"/>
<text x="507.44" y="337.40" font-size="7.9" text-anchor="middle" fill="#333" stroke="#333" stroke-width="0.16">0.6</text>
<line x1="524.42" y1="329.30" x2="524.42" y2="331.30" stroke="#333" stroke-width="0.8"/>
<text x="524.42" y="337.40" font-size="7.9" text-anchor="middle" fill="#333" stroke="#333" stroke-width="0.16">0.8</text>
<text x="458.10" y="185.20" font-size="8.4" text-anchor="middle" fill="#2a2a2a" textLength="42.30" lengthAdjust="spacingAndGlyphs" stroke="#2a2a2a" stroke-width="0.16">TOBIAS plot</text>
<text x="462.50" y="349.60" font-size="8.8" text-anchor="middle" fill="#333" textLength="96.50" lengthAdjust="spacingAndGlyphs" stroke="#333" stroke-width="0.16">Differential binding score</text>
<text x="0" y="0" font-size="8.2" text-anchor="middle" fill="#333" transform="translate(373.30 258.00) rotate(-90)">-log<tspan font-size="4.5" dy="1.5">10</tspan><tspan dy="-1.5">(p-val)</tspan></text>
<rect x="388.10" y="318.00" width="17.50" height="10.00" fill="#fff" stroke="#ddd" stroke-width="0.4"/>
<line x1="389.30" y1="320.70" x2="395.60" y2="320.70" stroke="#111" stroke-width="0.7"/>
<circle cx="392.40" cy="320.70" r="0.90" fill="#111"/>
<text x="396.40" y="321.80" font-size="3.0" text-anchor="start" fill="#444">Kmt2d</text>
<line x1="389.30" y1="325.20" x2="395.60" y2="325.20" stroke="#111" stroke-width="0.7"/>
<circle cx="392.40" cy="325.20" r="0.90" fill="#111"/>
<text x="396.40" y="326.30" font-size="3.0" text-anchor="start" fill="#444">NTC</text>
<path d="M626.5 282.6h0M632.0 301.8h0M633.2 306.8h0M630.8 274.9h0M628.0 285.8h0M633.8 289.9h0M626.8 267.5h0M633.1 308.7h0M626.6 266.7h0M626.3 284.9h0M631.8 301.1h0M631.0 312.0h0M632.0 281.0h0M622.9 258.4h0M620.3 251.7h0M627.9 273.6h0M621.9 254.3h0M622.3 252.9h0M632.1 303.4h0M622.1 257.1h0M617.8 241.2h0M630.5 308.2h0M628.2 268.4h0M631.8 312.9h0M629.9 300.5h0M625.6 268.0h0M632.8 293.7h0M624.0 262.0h0M622.3 251.1h0M619.1 243.4h0M629.7 274.5h0M626.2 272.6h0M629.4 291.9h0M620.7 244.6h0M619.1 244.2h0M627.2 279.3h0M634.8 309.1h0M628.3 292.9h0M630.9 295.3h0M632.2 311.4h0M633.3 304.6h0M629.9 296.6h0M630.0 290.6h0M623.5 247.4h0M618.4 243.8h0M632.8 284.8h0M623.7 262.5h0M624.7 262.0h0M629.9 290.5h0M632.3 305.8h0M630.6 306.9h0M625.6 266.1h0M618.2 245.4h0M623.8 262.9h0M629.1 289.0h0M632.6 316.1h0M634.3 316.7h0M622.1 250.2h0M632.8 280.9h0M621.9 253.0h0M631.9 304.6h0M622.0 254.3h0M628.5 301.8h0M629.6 277.2h0M619.2 249.0h0M629.6 278.7h0M632.8 299.6h0M626.0 265.8h0M631.3 297.6h0M633.2 293.4h0M632.9 317.2h0M630.3 301.3h0M630.0 288.3h0M630.5 288.3h0M626.1 270.1h0M622.0 258.1h0M621.0 245.4h0M629.5 277.6h0M630.8 285.3h0M619.0 248.0h0M619.4 243.1h0M620.1 256.2h0M630.0 276.1h0M633.2 296.7h0M632.7 314.9h0M623.4 259.1h0M622.9 253.8h0M624.6 270.6h0M632.1 284.1h0M629.5 262.6h0M629.4 274.0h0M620.3 246.6h0M631.8 294.5h0M629.5 273.7h0M625.7 261.8h0M631.8 316.0h0M632.4 317.0h0M625.6 271.2h0M632.3 289.2h0M623.8 266.0h0M634.8 303.4h0M621.9 259.2h0M630.9 290.4h0M628.2 268.3h0M628.3 267.5h0M634.1 296.1h0M630.8 289.5h0M634.5 309.4h0M623.1 257.1h0M625.8 260.5h0M619.1 246.0h0M619.0 248.1h0M625.9 272.8h0M630.7 285.8h0M633.7 309.4h0M630.4 316.2h0M627.3 265.9h0M620.3 243.7h0M627.6 276.2h0M622.8 255.5h0M629.2 284.0h0M630.7 300.3h0M620.0 241.2h0M633.2 315.2h0M628.9 281.9h0M628.8 292.0h0M631.1 306.5h0M622.5 255.8h0M622.2 261.9h0M631.6 316.5h0M629.6 292.4h0M632.5 296.1h0M625.5 262.0h0M621.7 249.6h0M633.5 306.4h0M629.1 274.9h0M632.2 310.1h0M632.2 306.0h0M634.3 288.5h0M631.0 275.4h0M632.0 296.4h0M630.0 307.2h0M620.8 245.0h0M632.1 284.9h0M620.0 244.7h0M631.3 282.7h0M628.9 281.8h0M621.1 253.0h0M630.8 303.4h0M630.7 288.6h0M631.1 308.0h0M623.4 264.7h0M624.3 254.7h0M624.8 257.0h0M625.6 264.7h0M627.2 270.5h0M634.4 299.5h0M625.8 263.8h0M629.1 281.6h0M623.3 262.5h0M631.6 294.0h0M624.4 262.3h0M632.9 306.7h0M622.9 245.3h0M634.6 305.6h0M630.5 282.4h0M631.4 292.8h0M625.5 260.4h0M624.6 260.5h0M632.8 297.3h0M622.1 253.0h0M628.9 281.2h0M628.3 268.3h0M633.8 314.4h0M633.0 285.5h0M627.9 280.6h0M619.2 247.1h0M620.4 244.4h0M622.4 243.6h0M625.7 279.7h0M628.5 282.1h0M624.4 261.8h0M633.4 302.6h0M632.5 307.4h0M629.3 304.4h0M629.6 261.3h0M628.5 265.9h0M629.4 274.5h0M624.7 256.3h0M628.8 275.5h0M621.8 260.2h0M634.1 300.0h0M631.0 277.9h0M633.3 309.1h0M631.5 284.8h0M621.2 253.6h0M631.3 307.9h0M621.0 248.0h0M631.8 277.6h0M630.7 279.8h0M630.6 300.0h0M634.1 311.4h0M630.6 312.5h0M621.5 259.3h0M620.1 250.5h0M629.5 300.5h0M630.4 288.6h0M619.6 240.7h0M629.9 281.9h0M632.0 309.6h0M632.7 288.5h0M632.5 318.1h0M632.0 301.3h0M621.9 263.2h0M633.1 288.4h0M629.1 271.3h0M634.2 303.8h0M620.7 253.2h0M622.8 250.6h0M623.7 265.6h0M630.8 290.9h0M630.8 273.3h0M617.7 242.5h0M632.5 303.9h0M627.1 277.0h0M629.3 299.8h0M632.4 310.7h0M619.6 256.7h0M630.5 284.2h0M630.5 315.0h0M628.5 282.9h0M630.5 288.9h0M623.0 264.7h0M620.8 251.4h0M626.3 265.1h0M632.2 298.8h0M622.1 260.9h0M634.1 316.8h0M629.2 309.7h0M628.6 278.1h0M631.7 302.4h0M628.2 267.4h0M628.6 264.7h0M626.7 268.1h0M625.5 271.7h0M624.3 261.2h0M619.1 246.4h0M622.0 241.0h0M632.5 287.0h0M631.7 293.4h0M616.3 246.4h0M628.7 278.2h0M634.1 293.8h0M618.5 243.0h0M633.2 311.1h0M627.9 291.7h0M628.8 263.4h0M625.1 262.3h0M620.3 248.9h0M631.3 292.0h0M625.8 263.1h0M629.8 284.6h0M619.2 250.7h0M627.8 270.4h0M633.1 311.0h0M622.8 258.9h0M628.8 314.3h0M633.8 309.3h0M623.8 269.0h0M621.4 253.5h0M627.1 270.6h0M622.0 247.5h0M623.5 276.1h0M626.3 270.2h0M633.0 291.3h0M626.6 257.2h0M624.3 247.9h0M624.3 262.1h0M618.2 244.8h0M630.5 285.6h0M635.8 289.6h0M632.0 301.7h0M637.7 281.7h0M634.9 298.9h0M638.0 261.0h0M637.6 287.2h0M634.1 291.7h0M641.0 250.6h0M632.8 305.7h0M642.1 245.2h0M634.7 301.3h0M634.8 291.0h0M633.7 305.6h0M636.8 288.5h0M636.9 273.1h0M643.5 242.6h0M643.9 243.5h0M635.0 298.5h0M635.2 285.8h0M638.4 267.8h0M636.9 270.9h0M638.5 255.3h0M633.7 279.9h0M645.0 240.7h0M638.2 255.5h0M641.2 254.6h0M632.4 310.8h0M632.9 303.2h0M637.9 254.7h0M635.1 307.6h0M632.8 311.0h0M642.5 252.1h0M634.1 279.3h0M633.5 299.1h0M643.7 248.0h0M635.5 297.7h0M634.1 302.8h0M635.5 254.6h0M641.0 255.8h0M637.2 283.4h0M638.2 264.7h0M633.5 313.8h0M635.4 282.7h0M634.3 283.3h0M641.9 249.4h0M634.4 281.7h0M636.6 285.7h0M635.4 285.4h0M633.0 311.0h0M640.1 256.5h0M634.5 306.7h0M633.0 304.7h0M634.5 290.1h0M636.1 280.2h0M636.0 267.7h0M631.9 299.5h0M635.4 295.1h0M634.3 299.1h0M641.9 241.9h0M635.9 267.1h0M637.7 263.5h0M644.6 239.1h0M638.0 261.9h0M639.6 253.4h0M640.3 247.5h0M636.3 271.9h0M635.1 287.5h0M637.7 262.1h0M639.6 243.7h0M636.8 277.7h0M635.4 281.8h0M637.0 270.1h0M642.5 248.1h0M634.8 290.7h0M641.1 251.6h0M636.1 266.0h0M636.5 278.0h0M638.8 268.0h0M638.7 262.6h0M635.4 280.7h0M639.0 260.2h0M642.0 249.6h0M638.2 271.1h0M634.9 298.6h0M634.3 297.6h0M641.5 244.1h0M634.5 296.7h0M632.7 300.4h0M646.5 239.6h0M639.6 249.6h0M637.4 287.3h0M634.5 313.8h0M642.9 245.7h0M636.8 274.4h0M637.4 270.8h0M635.8 282.1h0M637.3 275.2h0M642.3 246.3h0M635.1 293.7h0M636.7 288.6h0M634.5 280.1h0M643.8 240.9h0M642.8 248.0h0M637.6 258.0h0M638.4 266.6h0M635.9 271.8h0M640.6 258.2h0M635.6 276.9h0M644.2 240.4h0M630.6 312.5h0M634.4 293.5h0M634.3 285.4h0M633.3 304.1h0M633.0 313.2h0M633.8 307.7h0M633.1 296.6h0M635.8 272.3h0M639.2 261.0h0M632.4 311.0h0M634.5 279.3h0M639.8 261.6h0M633.0 310.0h0M632.6 302.4h0M635.1 293.1h0M634.3 301.7h0M637.1 274.5h0M639.2 254.2h0M635.5 296.9h0M636.2 279.6h0M643.3 243.5h0M638.6 268.1h0M635.0 301.4h0M635.0 271.0h0M640.4 247.0h0M642.3 248.9h0M633.2 310.2h0M637.0 272.9h0M637.1 266.5h0M637.3 293.2h0M641.6 248.8h0M633.8 301.5h0M641.0 250.9h0M637.6 264.5h0M632.7 314.2h0M637.2 279.0h0M635.4 279.1h0M637.3 279.5h0M635.7 298.5h0M634.2 309.6h0M636.1 280.3h0M638.3 257.2h0M633.1 303.4h0M635.2 309.1h0M638.7 259.2h0M639.8 255.4h0M638.6 275.3h0M640.1 249.8h0M634.0 303.3h0M643.0 248.8h0M636.8 291.2h0M632.6 308.6h0M637.7 276.4h0M638.1 258.4h0M639.0 272.0h0M636.6 260.5h0M642.7 244.4h0M634.1 294.3h0M637.3 272.4h0M638.8 276.9h0M640.9 256.4h0M641.2 245.4h0M635.2 277.0h0M634.0 306.8h0M636.5 282.3h0M636.7 275.2h0M634.3 313.8h0M634.5 302.7h0M635.9 273.4h0M639.5 253.8h0M636.5 273.2h0M637.1 284.1h0M640.3 262.2h0M636.6 269.0h0M632.0 311.8h0M641.1 253.9h0M644.7 243.8h0M639.1 272.3h0M636.1 275.0h0M635.4 295.1h0M636.7 279.6h0M631.9 310.4h0M641.2 246.2h0M636.0 257.2h0M635.4 292.3h0M633.1 298.1h0M634.6 274.0h0M636.6 278.6h0M632.7 300.0h0M635.7 275.5h0M634.1 309.2h0M634.6 286.6h0M636.4 281.1h0M639.6 253.1h0M643.1 245.4h0M637.5 260.1h0M636.1 290.6h0M637.7 269.2h0M632.6 302.8h0M637.6 265.4h0M636.0 290.8h0M622.2 252.1h0M625.2 263.4h0M621.0 260.3h0M620.3 258.3h0M623.3 259.5h0M625.3 260.0h0M623.1 253.5h0M622.3 255.3h0M616.9 249.6h0M624.4 267.7h0M620.4 256.1h0M623.4 259.1h0M625.9 255.8h0M620.8 254.3h0M619.5 247.9h0M622.9 267.0h0M622.1 261.7h0M624.6 267.0h0M620.2 257.9h0M623.9 266.9h0M619.0 248.1h0M622.0 251.9h0M624.2 253.1h0M619.6 251.3h0M621.2 247.4h0M622.4 264.5h0M617.4 247.9h0M621.4 260.2h0M620.5 251.6h0M619.8 250.6h0M624.3 266.9h0M628.2 260.5h0M616.8 246.4h0M624.2 267.2h0M625.9 267.9h0M624.2 267.8h0M626.5 263.1h0M617.4 249.1h0M622.5 257.7h0M625.2 261.9h0M619.5 253.0h0M624.4 260.4h0M626.6 253.6h0M628.0 259.6h0M627.4 266.5h0M619.4 247.1h0M620.6 267.8h0M619.4 255.9h0M617.4 246.2h0M617.8 245.1h0" stroke="#141414" stroke-width="1.5" stroke-linecap="round"/>
<line x1="584.00" y1="203.50" x2="584.00" y2="206.00" stroke="#151515" stroke-width="0.95"/>
<line x1="605.00" y1="206.50" x2="596.00" y2="212.00" stroke="#151515" stroke-width="0.95"/>
<line x1="592.00" y1="210.00" x2="592.00" y2="216.00" stroke="#151515" stroke-width="0.95"/>
<line x1="575.50" y1="213.00" x2="574.00" y2="218.00" stroke="#151515" stroke-width="0.95"/>
<line x1="605.00" y1="213.50" x2="605.00" y2="219.50" stroke="#151515" stroke-width="0.95"/>
<line x1="576.10" y1="217.00" x2="605.00" y2="219.50" stroke="#151515" stroke-width="0.95"/>
<line x1="604.90" y1="217.50" x2="605.00" y2="219.50" stroke="#151515" stroke-width="0.95"/>
<line x1="623.00" y1="216.00" x2="605.00" y2="219.50" stroke="#151515" stroke-width="0.95"/>
<line x1="584.90" y1="220.50" x2="605.00" y2="219.50" stroke="#151515" stroke-width="0.95"/>
<line x1="602.10" y1="218.00" x2="605.00" y2="219.50" stroke="#151515" stroke-width="0.95"/>
<line x1="626.00" y1="220.50" x2="605.00" y2="219.50" stroke="#151515" stroke-width="0.95"/>
<line x1="585.80" y1="223.00" x2="605.00" y2="219.50" stroke="#151515" stroke-width="0.95"/>
<line x1="604.60" y1="221.50" x2="605.00" y2="219.50" stroke="#151515" stroke-width="0.95"/>
<line x1="605.00" y1="224.00" x2="605.00" y2="219.50" stroke="#151515" stroke-width="0.95"/>
<line x1="620.50" y1="224.50" x2="607.00" y2="221.00" stroke="#151515" stroke-width="0.95"/>
<line x1="607.00" y1="227.50" x2="607.00" y2="223.00" stroke="#151515" stroke-width="0.95"/>
<line x1="619.00" y1="231.50" x2="618.00" y2="233.00" stroke="#151515" stroke-width="0.95"/>
<line x1="614.80" y1="236.50" x2="615.00" y2="239.00" stroke="#151515" stroke-width="0.95"/>
<line x1="609.60" y1="241.50" x2="614.00" y2="242.00" stroke="#151515" stroke-width="0.95"/>
<line x1="614.60" y1="245.50" x2="620.00" y2="247.00" stroke="#151515" stroke-width="0.95"/>
<line x1="616.20" y1="253.00" x2="622.00" y2="254.00" stroke="#151515" stroke-width="0.95"/>
<line x1="650.00" y1="225.80" x2="648.00" y2="230.00" stroke="#151515" stroke-width="0.95"/>
<line x1="649.60" y1="231.00" x2="648.00" y2="231.00" stroke="#151515" stroke-width="0.95"/>
<line x1="661.30" y1="235.40" x2="651.00" y2="237.00" stroke="#151515" stroke-width="0.95"/>
<line x1="648.00" y1="240.20" x2="643.00" y2="240.00" stroke="#151515" stroke-width="0.95"/>
<line x1="645.30" y1="245.50" x2="643.00" y2="245.00" stroke="#151515" stroke-width="0.95"/>
<line x1="672.00" y1="247.60" x2="643.00" y2="249.00" stroke="#151515" stroke-width="0.95"/>
<line x1="658.00" y1="251.40" x2="643.00" y2="251.00" stroke="#151515" stroke-width="0.95"/>
<line x1="658.00" y1="264.70" x2="643.00" y2="264.00" stroke="#151515" stroke-width="0.95"/>
<text x="584.00" y="204.50" font-size="3.6" text-anchor="start" fill="#1a1a1a" textLength="13.60" lengthAdjust="spacingAndGlyphs" stroke="#1a1a1a" stroke-width="0.1">SpiB_ETS</text>
<text x="605.00" y="207.50" font-size="3.6" text-anchor="start" fill="#1a1a1a" textLength="13.60" lengthAdjust="spacingAndGlyphs" stroke="#1a1a1a" stroke-width="0.1">PU.1_ETS</text>
<text x="591.00" y="211.00" font-size="3.6" text-anchor="start" fill="#1a1a1a" textLength="13.60" lengthAdjust="spacingAndGlyphs" stroke="#1a1a1a" stroke-width="0.1">ELF3_ETS</text>
<text x="575.50" y="214.00" font-size="3.6" text-anchor="start" fill="#1a1a1a" textLength="15.30" lengthAdjust="spacingAndGlyphs" stroke="#1a1a1a" stroke-width="0.1">CEBP_bZIP</text>
<text x="600.00" y="214.50" font-size="3.6" text-anchor="start" fill="#1a1a1a" textLength="13.60" lengthAdjust="spacingAndGlyphs" stroke="#1a1a1a" stroke-width="0.1">ELF5_ETS</text>
<text x="562.50" y="218.00" font-size="3.6" text-anchor="start" fill="#1a1a1a" textLength="13.60" lengthAdjust="spacingAndGlyphs" stroke="#1a1a1a" stroke-width="0.1">HLF_bZIP</text>
<text x="593.00" y="218.50" font-size="3.6" text-anchor="start" fill="#1a1a1a" textLength="11.90" lengthAdjust="spacingAndGlyphs" stroke="#1a1a1a" stroke-width="0.1">EHF_ETS</text>
<text x="623.00" y="217.00" font-size="3.6" text-anchor="start" fill="#1a1a1a" textLength="11.90" lengthAdjust="spacingAndGlyphs" stroke="#1a1a1a" stroke-width="0.1">ERG_ETS</text>
<text x="564.50" y="221.50" font-size="3.6" text-anchor="start" fill="#1a1a1a" textLength="20.40" lengthAdjust="spacingAndGlyphs" stroke="#1a1a1a" stroke-width="0.1">PU.1:IRF_ETS</text>
<text x="580.00" y="219.00" font-size="3.6" text-anchor="start" fill="#1a1a1a" textLength="22.10" lengthAdjust="spacingAndGlyphs" stroke="#1a1a1a" stroke-width="0.1">CEBP:AP1_bZIP</text>
<text x="626.00" y="221.50" font-size="3.6" text-anchor="start" fill="#1a1a1a" textLength="27.20" lengthAdjust="spacingAndGlyphs" stroke="#1a1a1a" stroke-width="0.1">PU.1-IRF_ETS:IRF</text>
<text x="570.50" y="224.00" font-size="3.6" text-anchor="start" fill="#1a1a1a" textLength="15.30" lengthAdjust="spacingAndGlyphs" stroke="#1a1a1a" stroke-width="0.1">ATF4_bZIP</text>
<text x="591.00" y="222.50" font-size="3.6" text-anchor="start" fill="#1a1a1a" textLength="13.60" lengthAdjust="spacingAndGlyphs" stroke="#1a1a1a" stroke-width="0.1">IRF1_IRF</text>
<text x="598.00" y="225.00" font-size="3.6" text-anchor="start" fill="#1a1a1a" textLength="13.60" lengthAdjust="spacingAndGlyphs" stroke="#1a1a1a" stroke-width="0.1">ETS1_ETS</text>
<text x="620.50" y="225.50" font-size="3.6" text-anchor="start" fill="#1a1a1a" textLength="11.90" lengthAdjust="spacingAndGlyphs" stroke="#1a1a1a" stroke-width="0.1">EBF_EBF</text>
<text x="567.00" y="228.00" font-size="3.6" text-anchor="start" fill="#1a1a1a" textLength="17.00" lengthAdjust="spacingAndGlyphs" stroke="#1a1a1a" stroke-width="0.1">NFIL3_bZIP</text>
<text x="586.00" y="228.00" font-size="3.6" text-anchor="start" fill="#1a1a1a" textLength="15.30" lengthAdjust="spacingAndGlyphs" stroke="#1a1a1a" stroke-width="0.1">Chop_bZIP</text>
<text x="607.00" y="228.50" font-size="3.6" text-anchor="start" fill="#1a1a1a" textLength="13.60" lengthAdjust="spacingAndGlyphs" stroke="#1a1a1a" stroke-width="0.1">IRF8_IRF</text>
<text x="619.00" y="232.50" font-size="3.6" text-anchor="start" fill="#1a1a1a" textLength="13.60" lengthAdjust="spacingAndGlyphs" stroke="#1a1a1a" stroke-width="0.1">ETV1_ETS</text>
<text x="591.00" y="237.50" font-size="3.6" text-anchor="start" fill="#1a1a1a" textLength="23.80" lengthAdjust="spacingAndGlyphs" stroke="#1a1a1a" stroke-width="0.1">CEBP:CEBP_bZIP</text>
<text x="618.00" y="238.50" font-size="3.6" text-anchor="start" fill="#1a1a1a" textLength="11.90" lengthAdjust="spacingAndGlyphs" stroke="#1a1a1a" stroke-width="0.1">RUNX_Zf</text>
<text x="562.00" y="242.50" font-size="3.6" text-anchor="start" fill="#1a1a1a" textLength="47.60" lengthAdjust="spacingAndGlyphs" stroke="#1a1a1a" stroke-width="0.1">Pax7_Paired,Homeobox,longest</text>
<text x="584.00" y="246.50" font-size="3.6" text-anchor="start" fill="#1a1a1a" textLength="30.60" lengthAdjust="spacingAndGlyphs" stroke="#1a1a1a" stroke-width="0.1">E2A_bHLH,near_PU.1</text>
<text x="589.00" y="254.00" font-size="3.6" text-anchor="start" fill="#1a1a1a" textLength="27.20" lengthAdjust="spacingAndGlyphs" stroke="#1a1a1a" stroke-width="0.1">GATA-SCL_Zf,bHLH</text>
<text x="617.00" y="259.50" font-size="3.6" text-anchor="start" fill="#1a1a1a" textLength="17.00" lengthAdjust="spacingAndGlyphs" stroke="#1a1a1a" stroke-width="0.1">Bach1_bZIP</text>
<text x="650.00" y="226.80" font-size="3.6" text-anchor="start" fill="#1a1a1a" textLength="13.60" lengthAdjust="spacingAndGlyphs" stroke="#1a1a1a" stroke-width="0.1">BORIS_Zf</text>
<text x="649.60" y="232.00" font-size="3.6" text-anchor="start" fill="#1a1a1a" textLength="11.90" lengthAdjust="spacingAndGlyphs" stroke="#1a1a1a" stroke-width="0.1">CTCF_Zf</text>
<text x="661.30" y="236.40" font-size="3.6" text-anchor="start" fill="#1a1a1a" textLength="11.90" lengthAdjust="spacingAndGlyphs" stroke="#1a1a1a" stroke-width="0.1">NF1_CTF</text>
<text x="637.30" y="237.40" font-size="3.6" text-anchor="start" fill="#1a1a1a" textLength="8.50" lengthAdjust="spacingAndGlyphs" stroke="#1a1a1a" stroke-width="0.1">Th_HR</text>
<text x="648.00" y="241.20" font-size="3.6" text-anchor="start" fill="#1a1a1a" textLength="10.20" lengthAdjust="spacingAndGlyphs" stroke="#1a1a1a" stroke-width="0.1">Sp4_Zf</text>
<text x="632.00" y="242.80" font-size="3.6" text-anchor="start" fill="#1a1a1a" textLength="11.90" lengthAdjust="spacingAndGlyphs" stroke="#1a1a1a" stroke-width="0.1">ZBTB_Zf</text>
<text x="645.30" y="246.50" font-size="3.6" text-anchor="start" fill="#1a1a1a" textLength="11.90" lengthAdjust="spacingAndGlyphs" stroke="#1a1a1a" stroke-width="0.1">Elk1_Zf</text>
<text x="672.00" y="248.60" font-size="3.6" text-anchor="start" fill="#1a1a1a" textLength="15.30" lengthAdjust="spacingAndGlyphs" stroke="#1a1a1a" stroke-width="0.1">ZNF416_Zf</text>
<text x="658.00" y="252.40" font-size="3.6" text-anchor="start" fill="#1a1a1a" textLength="15.30" lengthAdjust="spacingAndGlyphs" stroke="#1a1a1a" stroke-width="0.1">Zfp281_Zf</text>
<text x="644.80" y="256.00" font-size="3.6" text-anchor="start" fill="#1a1a1a" textLength="10.20" lengthAdjust="spacingAndGlyphs" stroke="#1a1a1a" stroke-width="0.1">Zic_Zf</text>
<text x="631.00" y="259.90" font-size="3.6" text-anchor="start" fill="#1a1a1a" textLength="11.90" lengthAdjust="spacingAndGlyphs" stroke="#1a1a1a" stroke-width="0.1">Gfi1_Zf</text>
<text x="644.80" y="261.50" font-size="3.6" text-anchor="start" fill="#1a1a1a" textLength="13.60" lengthAdjust="spacingAndGlyphs" stroke="#1a1a1a" stroke-width="0.1">NRF1_NRF</text>
<text x="658.00" y="265.70" font-size="3.6" text-anchor="start" fill="#1a1a1a" textLength="11.90" lengthAdjust="spacingAndGlyphs" stroke="#1a1a1a" stroke-width="0.1">HNF6_Zf</text>
<text x="641.60" y="266.30" font-size="3.6" text-anchor="start" fill="#1a1a1a" textLength="11.90" lengthAdjust="spacingAndGlyphs" stroke="#1a1a1a" stroke-width="0.1">KLF3_Zf</text>
<path d="M602 220l6 0l4 -3M608 220l5 2" stroke="#2d3f8f" stroke-width="0.9" fill="none"/>
<line x1="644.00" y1="243.00" x2="645.20" y2="246.00" stroke="#b3262d" stroke-width="0.7"/>
<line x1="642.00" y1="249.00" x2="643.20" y2="252.00" stroke="#b3262d" stroke-width="0.7"/>
<line x1="643.00" y1="255.00" x2="644.20" y2="258.00" stroke="#b3262d" stroke-width="0.7"/>
<line x1="642.00" y1="262.00" x2="643.20" y2="265.00" stroke="#b3262d" stroke-width="0.7"/>
<line x1="644.00" y1="266.00" x2="645.20" y2="269.00" stroke="#b3262d" stroke-width="0.7"/>
<rect x="562.30" y="186.90" width="141.50" height="142.40" fill="none" stroke="#333" stroke-width="1.1"/>
<line x1="560.10" y1="323.60" x2="562.30" y2="323.60" stroke="#333" stroke-width="0.8"/>
<text x="559.70" y="325.00" font-size="4.1" text-anchor="end" fill="#222">0</text>
<line x1="560.10" y1="299.00" x2="562.30" y2="299.00" stroke="#333" stroke-width="0.8"/>
<text x="559.70" y="300.40" font-size="4.1" text-anchor="end" fill="#222">50</text>
<line x1="560.10" y1="274.40" x2="562.30" y2="274.40" stroke="#333" stroke-width="0.8"/>
<text x="559.70" y="275.80" font-size="4.1" text-anchor="end" fill="#222">100</text>
<line x1="560.10" y1="249.80" x2="562.30" y2="249.80" stroke="#333" stroke-width="0.8"/>
<text x="559.70" y="251.20" font-size="4.1" text-anchor="end" fill="#222">150</text>
<line x1="560.10" y1="225.20" x2="562.30" y2="225.20" stroke="#333" stroke-width="0.8"/>
<text x="559.70" y="226.60" font-size="4.1" text-anchor="end" fill="#222">200</text>
<line x1="560.10" y1="200.60" x2="562.30" y2="200.60" stroke="#333" stroke-width="0.8"/>
<text x="559.70" y="202.00" font-size="4.1" text-anchor="end" fill="#222">250</text>
<line x1="567.60" y1="329.30" x2="567.60" y2="331.30" stroke="#333" stroke-width="0.8"/>
<text x="567.60" y="337.90" font-size="7.9" text-anchor="middle" fill="#333" stroke="#333" stroke-width="0.16">-0.8</text>
<line x1="584.00" y1="329.30" x2="584.00" y2="331.30" stroke="#333" stroke-width="0.8"/>
<text x="584.00" y="337.90" font-size="7.9" text-anchor="middle" fill="#333" stroke="#333" stroke-width="0.16">-0.6</text>
<line x1="600.40" y1="329.30" x2="600.40" y2="331.30" stroke="#333" stroke-width="0.8"/>
<text x="600.40" y="337.90" font-size="7.9" text-anchor="middle" fill="#333" stroke="#333" stroke-width="0.16">-0.4</text>
<line x1="616.80" y1="329.30" x2="616.80" y2="331.30" stroke="#333" stroke-width="0.8"/>
<text x="616.80" y="337.90" font-size="7.9" text-anchor="middle" fill="#333" stroke="#333" stroke-width="0.16">-0.2</text>
<line x1="633.20" y1="329.30" x2="633.20" y2="331.30" stroke="#333" stroke-width="0.8"/>
<text x="633.20" y="337.90" font-size="7.9" text-anchor="middle" fill="#333" stroke="#333" stroke-width="0.16">0.0</text>
<line x1="649.60" y1="329.30" x2="649.60" y2="331.30" stroke="#333" stroke-width="0.8"/>
<text x="649.60" y="337.90" font-size="7.9" text-anchor="middle" fill="#333" stroke="#333" stroke-width="0.16">0.2</text>
<line x1="666.00" y1="329.30" x2="666.00" y2="331.30" stroke="#333" stroke-width="0.8"/>
<text x="666.00" y="337.90" font-size="7.9" text-anchor="middle" fill="#333" stroke="#333" stroke-width="0.16">0.4</text>
<line x1="682.40" y1="329.30" x2="682.40" y2="331.30" stroke="#333" stroke-width="0.8"/>
<text x="682.40" y="337.90" font-size="7.9" text-anchor="middle" fill="#333" stroke="#333" stroke-width="0.16">0.6</text>
<line x1="698.80" y1="329.30" x2="698.80" y2="331.30" stroke="#333" stroke-width="0.8"/>
<text x="698.80" y="337.90" font-size="7.9" text-anchor="middle" fill="#333" stroke="#333" stroke-width="0.16">0.8</text>
<text x="635.70" y="185.20" font-size="8.4" text-anchor="middle" fill="#2a2a2a" textLength="42.30" lengthAdjust="spacingAndGlyphs" stroke="#2a2a2a" stroke-width="0.16">TOBIAS plot</text>
<text x="638.40" y="349.60" font-size="8.8" text-anchor="middle" fill="#333" textLength="96.50" lengthAdjust="spacingAndGlyphs" stroke="#333" stroke-width="0.16">Differential binding score</text>
<text x="0" y="0" font-size="8.2" text-anchor="middle" fill="#333" transform="translate(547.80 256.60) rotate(-90)">-log<tspan font-size="4.5" dy="1.5">10</tspan><tspan dy="-1.5">(p-val)</tspan></text>
<rect x="564.30" y="318.00" width="17.50" height="10.00" fill="#fff" stroke="#ddd" stroke-width="0.4"/>
<line x1="565.50" y1="320.70" x2="571.80" y2="320.70" stroke="#111" stroke-width="0.7"/>
<circle cx="568.60" cy="320.70" r="0.90" fill="#111"/>
<text x="572.60" y="321.80" font-size="3.0" text-anchor="start" fill="#444">WDR82</text>
<line x1="565.50" y1="325.20" x2="571.80" y2="325.20" stroke="#111" stroke-width="0.7"/>
<circle cx="568.60" cy="325.20" r="0.90" fill="#111"/>
<text x="572.60" y="326.30" font-size="3.0" text-anchor="start" fill="#444">NTC</text>
<text x="1.60" y="413.40" font-size="10.5" text-anchor="start" fill="#111" font-weight="bold">b</text>
<rect x="27.80" y="416.90" width="43.40" height="49.20" fill="#3b4fa2"/>
<rect x="27.80" y="420.70" width="43.40" height="0.70" fill="#3d53a6"/>
<rect x="27.80" y="430.30" width="43.40" height="1.10" fill="#3a4d9f"/>
<rect x="71.20" y="416.90" width="43.90" height="49.20" fill="#fbc98c"/>
<rect x="71.20" y="416.90" width="43.90" height="0.70" fill="#f9bb7c"/>
<rect x="71.20" y="421.20" width="43.90" height="0.90" fill="#f9bb7c"/>
<rect x="71.20" y="423.40" width="43.90" height="1.40" fill="#f8c17f"/>
<rect x="71.20" y="433.00" width="43.90" height="1.10" fill="#fcd199"/>
<rect x="71.20" y="436.00" width="43.90" height="0.70" fill="#f9bb7c"/>
<rect x="71.20" y="438.00" width="43.90" height="0.70" fill="#f8c17f"/>
<rect x="71.20" y="439.10" width="43.90" height="0.50" fill="#f9bb7c"/>
<rect x="71.20" y="443.70" width="43.90" height="0.50" fill="#f9bb7c"/>
<rect x="71.20" y="446.00" width="43.90" height="1.10" fill="#fcd199"/>
<rect x="71.20" y="448.10" width="43.90" height="1.40" fill="#f9bb7c"/>
<rect x="71.20" y="452.30" width="43.90" height="1.10" fill="#f9bb7c"/>
<rect x="71.20" y="457.40" width="43.90" height="1.40" fill="#f8c17f"/>
<rect x="71.20" y="460.90" width="43.90" height="1.40" fill="#f8c17f"/>
<rect x="71.20" y="462.70" width="43.90" height="0.90" fill="#f9bb7c"/>
<rect x="71.20" y="464.60" width="43.90" height="0.70" fill="#f8c17f"/>
<rect x="115.10" y="416.90" width="43.00" height="49.20" fill="#eb633e"/>
<rect x="115.10" y="419.70" width="43.00" height="0.70" fill="#ef744a"/>
<rect x="115.10" y="422.60" width="43.00" height="0.90" fill="#e55a3a"/>
<rect x="115.10" y="426.60" width="43.00" height="0.90" fill="#e24f36"/>
<rect x="115.10" y="428.20" width="43.00" height="1.10" fill="#e24f36"/>
<rect x="115.10" y="433.80" width="43.00" height="0.50" fill="#e55a3a"/>
<rect x="115.10" y="440.40" width="43.00" height="0.90" fill="#e55a3a"/>
<rect x="115.10" y="442.60" width="43.00" height="1.10" fill="#e24f36"/>
<rect x="115.10" y="445.50" width="43.00" height="0.70" fill="#ef744a"/>
<rect x="115.10" y="449.60" width="43.00" height="0.90" fill="#e55a3a"/>
<rect x="115.10" y="451.20" width="43.00" height="0.50" fill="#e55a3a"/>
<rect x="115.10" y="456.00" width="43.00" height="0.70" fill="#e24f36"/>
<rect x="115.10" y="457.70" width="43.00" height="1.40" fill="#e55a3a"/>
<rect x="115.10" y="460.10" width="43.00" height="0.90" fill="#e24f36"/>
<rect x="115.10" y="464.10" width="43.00" height="1.40" fill="#e55a3a"/>
<rect x="27.80" y="466.10" width="43.40" height="56.50" fill="#86a7ce"/>
<rect x="27.80" y="466.10" width="43.40" height="1.40" fill="#779ac5"/>
<rect x="27.80" y="468.80" width="43.40" height="0.70" fill="#9ab8d8"/>
<rect x="27.80" y="470.20" width="43.40" height="0.70" fill="#779ac5"/>
<rect x="27.80" y="472.70" width="43.40" height="0.50" fill="#a9c3dd"/>
<rect x="27.80" y="473.60" width="43.40" height="1.40" fill="#9ab8d8"/>
<rect x="27.80" y="478.30" width="43.40" height="1.10" fill="#779ac5"/>
<rect x="27.80" y="480.70" width="43.40" height="0.90" fill="#9ab8d8"/>
<rect x="27.80" y="482.60" width="43.40" height="1.10" fill="#a9c3dd"/>
<rect x="27.80" y="489.30" width="43.40" height="1.10" fill="#779ac5"/>
<rect x="27.80" y="491.70" width="43.40" height="1.10" fill="#9ab8d8"/>
<rect x="27.80" y="494.10" width="43.40" height="0.50" fill="#6f93c2"/>
<rect x="27.80" y="496.70" width="43.40" height="0.70" fill="#9ab8d8"/>
<rect x="27.80" y="501.60" width="43.40" height="0.70" fill="#a9c3dd"/>
<rect x="27.80" y="504.10" width="43.40" height="1.10" fill="#9ab8d8"/>
<rect x="27.80" y="506.20" width="43.40" height="0.90" fill="#6f93c2"/>
<rect x="27.80" y="507.50" width="43.40" height="0.90" fill="#a9c3dd"/>
<rect x="27.80" y="508.80" width="43.40" height="1.10" fill="#6f93c2"/>
<rect x="27.80" y="511.70" width="43.40" height="0.50" fill="#9ab8d8"/>
<rect x="27.80" y="512.60" width="43.40" height="0.50" fill="#779ac5"/>
<rect x="27.80" y="516.00" width="43.40" height="0.90" fill="#a9c3dd"/>
<rect x="27.80" y="517.90" width="43.40" height="0.50" fill="#9ab8d8"/>
<rect x="27.80" y="519.70" width="43.40" height="0.50" fill="#779ac5"/>
<rect x="27.80" y="520.60" width="43.40" height="0.90" fill="#9ab8d8"/>
<rect x="71.20" y="466.10" width="43.90" height="56.50" fill="#bfd7e6"/>
<rect x="71.20" y="466.10" width="43.90" height="0.50" fill="#9fc0dc"/>
<rect x="71.20" y="467.60" width="43.90" height="1.40" fill="#d5e6ef"/>
<rect x="71.20" y="469.40" width="43.90" height="0.70" fill="#d5e6ef"/>
<rect x="71.20" y="470.80" width="43.90" height="0.90" fill="#d5e6ef"/>
<rect x="71.20" y="472.70" width="43.90" height="1.10" fill="#d5e6ef"/>
<rect x="71.20" y="476.70" width="43.90" height="0.50" fill="#d5e6ef"/>
<rect x="71.20" y="479.00" width="43.90" height="1.10" fill="#9fc0dc"/>
<rect x="71.20" y="490.10" width="43.90" height="0.70" fill="#e2eef2"/>
<rect x="71.20" y="492.10" width="43.90" height="0.70" fill="#9fc0dc"/>
<rect x="71.20" y="494.60" width="43.90" height="0.90" fill="#e2eef2"/>
<rect x="71.20" y="495.90" width="43.90" height="1.10" fill="#e2eef2"/>
<rect x="71.20" y="498.30" width="43.90" height="0.50" fill="#e2eef2"/>
<rect x="71.20" y="500.60" width="43.90" height="0.90" fill="#e2eef2"/>
<rect x="71.20" y="502.20" width="43.90" height="0.90" fill="#e2eef2"/>
<rect x="71.20" y="504.40" width="43.90" height="0.50" fill="#d5e6ef"/>
<rect x="71.20" y="509.00" width="43.90" height="1.10" fill="#9fc0dc"/>
<rect x="71.20" y="510.50" width="43.90" height="0.90" fill="#d5e6ef"/>
<rect x="71.20" y="513.90" width="43.90" height="1.40" fill="#e2eef2"/>
<rect x="71.20" y="516.60" width="43.90" height="0.70" fill="#d5e6ef"/>
<rect x="71.20" y="517.70" width="43.90" height="1.40" fill="#d5e6ef"/>
<rect x="71.20" y="520.90" width="43.90" height="1.40" fill="#a9c7df"/>
<rect x="115.10" y="466.10" width="43.00" height="56.50" fill="#c3222b"/>
<rect x="115.10" y="466.10" width="43.00" height="0.70" fill="#bd1f2a"/>
<rect x="115.10" y="473.90" width="43.00" height="0.90" fill="#bd1f2a"/>
<rect x="115.10" y="476.60" width="43.00" height="1.40" fill="#bd1f2a"/>
<rect x="115.10" y="494.60" width="43.00" height="1.10" fill="#c92a2d"/>
<rect x="115.10" y="504.50" width="43.00" height="1.10" fill="#c92a2d"/>
<rect x="115.10" y="520.30" width="43.00" height="1.10" fill="#bd1f2a"/>
<rect x="27.80" y="522.60" width="43.40" height="112.90" fill="#cb2229"/>
<rect x="27.80" y="541.10" width="43.40" height="0.50" fill="#c41f29"/>
<rect x="27.80" y="557.20" width="43.40" height="0.70" fill="#c41f29"/>
<rect x="27.80" y="558.90" width="43.40" height="0.90" fill="#c41f29"/>
<rect x="27.80" y="563.60" width="43.40" height="1.10" fill="#d02b2d"/>
<rect x="27.80" y="567.10" width="43.40" height="1.40" fill="#c41f29"/>
<rect x="27.80" y="569.80" width="43.40" height="1.10" fill="#d02b2d"/>
<rect x="27.80" y="571.60" width="43.40" height="0.50" fill="#d02b2d"/>
<rect x="27.80" y="584.50" width="43.40" height="0.90" fill="#d02b2d"/>
<rect x="27.80" y="591.70" width="43.40" height="0.70" fill="#c41f29"/>
<rect x="27.80" y="594.20" width="43.40" height="1.10" fill="#c41f29"/>
<rect x="27.80" y="598.90" width="43.40" height="0.50" fill="#d02b2d"/>
<rect x="27.80" y="611.50" width="43.40" height="0.50" fill="#d02b2d"/>
<rect x="27.80" y="613.30" width="43.40" height="0.90" fill="#d02b2d"/>
<rect x="27.80" y="621.80" width="43.40" height="0.70" fill="#c41f29"/>
<rect x="27.80" y="623.50" width="43.40" height="0.50" fill="#c41f29"/>
<rect x="27.80" y="625.30" width="43.40" height="0.50" fill="#c41f29"/>
<rect x="27.80" y="630.90" width="43.40" height="0.70" fill="#c41f29"/>
<rect x="27.80" y="633.40" width="43.40" height="0.50" fill="#d02b2d"/>
<rect x="27.80" y="634.90" width="43.40" height="0.60" fill="#d02b2d"/>
<rect x="71.20" y="522.60" width="43.90" height="112.90" fill="#bed4dd"/>
<rect x="71.20" y="522.60" width="43.90" height="0.90" fill="#97b1cd"/>
<rect x="71.20" y="524.80" width="43.90" height="1.40" fill="#d8e8e6"/>
<rect x="71.20" y="529.00" width="43.90" height="1.40" fill="#e0ece8"/>
<rect x="71.20" y="530.80" width="43.90" height="0.70" fill="#97b1cd"/>
<rect x="71.20" y="532.20" width="43.90" height="1.10" fill="#a3bbd1"/>
<rect x="71.20" y="534.00" width="43.90" height="1.10" fill="#acc5d7"/>
<rect x="71.20" y="537.00" width="43.90" height="0.70" fill="#97b1cd"/>
<rect x="71.20" y="539.00" width="43.90" height="0.50" fill="#e0ece8"/>
<rect x="71.20" y="540.50" width="43.90" height="0.90" fill="#a3bbd1"/>
<rect x="71.20" y="541.80" width="43.90" height="0.50" fill="#acc5d7"/>
<rect x="71.20" y="543.60" width="43.90" height="0.50" fill="#d8e8e6"/>
<rect x="71.20" y="545.40" width="43.90" height="0.90" fill="#acc5d7"/>
<rect x="71.20" y="547.60" width="43.90" height="0.50" fill="#e0ece8"/>
<rect x="71.20" y="548.80" width="43.90" height="0.90" fill="#e0ece8"/>
<rect x="71.20" y="550.40" width="43.90" height="0.90" fill="#e0ece8"/>
<rect x="71.20" y="551.70" width="43.90" height="1.10" fill="#e0ece8"/>
<rect x="71.20" y="553.20" width="43.90" height="1.10" fill="#a3bbd1"/>
<rect x="71.20" y="554.70" width="43.90" height="0.90" fill="#a3bbd1"/>
<rect x="71.20" y="557.40" width="43.90" height="0.90" fill="#acc5d7"/>
<rect x="71.20" y="560.10" width="43.90" height="0.50" fill="#acc5d7"/>
<rect x="71.20" y="561.60" width="43.90" height="0.90" fill="#97b1cd"/>
<rect x="71.20" y="563.80" width="43.90" height="1.10" fill="#e0ece8"/>
<rect x="71.20" y="571.30" width="43.90" height="0.70" fill="#acc5d7"/>
<rect x="71.20" y="573.00" width="43.90" height="1.10" fill="#97b1cd"/>
<rect x="71.20" y="574.50" width="43.90" height="1.40" fill="#d8e8e6"/>
<rect x="71.20" y="576.60" width="43.90" height="1.10" fill="#a3bbd1"/>
<rect x="71.20" y="579.00" width="43.90" height="1.40" fill="#d8e8e6"/>
<rect x="71.20" y="583.20" width="43.90" height="1.40" fill="#a3bbd1"/>
<rect x="71.20" y="588.30" width="43.90" height="0.70" fill="#e0ece8"/>
<rect x="71.20" y="594.20" width="43.90" height="0.90" fill="#97b1cd"/>
<rect x="71.20" y="596.10" width="43.90" height="0.90" fill="#acc5d7"/>
<rect x="71.20" y="597.70" width="43.90" height="1.10" fill="#d8e8e6"/>
<rect x="71.20" y="599.50" width="43.90" height="0.70" fill="#97b1cd"/>
<rect x="71.20" y="600.90" width="43.90" height="0.90" fill="#acc5d7"/>
<rect x="71.20" y="602.50" width="43.90" height="1.40" fill="#a3bbd1"/>
<rect x="71.20" y="605.20" width="43.90" height="0.50" fill="#e0ece8"/>
<rect x="71.20" y="607.90" width="43.90" height="0.90" fill="#a3bbd1"/>
<rect x="71.20" y="617.10" width="43.90" height="1.40" fill="#a3bbd1"/>
<rect x="71.20" y="618.90" width="43.90" height="1.40" fill="#acc5d7"/>
<rect x="71.20" y="621.00" width="43.90" height="0.50" fill="#d8e8e6"/>
<rect x="71.20" y="623.00" width="43.90" height="1.40" fill="#d8e8e6"/>
<rect x="71.20" y="624.80" width="43.90" height="0.90" fill="#acc5d7"/>
<rect x="71.20" y="626.40" width="43.90" height="1.40" fill="#d8e8e6"/>
<rect x="71.20" y="628.20" width="43.90" height="1.10" fill="#a3bbd1"/>
<rect x="71.20" y="630.60" width="43.90" height="0.50" fill="#97b1cd"/>
<rect x="71.20" y="631.80" width="43.90" height="1.40" fill="#d8e8e6"/>
<rect x="71.20" y="634.50" width="43.90" height="0.90" fill="#acc5d7"/>
<rect x="115.10" y="522.60" width="43.00" height="112.90" fill="#7fa3cd"/>
<rect x="115.10" y="527.40" width="43.00" height="1.10" fill="#8aaad2"/>
<rect x="115.10" y="531.00" width="43.00" height="0.50" fill="#9cb6d1"/>
<rect x="115.10" y="537.30" width="43.00" height="0.70" fill="#6a91c6"/>
<rect x="115.10" y="539.80" width="43.00" height="0.70" fill="#a9bfd2"/>
<rect x="115.10" y="540.90" width="43.00" height="1.40" fill="#8aaad2"/>
<rect x="115.10" y="544.10" width="43.00" height="0.70" fill="#8aaad2"/>
<rect x="115.10" y="545.50" width="43.00" height="1.40" fill="#6a91c6"/>
<rect x="115.10" y="547.30" width="43.00" height="1.10" fill="#9cb6d1"/>
<rect x="115.10" y="550.50" width="43.00" height="1.10" fill="#a9bfd2"/>
<rect x="115.10" y="552.00" width="43.00" height="1.40" fill="#9cb6d1"/>
<rect x="115.10" y="554.10" width="43.00" height="1.40" fill="#9cb6d1"/>
<rect x="115.10" y="556.80" width="43.00" height="0.70" fill="#6a91c6"/>
<rect x="115.10" y="558.80" width="43.00" height="1.40" fill="#8aaad2"/>
<rect x="115.10" y="560.60" width="43.00" height="0.70" fill="#9cb6d1"/>
<rect x="115.10" y="563.50" width="43.00" height="0.90" fill="#a9bfd2"/>
<rect x="115.10" y="566.20" width="43.00" height="0.90" fill="#8aaad2"/>
<rect x="115.10" y="568.90" width="43.00" height="0.70" fill="#8aaad2"/>
<rect x="115.10" y="570.90" width="43.00" height="1.40" fill="#6a91c6"/>
<rect x="115.10" y="575.40" width="43.00" height="0.70" fill="#a9bfd2"/>
<rect x="115.10" y="576.80" width="43.00" height="1.10" fill="#6a91c6"/>
<rect x="115.10" y="578.60" width="43.00" height="0.90" fill="#6a91c6"/>
<rect x="115.10" y="580.80" width="43.00" height="1.40" fill="#6a91c6"/>
<rect x="115.10" y="582.60" width="43.00" height="0.70" fill="#8aaad2"/>
<rect x="115.10" y="585.10" width="43.00" height="0.50" fill="#a9bfd2"/>
<rect x="115.10" y="588.60" width="43.00" height="0.50" fill="#a9bfd2"/>
<rect x="115.10" y="590.10" width="43.00" height="0.70" fill="#9cb6d1"/>
<rect x="115.10" y="591.20" width="43.00" height="0.90" fill="#8aaad2"/>
<rect x="115.10" y="594.70" width="43.00" height="1.10" fill="#a9bfd2"/>
<rect x="115.10" y="596.50" width="43.00" height="1.40" fill="#9cb6d1"/>
<rect x="115.10" y="598.90" width="43.00" height="0.90" fill="#9cb6d1"/>
<rect x="115.10" y="601.10" width="43.00" height="0.70" fill="#8aaad2"/>
<rect x="115.10" y="602.80" width="43.00" height="1.10" fill="#8aaad2"/>
<rect x="115.10" y="604.30" width="43.00" height="1.40" fill="#8aaad2"/>
<rect x="115.10" y="607.00" width="43.00" height="1.40" fill="#6a91c6"/>
<rect x="115.10" y="609.40" width="43.00" height="1.40" fill="#a9bfd2"/>
<rect x="115.10" y="611.80" width="43.00" height="0.90" fill="#8aaad2"/>
<rect x="115.10" y="614.50" width="43.00" height="0.70" fill="#6a91c6"/>
<rect x="115.10" y="616.50" width="43.00" height="0.70" fill="#6a91c6"/>
<rect x="115.10" y="618.20" width="43.00" height="1.40" fill="#8aaad2"/>
<rect x="115.10" y="620.00" width="43.00" height="0.50" fill="#8aaad2"/>
<rect x="115.10" y="622.30" width="43.00" height="1.10" fill="#8aaad2"/>
<rect x="115.10" y="623.80" width="43.00" height="0.70" fill="#6a91c6"/>
<rect x="115.10" y="624.90" width="43.00" height="0.50" fill="#8aaad2"/>
<rect x="115.10" y="626.40" width="43.00" height="0.50" fill="#9cb6d1"/>
<rect x="115.10" y="628.20" width="43.00" height="1.40" fill="#9cb6d1"/>
<rect x="115.10" y="630.30" width="43.00" height="0.90" fill="#a9bfd2"/>
<rect x="115.10" y="631.90" width="43.00" height="0.70" fill="#9cb6d1"/>
<rect x="115.10" y="633.30" width="43.00" height="1.10" fill="#9cb6d1"/>
<rect x="27.80" y="635.50" width="43.40" height="55.40" fill="#8d9cc5"/>
<rect x="27.80" y="635.50" width="43.40" height="0.50" fill="#98a6c9"/>
<rect x="27.80" y="637.00" width="43.40" height="1.40" fill="#6f83bd"/>
<rect x="27.80" y="640.20" width="43.40" height="1.40" fill="#a4adc3"/>
<rect x="27.80" y="642.30" width="43.40" height="0.50" fill="#98a6c9"/>
<rect x="27.80" y="643.20" width="43.40" height="1.10" fill="#a4adc3"/>
<rect x="27.80" y="644.70" width="43.40" height="0.50" fill="#98a6c9"/>
<rect x="27.80" y="645.90" width="43.40" height="0.70" fill="#98a6c9"/>
<rect x="27.80" y="648.40" width="43.40" height="1.40" fill="#6f83bd"/>
<rect x="27.80" y="651.60" width="43.40" height="0.70" fill="#7a8cc0"/>
<rect x="27.80" y="655.10" width="43.40" height="1.40" fill="#6f83bd"/>
<rect x="27.80" y="657.80" width="43.40" height="0.50" fill="#6f83bd"/>
<rect x="27.80" y="660.70" width="43.40" height="0.70" fill="#7a8cc0"/>
<rect x="27.80" y="662.40" width="43.40" height="0.90" fill="#cfd2c6"/>
<rect x="27.80" y="665.10" width="43.40" height="1.10" fill="#98a6c9"/>
<rect x="27.80" y="667.20" width="43.40" height="0.90" fill="#a4adc3"/>
<rect x="27.80" y="668.50" width="43.40" height="1.40" fill="#cfd2c6"/>
<rect x="27.80" y="674.00" width="43.40" height="1.40" fill="#98a6c9"/>
<rect x="27.80" y="678.20" width="43.40" height="0.50" fill="#a4adc3"/>
<rect x="27.80" y="682.70" width="43.40" height="1.40" fill="#98a6c9"/>
<rect x="27.80" y="684.80" width="43.40" height="0.70" fill="#7a8cc0"/>
<rect x="27.80" y="688.30" width="43.40" height="0.70" fill="#7a8cc0"/>
<rect x="27.80" y="689.40" width="43.40" height="0.70" fill="#7a8cc0"/>
<rect x="27.80" y="690.50" width="43.40" height="0.40" fill="#98a6c9"/>
<rect x="71.20" y="635.50" width="43.90" height="55.40" fill="#d83131"/>
<rect x="71.20" y="639.80" width="43.90" height="0.50" fill="#d22b2f"/>
<rect x="71.20" y="640.70" width="43.90" height="0.50" fill="#d22b2f"/>
<rect x="71.20" y="642.20" width="43.90" height="1.10" fill="#d22b2f"/>
<rect x="71.20" y="646.20" width="43.90" height="0.90" fill="#dc3a33"/>
<rect x="71.20" y="663.50" width="43.90" height="1.10" fill="#d22b2f"/>
<rect x="71.20" y="665.60" width="43.90" height="0.50" fill="#dc3a33"/>
<rect x="71.20" y="674.40" width="43.90" height="1.10" fill="#d22b2f"/>
<rect x="71.20" y="679.20" width="43.90" height="0.90" fill="#dc3a33"/>
<rect x="71.20" y="682.00" width="43.90" height="0.90" fill="#dc3a33"/>
<rect x="115.10" y="635.50" width="43.00" height="55.40" fill="#b7bec2"/>
<rect x="115.10" y="635.50" width="43.00" height="0.50" fill="#a6b2c6"/>
<rect x="115.10" y="639.80" width="43.00" height="1.40" fill="#c8cbc5"/>
<rect x="115.10" y="642.50" width="43.00" height="1.10" fill="#a6b2c6"/>
<rect x="115.10" y="645.40" width="43.00" height="0.70" fill="#d0d1c8"/>
<rect x="115.10" y="646.80" width="43.00" height="1.40" fill="#a6b2c6"/>
<rect x="115.10" y="650.00" width="43.00" height="0.70" fill="#c8cbc5"/>
<rect x="115.10" y="651.70" width="43.00" height="1.40" fill="#c8cbc5"/>
<rect x="115.10" y="655.70" width="43.00" height="0.50" fill="#8d9fc8"/>
<rect x="115.10" y="656.90" width="43.00" height="1.10" fill="#c8cbc5"/>
<rect x="115.10" y="659.00" width="43.00" height="0.90" fill="#c8cbc5"/>
<rect x="115.10" y="660.30" width="43.00" height="0.50" fill="#d0d1c8"/>
<rect x="115.10" y="662.10" width="43.00" height="0.50" fill="#d0d1c8"/>
<rect x="115.10" y="665.70" width="43.00" height="1.10" fill="#a6b2c6"/>
<rect x="115.10" y="668.60" width="43.00" height="1.10" fill="#c8cbc5"/>
<rect x="115.10" y="671.00" width="43.00" height="1.40" fill="#d0d1c8"/>
<rect x="115.10" y="675.20" width="43.00" height="0.50" fill="#a6b2c6"/>
<rect x="115.10" y="677.90" width="43.00" height="1.10" fill="#c8cbc5"/>
<rect x="115.10" y="680.00" width="43.00" height="1.10" fill="#8d9fc8"/>
<rect x="115.10" y="682.90" width="43.00" height="1.10" fill="#c8cbc5"/>
<rect x="115.10" y="685.00" width="43.00" height="0.50" fill="#d0d1c8"/>
<rect x="115.10" y="685.90" width="43.00" height="0.50" fill="#c8cbc5"/>
<rect x="115.10" y="687.10" width="43.00" height="0.70" fill="#8d9fc8"/>
<rect x="115.10" y="689.60" width="43.00" height="1.10" fill="#d0d1c8"/>
<text x="49.60" y="413.60" font-size="10" text-anchor="middle" fill="#222" textLength="26.40" lengthAdjust="spacingAndGlyphs" stroke="#222" stroke-width="0.16">Day 3</text>
<text x="93.30" y="413.60" font-size="10" text-anchor="middle" fill="#222" textLength="26.40" lengthAdjust="spacingAndGlyphs" stroke="#222" stroke-width="0.16">Day 5</text>
<text x="137.00" y="413.60" font-size="10" text-anchor="middle" fill="#222" textLength="26.40" lengthAdjust="spacingAndGlyphs" stroke="#222" stroke-width="0.16">Day 7</text>
<rect x="164.80" y="417.90" width="2.20" height="48.00" fill="#9a9a9a"/>
<rect x="159.70" y="467.90" width="2.30" height="54.00" fill="#111"/>
<rect x="164.80" y="524.00" width="2.20" height="110.80" fill="#9a9a9a"/>
<rect x="159.60" y="636.50" width="2.30" height="52.90" fill="#111"/>
<text x="171.80" y="444.10" font-size="10" text-anchor="start" fill="#222" textLength="35.90" lengthAdjust="spacingAndGlyphs" stroke="#222" stroke-width="0.16">Mid-late</text>
<text x="166.70" y="497.40" font-size="10" text-anchor="start" fill="#222" textLength="19.30" lengthAdjust="spacingAndGlyphs" stroke="#222" stroke-width="0.16">Late</text>
<text x="171.50" y="580.20" font-size="10" text-anchor="start" fill="#222" textLength="19.00" lengthAdjust="spacingAndGlyphs" stroke="#222" stroke-width="0.16">Lost</text>
<text x="167.30" y="668.20" font-size="10" text-anchor="start" fill="#222" textLength="41.60" lengthAdjust="spacingAndGlyphs" stroke="#222" stroke-width="0.16">Transient</text>
<text x="228.20" y="647.90" font-size="8.8" text-anchor="middle" fill="#2a2a2a" textLength="28.00" lengthAdjust="spacingAndGlyphs" stroke="#2a2a2a" stroke-width="0.16">z-score</text>
<defs><linearGradient id="zg" x1="0" y1="0" x2="0" y2="1"><stop offset="0" stop-color="#b2182b"/><stop offset="0.12" stop-color="#d6322b"/><stop offset="0.3" stop-color="#f4a05a"/><stop offset="0.45" stop-color="#fde8a8"/><stop offset="0.52" stop-color="#f5f5ee"/><stop offset="0.62" stop-color="#c6e2ee"/><stop offset="0.78" stop-color="#5e9bc9"/><stop offset="0.9" stop-color="#2f6eb0"/><stop offset="1" stop-color="#233f8c"/></linearGradient></defs>
<rect x="218.00" y="651.60" width="9.80" height="40.10" fill="url(#zg)"/>
<line x1="225.50" y1="655.20" x2="227.80" y2="655.20" stroke="#eee" stroke-width="0.6"/>
<line x1="227.80" y1="655.20" x2="229.80" y2="655.20" stroke="#444" stroke-width="0.6"/>
<text x="233.00" y="658.00" font-size="7.8" text-anchor="start" fill="#333" stroke="#333" stroke-width="0.16">1</text>
<line x1="225.50" y1="672.10" x2="227.80" y2="672.10" stroke="#eee" stroke-width="0.6"/>
<line x1="227.80" y1="672.10" x2="229.80" y2="672.10" stroke="#444" stroke-width="0.6"/>
<text x="233.00" y="674.90" font-size="7.8" text-anchor="start" fill="#333" stroke="#333" stroke-width="0.16">0</text>
<line x1="225.50" y1="689.00" x2="227.80" y2="689.00" stroke="#eee" stroke-width="0.6"/>
<line x1="227.80" y1="689.00" x2="229.80" y2="689.00" stroke="#444" stroke-width="0.6"/>
<text x="230.20" y="691.80" font-size="7.8" text-anchor="start" fill="#333" stroke="#333" stroke-width="0.16">−1</text>
<text x="94.90" y="703.20" font-size="8.9" text-anchor="middle" fill="#2a2a2a" textLength="53.00" lengthAdjust="spacingAndGlyphs" stroke="#2a2a2a" stroke-width="0.16">46,109 peaks</text>
<text x="256.00" y="414.00" font-size="10.5" text-anchor="start" fill="#111" font-weight="bold">c</text>
<line x1="300.30" y1="425.30" x2="474.00" y2="425.30" stroke="#555" stroke-width="1.3"/>
<line x1="300.30" y1="454.80" x2="474.00" y2="454.80" stroke="#555" stroke-width="1.3"/>
<text x="340.20" y="418.30" font-size="10" text-anchor="start" fill="#222" textLength="102.20" lengthAdjust="spacingAndGlyphs" stroke="#222" stroke-width="0.16">Mid-late cluster (8436)</text>
<text x="295.70" y="428.70" font-size="9.5" text-anchor="middle" fill="#333" stroke="#333" stroke-width="0.16">4</text>
<text x="295.70" y="458.20" font-size="9.5" text-anchor="middle" fill="#333" stroke="#333" stroke-width="0.16">2</text>
<text x="295.70" y="487.70" font-size="9.5" text-anchor="middle" fill="#333" stroke="#333" stroke-width="0.16">0</text>
<text x="290.00" y="454.20" font-size="8.4" text-anchor="middle" fill="#333" textLength="51.50" lengthAdjust="spacingAndGlyphs" transform="rotate(-90 290.00 454.20)" stroke="#333" stroke-width="0.16">log2(CPM + 1)</text>
<text x="301.10" y="493.10" font-size="9.0" text-anchor="start" fill="#222" textLength="15.20" lengthAdjust="spacingAndGlyphs" stroke="#222" stroke-width="0.16">Day</text>
<text x="329.40" y="493.10" font-size="9.0" text-anchor="middle" fill="#222" stroke="#222" stroke-width="0.16">3</text>
<text x="387.20" y="493.10" font-size="9.0" text-anchor="middle" fill="#222" stroke="#222" stroke-width="0.16">5</text>
<text x="444.90" y="493.10" font-size="9.0" text-anchor="middle" fill="#222" stroke="#222" stroke-width="0.16">7</text>
<line x1="313.80" y1="448.60" x2="313.80" y2="484.30" stroke="#8a8a8a" stroke-width="1.1"/>
<line x1="313.80" y1="422.20" x2="313.80" y2="448.60" stroke="#707070" stroke-width="2.9"/>
<line x1="309.80" y1="448.60" x2="317.80" y2="448.60" stroke="#777" stroke-width="1.1"/>
<line x1="329.20" y1="446.00" x2="329.20" y2="484.30" stroke="#8a8a8a" stroke-width="1.1"/>
<line x1="329.20" y1="422.20" x2="329.20" y2="446.00" stroke="#707070" stroke-width="2.9"/>
<line x1="325.20" y1="446.00" x2="333.20" y2="446.00" stroke="#777" stroke-width="1.1"/>
<line x1="344.60" y1="443.00" x2="344.60" y2="484.30" stroke="#8a8a8a" stroke-width="1.1"/>
<line x1="344.60" y1="422.20" x2="344.60" y2="443.00" stroke="#707070" stroke-width="2.9"/>
<line x1="340.60" y1="443.00" x2="348.60" y2="443.00" stroke="#777" stroke-width="1.1"/>
<line x1="371.60" y1="431.10" x2="371.60" y2="474.20" stroke="#8a8a8a" stroke-width="1.1"/>
<line x1="371.60" y1="422.20" x2="371.60" y2="431.10" stroke="#707070" stroke-width="2.9"/>
<line x1="367.60" y1="431.10" x2="375.60" y2="431.10" stroke="#777" stroke-width="1.1"/>
<line x1="367.60" y1="474.20" x2="375.60" y2="474.20" stroke="#777" stroke-width="1.1"/>
<line x1="387.00" y1="433.50" x2="387.00" y2="484.30" stroke="#8a8a8a" stroke-width="1.1"/>
<line x1="387.00" y1="422.20" x2="387.00" y2="433.50" stroke="#707070" stroke-width="2.9"/>
<line x1="383.00" y1="433.50" x2="391.00" y2="433.50" stroke="#777" stroke-width="1.1"/>
<line x1="402.40" y1="437.50" x2="402.40" y2="484.30" stroke="#8a8a8a" stroke-width="1.1"/>
<line x1="402.40" y1="422.20" x2="402.40" y2="437.50" stroke="#707070" stroke-width="2.9"/>
<line x1="398.40" y1="437.50" x2="406.40" y2="437.50" stroke="#777" stroke-width="1.1"/>
<line x1="429.30" y1="427.20" x2="429.30" y2="470.50" stroke="#8a8a8a" stroke-width="1.1"/>
<line x1="429.30" y1="422.20" x2="429.30" y2="427.20" stroke="#707070" stroke-width="2.9"/>
<line x1="425.30" y1="427.20" x2="433.30" y2="427.20" stroke="#777" stroke-width="1.1"/>
<line x1="425.30" y1="470.50" x2="433.30" y2="470.50" stroke="#777" stroke-width="1.1"/>
<line x1="444.70" y1="431.10" x2="444.70" y2="484.30" stroke="#8a8a8a" stroke-width="1.1"/>
<line x1="444.70" y1="422.20" x2="444.70" y2="431.10" stroke="#707070" stroke-width="2.9"/>
<line x1="440.70" y1="431.10" x2="448.70" y2="431.10" stroke="#777" stroke-width="1.1"/>
<line x1="460.10" y1="434.10" x2="460.10" y2="484.30" stroke="#8a8a8a" stroke-width="1.1"/>
<line x1="460.10" y1="422.20" x2="460.10" y2="434.10" stroke="#707070" stroke-width="2.9"/>
<line x1="456.10" y1="434.10" x2="464.10" y2="434.10" stroke="#777" stroke-width="1.1"/>
<line x1="300.30" y1="484.30" x2="474.00" y2="484.30" stroke="#555" stroke-width="1.3"/>
<rect x="306.10" y="464.20" width="15.40" height="11.30" fill="#4c72b0" stroke="#4a4a4a" stroke-width="0.8"/>
<rect x="321.50" y="463.90" width="15.40" height="12.50" fill="#dd8452" stroke="#4a4a4a" stroke-width="0.8"/>
<line x1="321.50" y1="471.20" x2="336.90" y2="471.20" stroke="#4a4a4a" stroke-width="0.9"/>
<rect x="336.90" y="462.00" width="15.40" height="13.50" fill="#55a868" stroke="#4a4a4a" stroke-width="0.8"/>
<line x1="336.90" y1="469.40" x2="352.30" y2="469.40" stroke="#4a4a4a" stroke-width="0.9"/>
<rect x="363.90" y="452.10" width="15.40" height="14.00" fill="#4c72b0" stroke="#4a4a4a" stroke-width="0.8"/>
<rect x="379.30" y="455.40" width="15.40" height="13.60" fill="#dd8452" stroke="#4a4a4a" stroke-width="0.8"/>
<line x1="379.30" y1="463.40" x2="394.70" y2="463.40" stroke="#4a4a4a" stroke-width="0.9"/>
<rect x="394.70" y="457.60" width="15.40" height="14.10" fill="#55a868" stroke="#4a4a4a" stroke-width="0.8"/>
<line x1="394.70" y1="466.10" x2="410.10" y2="466.10" stroke="#4a4a4a" stroke-width="0.9"/>
<rect x="421.60" y="449.20" width="15.40" height="15.10" fill="#4c72b0" stroke="#4a4a4a" stroke-width="0.8"/>
<rect x="437.00" y="454.30" width="15.40" height="15.00" fill="#dd8452" stroke="#4a4a4a" stroke-width="0.8"/>
<line x1="437.00" y1="463.20" x2="452.40" y2="463.20" stroke="#4a4a4a" stroke-width="0.9"/>
<rect x="452.40" y="457.60" width="15.40" height="15.80" fill="#55a868" stroke="#4a4a4a" stroke-width="0.8"/>
<line x1="452.40" y1="466.40" x2="467.80" y2="466.40" stroke="#4a4a4a" stroke-width="0.9"/>
<line x1="524.80" y1="425.00" x2="698.50" y2="425.00" stroke="#555" stroke-width="1.3"/>
<line x1="524.80" y1="454.45" x2="698.50" y2="454.45" stroke="#555" stroke-width="1.3"/>
<text x="569.30" y="418.50" font-size="10" text-anchor="start" fill="#222" textLength="91.60" lengthAdjust="spacingAndGlyphs" stroke="#222" stroke-width="0.16">Lost cluster (19015)</text>
<text x="520.20" y="428.40" font-size="9.5" text-anchor="middle" fill="#333" stroke="#333" stroke-width="0.16">4</text>
<text x="520.20" y="457.85" font-size="9.5" text-anchor="middle" fill="#333" stroke="#333" stroke-width="0.16">2</text>
<text x="520.20" y="487.30" font-size="9.5" text-anchor="middle" fill="#333" stroke="#333" stroke-width="0.16">0</text>
<text x="514.50" y="453.85" font-size="8.4" text-anchor="middle" fill="#333" textLength="51.50" lengthAdjust="spacingAndGlyphs" transform="rotate(-90 514.50 453.85)" stroke="#333" stroke-width="0.16">log2(CPM + 1)</text>
<text x="527.40" y="493.50" font-size="9.0" text-anchor="start" fill="#222" textLength="15.20" lengthAdjust="spacingAndGlyphs" stroke="#222" stroke-width="0.16">Day</text>
<text x="553.90" y="493.50" font-size="9.0" text-anchor="middle" fill="#222" stroke="#222" stroke-width="0.16">3</text>
<text x="611.70" y="493.50" font-size="9.0" text-anchor="middle" fill="#222" stroke="#222" stroke-width="0.16">5</text>
<text x="669.40" y="493.50" font-size="9.0" text-anchor="middle" fill="#222" stroke="#222" stroke-width="0.16">7</text>
<line x1="538.30" y1="423.90" x2="538.30" y2="470.60" stroke="#8a8a8a" stroke-width="1.1"/>
<line x1="534.30" y1="423.90" x2="542.30" y2="423.90" stroke="#777" stroke-width="1.1"/>
<line x1="534.30" y1="470.60" x2="542.30" y2="470.60" stroke="#777" stroke-width="1.1"/>
<line x1="553.70" y1="423.90" x2="553.70" y2="483.90" stroke="#8a8a8a" stroke-width="1.1"/>
<line x1="549.70" y1="423.90" x2="557.70" y2="423.90" stroke="#777" stroke-width="1.1"/>
<line x1="569.10" y1="423.90" x2="569.10" y2="483.90" stroke="#8a8a8a" stroke-width="1.1"/>
<line x1="565.10" y1="423.90" x2="573.10" y2="423.90" stroke="#777" stroke-width="1.1"/>
<line x1="596.10" y1="435.70" x2="596.10" y2="483.90" stroke="#8a8a8a" stroke-width="1.1"/>
<line x1="596.10" y1="422.00" x2="596.10" y2="435.70" stroke="#707070" stroke-width="2.9"/>
<line x1="592.10" y1="435.70" x2="600.10" y2="435.70" stroke="#777" stroke-width="1.1"/>
<line x1="611.50" y1="435.70" x2="611.50" y2="483.90" stroke="#8a8a8a" stroke-width="1.1"/>
<line x1="611.50" y1="422.00" x2="611.50" y2="435.70" stroke="#707070" stroke-width="2.9"/>
<line x1="607.50" y1="435.70" x2="615.50" y2="435.70" stroke="#777" stroke-width="1.1"/>
<line x1="626.90" y1="430.30" x2="626.90" y2="483.90" stroke="#8a8a8a" stroke-width="1.1"/>
<line x1="626.90" y1="422.00" x2="626.90" y2="430.30" stroke="#707070" stroke-width="2.9"/>
<line x1="622.90" y1="430.30" x2="630.90" y2="430.30" stroke="#777" stroke-width="1.1"/>
<line x1="653.80" y1="441.10" x2="653.80" y2="483.90" stroke="#8a8a8a" stroke-width="1.1"/>
<line x1="653.80" y1="422.00" x2="653.80" y2="441.10" stroke="#707070" stroke-width="2.9"/>
<line x1="649.80" y1="441.10" x2="657.80" y2="441.10" stroke="#777" stroke-width="1.1"/>
<line x1="669.20" y1="435.70" x2="669.20" y2="483.90" stroke="#8a8a8a" stroke-width="1.1"/>
<line x1="669.20" y1="422.00" x2="669.20" y2="435.70" stroke="#707070" stroke-width="2.9"/>
<line x1="665.20" y1="435.70" x2="673.20" y2="435.70" stroke="#777" stroke-width="1.1"/>
<line x1="684.60" y1="430.30" x2="684.60" y2="483.90" stroke="#8a8a8a" stroke-width="1.1"/>
<line x1="684.60" y1="422.00" x2="684.60" y2="430.30" stroke="#707070" stroke-width="2.9"/>
<line x1="680.60" y1="430.30" x2="688.60" y2="430.30" stroke="#777" stroke-width="1.1"/>
<line x1="524.80" y1="483.90" x2="698.50" y2="483.90" stroke="#555" stroke-width="1.3"/>
<rect x="530.60" y="449.00" width="15.40" height="17.30" fill="#4c72b0" stroke="#4a4a4a" stroke-width="0.8"/>
<rect x="546.00" y="450.80" width="15.40" height="18.70" fill="#dd8452" stroke="#4a4a4a" stroke-width="0.8"/>
<line x1="546.00" y1="461.60" x2="561.40" y2="461.60" stroke="#4a4a4a" stroke-width="0.9"/>
<rect x="561.40" y="451.20" width="15.40" height="18.70" fill="#55a868" stroke="#4a4a4a" stroke-width="0.8"/>
<line x1="561.40" y1="462.30" x2="576.80" y2="462.30" stroke="#4a4a4a" stroke-width="0.9"/>
<rect x="588.40" y="458.70" width="15.40" height="15.50" fill="#4c72b0" stroke="#4a4a4a" stroke-width="0.8"/>
<line x1="588.40" y1="466.30" x2="603.80" y2="466.30" stroke="#4f6a98" stroke-width="0.9"/>
<rect x="603.80" y="458.00" width="15.40" height="15.10" fill="#dd8452" stroke="#4a4a4a" stroke-width="0.8"/>
<line x1="603.80" y1="467.00" x2="619.20" y2="467.00" stroke="#4a4a4a" stroke-width="0.9"/>
<rect x="619.20" y="455.10" width="15.40" height="17.30" fill="#55a868" stroke="#4a4a4a" stroke-width="0.8"/>
<line x1="619.20" y1="465.20" x2="634.60" y2="465.20" stroke="#4a4a4a" stroke-width="0.9"/>
<rect x="646.10" y="462.30" width="15.40" height="13.70" fill="#4c72b0" stroke="#4a4a4a" stroke-width="0.8"/>
<line x1="646.10" y1="469.50" x2="661.50" y2="469.50" stroke="#4f6a98" stroke-width="0.9"/>
<rect x="661.50" y="458.00" width="15.40" height="15.40" fill="#dd8452" stroke="#4a4a4a" stroke-width="0.8"/>
<line x1="661.50" y1="468.00" x2="676.90" y2="468.00" stroke="#4a4a4a" stroke-width="0.9"/>
<rect x="676.90" y="456.20" width="15.40" height="17.20" fill="#55a868" stroke="#4a4a4a" stroke-width="0.8"/>
<line x1="676.90" y1="466.30" x2="692.30" y2="466.30" stroke="#4a4a4a" stroke-width="0.9"/>
<line x1="300.30" y1="536.30" x2="474.00" y2="536.30" stroke="#555" stroke-width="1.3"/>
<line x1="300.30" y1="566.30" x2="474.00" y2="566.30" stroke="#555" stroke-width="1.3"/>
<line x1="300.30" y1="515.00" x2="300.30" y2="600.50" stroke="#555" stroke-width="1.2"/>
<text x="347.00" y="530.70" font-size="10" text-anchor="start" fill="#222" textLength="86.00" lengthAdjust="spacingAndGlyphs" stroke="#222" stroke-width="0.16">Late cluster (9383)</text>
<text x="295.70" y="539.70" font-size="9.5" text-anchor="middle" fill="#333" stroke="#333" stroke-width="0.16">4</text>
<text x="295.70" y="569.70" font-size="9.5" text-anchor="middle" fill="#333" stroke="#333" stroke-width="0.16">2</text>
<text x="295.70" y="599.70" font-size="9.5" text-anchor="middle" fill="#333" stroke="#333" stroke-width="0.16">0</text>
<text x="290.00" y="565.70" font-size="8.4" text-anchor="middle" fill="#333" textLength="51.50" lengthAdjust="spacingAndGlyphs" transform="rotate(-90 290.00 565.70)" stroke="#333" stroke-width="0.16">log2(CPM + 1)</text>
<text x="301.80" y="606.30" font-size="9.0" text-anchor="start" fill="#222" textLength="15.20" lengthAdjust="spacingAndGlyphs" stroke="#222" stroke-width="0.16">Day</text>
<text x="329.40" y="606.30" font-size="9.0" text-anchor="middle" fill="#222" stroke="#222" stroke-width="0.16">3</text>
<text x="387.20" y="606.30" font-size="9.0" text-anchor="middle" fill="#222" stroke="#222" stroke-width="0.16">5</text>
<text x="444.90" y="606.30" font-size="9.0" text-anchor="middle" fill="#222" stroke="#222" stroke-width="0.16">7</text>
<line x1="313.80" y1="566.00" x2="313.80" y2="596.30" stroke="#8a8a8a" stroke-width="1.1"/>
<line x1="313.80" y1="533.60" x2="313.80" y2="566.00" stroke="#707070" stroke-width="2.9"/>
<line x1="309.80" y1="566.00" x2="317.80" y2="566.00" stroke="#777" stroke-width="1.1"/>
<line x1="329.20" y1="561.20" x2="329.20" y2="596.30" stroke="#8a8a8a" stroke-width="1.1"/>
<line x1="329.20" y1="533.60" x2="329.20" y2="561.20" stroke="#707070" stroke-width="2.9"/>
<line x1="325.20" y1="561.20" x2="333.20" y2="561.20" stroke="#777" stroke-width="1.1"/>
<line x1="344.60" y1="564.50" x2="344.60" y2="596.30" stroke="#8a8a8a" stroke-width="1.1"/>
<line x1="344.60" y1="533.60" x2="344.60" y2="564.50" stroke="#707070" stroke-width="2.9"/>
<line x1="340.60" y1="564.50" x2="348.60" y2="564.50" stroke="#777" stroke-width="1.1"/>
<line x1="371.60" y1="565.30" x2="371.60" y2="596.30" stroke="#8a8a8a" stroke-width="1.1"/>
<line x1="371.60" y1="533.60" x2="371.60" y2="565.30" stroke="#707070" stroke-width="2.9"/>
<line x1="367.60" y1="565.30" x2="375.60" y2="565.30" stroke="#777" stroke-width="1.1"/>
<line x1="387.00" y1="554.40" x2="387.00" y2="596.30" stroke="#8a8a8a" stroke-width="1.1"/>
<line x1="387.00" y1="533.60" x2="387.00" y2="554.40" stroke="#707070" stroke-width="2.9"/>
<line x1="383.00" y1="554.40" x2="391.00" y2="554.40" stroke="#777" stroke-width="1.1"/>
<line x1="402.40" y1="559.30" x2="402.40" y2="596.30" stroke="#8a8a8a" stroke-width="1.1"/>
<line x1="402.40" y1="533.60" x2="402.40" y2="559.30" stroke="#707070" stroke-width="2.9"/>
<line x1="398.40" y1="559.30" x2="406.40" y2="559.30" stroke="#777" stroke-width="1.1"/>
<line x1="429.30" y1="552.50" x2="429.30" y2="582.80" stroke="#8a8a8a" stroke-width="1.1"/>
<line x1="429.30" y1="533.60" x2="429.30" y2="552.50" stroke="#707070" stroke-width="2.9"/>
<line x1="425.30" y1="552.50" x2="433.30" y2="552.50" stroke="#777" stroke-width="1.1"/>
<line x1="425.30" y1="582.80" x2="433.30" y2="582.80" stroke="#777" stroke-width="1.1"/>
<line x1="444.70" y1="554.40" x2="444.70" y2="596.30" stroke="#8a8a8a" stroke-width="1.1"/>
<line x1="444.70" y1="533.60" x2="444.70" y2="554.40" stroke="#707070" stroke-width="2.9"/>
<line x1="440.70" y1="554.40" x2="448.70" y2="554.40" stroke="#777" stroke-width="1.1"/>
<line x1="460.10" y1="558.90" x2="460.10" y2="596.30" stroke="#8a8a8a" stroke-width="1.1"/>
<line x1="460.10" y1="533.60" x2="460.10" y2="558.90" stroke="#707070" stroke-width="2.9"/>
<line x1="456.10" y1="558.90" x2="464.10" y2="558.90" stroke="#777" stroke-width="1.1"/>
<line x1="300.30" y1="596.30" x2="474.00" y2="596.30" stroke="#555" stroke-width="1.3"/>
<rect x="306.10" y="578.90" width="15.40" height="8.60" fill="#4c72b0" stroke="#4a4a4a" stroke-width="0.8"/>
<rect x="321.50" y="578.40" width="15.40" height="11.30" fill="#dd8452" stroke="#4a4a4a" stroke-width="0.8"/>
<line x1="321.50" y1="584.30" x2="336.90" y2="584.30" stroke="#4a4a4a" stroke-width="0.9"/>
<rect x="336.90" y="578.40" width="15.40" height="10.00" fill="#55a868" stroke="#4a4a4a" stroke-width="0.8"/>
<line x1="336.90" y1="584.00" x2="352.30" y2="584.00" stroke="#4a4a4a" stroke-width="0.9"/>
<rect x="363.90" y="578.00" width="15.40" height="8.50" fill="#4c72b0" stroke="#4a4a4a" stroke-width="0.8"/>
<rect x="379.30" y="573.20" width="15.40" height="12.20" fill="#dd8452" stroke="#4a4a4a" stroke-width="0.8"/>
<line x1="379.30" y1="579.30" x2="394.70" y2="579.30" stroke="#4a4a4a" stroke-width="0.9"/>
<rect x="394.70" y="576.40" width="15.40" height="11.20" fill="#55a868" stroke="#4a4a4a" stroke-width="0.8"/>
<line x1="394.70" y1="582.20" x2="410.10" y2="582.20" stroke="#4a4a4a" stroke-width="0.9"/>
<rect x="421.60" y="567.70" width="15.40" height="10.80" fill="#4c72b0" stroke="#4a4a4a" stroke-width="0.8"/>
<rect x="437.00" y="572.40" width="15.40" height="13.00" fill="#dd8452" stroke="#4a4a4a" stroke-width="0.8"/>
<line x1="437.00" y1="580.40" x2="452.40" y2="580.40" stroke="#4a4a4a" stroke-width="0.9"/>
<rect x="452.40" y="576.10" width="15.40" height="11.50" fill="#55a868" stroke="#4a4a4a" stroke-width="0.8"/>
<line x1="452.40" y1="583.00" x2="467.80" y2="583.00" stroke="#4a4a4a" stroke-width="0.9"/>
<line x1="524.80" y1="536.30" x2="698.50" y2="536.30" stroke="#555" stroke-width="1.3"/>
<line x1="524.80" y1="566.55" x2="698.50" y2="566.55" stroke="#555" stroke-width="1.3"/>
<line x1="524.80" y1="527.00" x2="524.80" y2="597.50" stroke="#555" stroke-width="1.2"/>
<text x="562.20" y="529.50" font-size="10" text-anchor="start" fill="#222" textLength="108.40" lengthAdjust="spacingAndGlyphs" stroke="#222" stroke-width="0.16">Transient cluster (9275)</text>
<text x="520.20" y="539.70" font-size="9.5" text-anchor="middle" fill="#333" stroke="#333" stroke-width="0.16">4</text>
<text x="520.20" y="569.95" font-size="9.5" text-anchor="middle" fill="#333" stroke="#333" stroke-width="0.16">2</text>
<text x="520.20" y="600.20" font-size="9.5" text-anchor="middle" fill="#333" stroke="#333" stroke-width="0.16">0</text>
<text x="514.50" y="565.95" font-size="8.4" text-anchor="middle" fill="#333" textLength="51.50" lengthAdjust="spacingAndGlyphs" transform="rotate(-90 514.50 565.95)" stroke="#333" stroke-width="0.16">log2(CPM + 1)</text>
<text x="530.60" y="606.80" font-size="9.0" text-anchor="start" fill="#222" textLength="15.20" lengthAdjust="spacingAndGlyphs" stroke="#222" stroke-width="0.16">Day</text>
<text x="553.90" y="606.80" font-size="9.0" text-anchor="middle" fill="#222" stroke="#222" stroke-width="0.16">3</text>
<text x="611.70" y="606.80" font-size="9.0" text-anchor="middle" fill="#222" stroke="#222" stroke-width="0.16">5</text>
<text x="669.40" y="606.80" font-size="9.0" text-anchor="middle" fill="#222" stroke="#222" stroke-width="0.16">7</text>
<line x1="538.30" y1="565.50" x2="538.30" y2="596.80" stroke="#8a8a8a" stroke-width="1.1"/>
<line x1="538.30" y1="539.50" x2="538.30" y2="565.50" stroke="#707070" stroke-width="2.9"/>
<line x1="534.30" y1="565.50" x2="542.30" y2="565.50" stroke="#777" stroke-width="1.1"/>
<line x1="553.70" y1="561.20" x2="553.70" y2="596.80" stroke="#8a8a8a" stroke-width="1.1"/>
<line x1="553.70" y1="533.60" x2="553.70" y2="561.20" stroke="#707070" stroke-width="2.9"/>
<line x1="549.70" y1="561.20" x2="557.70" y2="561.20" stroke="#777" stroke-width="1.1"/>
<line x1="569.10" y1="562.30" x2="569.10" y2="596.80" stroke="#8a8a8a" stroke-width="1.1"/>
<line x1="569.10" y1="540.20" x2="569.10" y2="562.30" stroke="#707070" stroke-width="2.9"/>
<line x1="565.10" y1="562.30" x2="573.10" y2="562.30" stroke="#777" stroke-width="1.1"/>
<line x1="596.10" y1="556.50" x2="596.10" y2="584.10" stroke="#8a8a8a" stroke-width="1.1"/>
<line x1="596.10" y1="533.60" x2="596.10" y2="556.50" stroke="#707070" stroke-width="2.9"/>
<line x1="592.10" y1="556.50" x2="600.10" y2="556.50" stroke="#777" stroke-width="1.1"/>
<line x1="592.10" y1="584.10" x2="600.10" y2="584.10" stroke="#777" stroke-width="1.1"/>
<line x1="611.50" y1="557.20" x2="611.50" y2="596.80" stroke="#8a8a8a" stroke-width="1.1"/>
<line x1="611.50" y1="533.60" x2="611.50" y2="557.20" stroke="#707070" stroke-width="2.9"/>
<line x1="607.50" y1="557.20" x2="615.50" y2="557.20" stroke="#777" stroke-width="1.1"/>
<line x1="626.90" y1="557.60" x2="626.90" y2="596.80" stroke="#8a8a8a" stroke-width="1.1"/>
<line x1="626.90" y1="533.60" x2="626.90" y2="557.60" stroke="#707070" stroke-width="2.9"/>
<line x1="622.90" y1="557.60" x2="630.90" y2="557.60" stroke="#777" stroke-width="1.1"/>
<line x1="653.80" y1="562.80" x2="653.80" y2="596.80" stroke="#8a8a8a" stroke-width="1.1"/>
<line x1="653.80" y1="533.60" x2="653.80" y2="562.80" stroke="#707070" stroke-width="2.9"/>
<line x1="649.80" y1="562.80" x2="657.80" y2="562.80" stroke="#777" stroke-width="1.1"/>
<line x1="669.20" y1="558.90" x2="669.20" y2="596.80" stroke="#8a8a8a" stroke-width="1.1"/>
<line x1="669.20" y1="533.60" x2="669.20" y2="558.90" stroke="#707070" stroke-width="2.9"/>
<line x1="665.20" y1="558.90" x2="673.20" y2="558.90" stroke="#777" stroke-width="1.1"/>
<line x1="684.60" y1="558.80" x2="684.60" y2="596.80" stroke="#8a8a8a" stroke-width="1.1"/>
<line x1="684.60" y1="533.60" x2="684.60" y2="558.80" stroke="#707070" stroke-width="2.9"/>
<line x1="680.60" y1="558.80" x2="688.60" y2="558.80" stroke="#777" stroke-width="1.1"/>
<line x1="524.80" y1="596.80" x2="698.50" y2="596.80" stroke="#555" stroke-width="1.3"/>
<rect x="530.60" y="579.20" width="15.40" height="8.80" fill="#4c72b0" stroke="#4a4a4a" stroke-width="0.8"/>
<rect x="546.00" y="578.00" width="15.40" height="11.90" fill="#dd8452" stroke="#4a4a4a" stroke-width="0.8"/>
<line x1="546.00" y1="584.30" x2="561.40" y2="584.30" stroke="#4a4a4a" stroke-width="0.9"/>
<rect x="561.40" y="577.00" width="15.40" height="10.70" fill="#55a868" stroke="#4a4a4a" stroke-width="0.8"/>
<line x1="561.40" y1="582.80" x2="576.80" y2="582.80" stroke="#4a4a4a" stroke-width="0.9"/>
<rect x="588.40" y="570.10" width="15.40" height="9.50" fill="#4c72b0" stroke="#4a4a4a" stroke-width="0.8"/>
<rect x="603.80" y="574.50" width="15.40" height="11.20" fill="#dd8452" stroke="#4a4a4a" stroke-width="0.8"/>
<line x1="603.80" y1="581.20" x2="619.20" y2="581.20" stroke="#4a4a4a" stroke-width="0.9"/>
<rect x="619.20" y="574.80" width="15.40" height="11.70" fill="#55a868" stroke="#4a4a4a" stroke-width="0.8"/>
<line x1="619.20" y1="581.20" x2="634.60" y2="581.20" stroke="#4a4a4a" stroke-width="0.9"/>
<rect x="646.10" y="577.20" width="15.40" height="10.10" fill="#4c72b0" stroke="#4a4a4a" stroke-width="0.8"/>
<rect x="661.50" y="576.10" width="15.40" height="11.20" fill="#dd8452" stroke="#4a4a4a" stroke-width="0.8"/>
<line x1="661.50" y1="582.20" x2="676.90" y2="582.20" stroke="#4a4a4a" stroke-width="0.9"/>
<rect x="676.90" y="576.10" width="15.40" height="11.20" fill="#55a868" stroke="#4a4a4a" stroke-width="0.8"/>
<line x1="676.90" y1="582.20" x2="692.30" y2="582.20" stroke="#4a4a4a" stroke-width="0.9"/>
<rect x="623.20" y="625.20" width="19.30" height="7.50" fill="#4c72b0" stroke="#555" stroke-width="0.7"/>
<text x="649.60" y="632.00" font-size="8" text-anchor="start" fill="#222" stroke="#222" stroke-width="0.16">NTC</text>
<rect x="623.20" y="638.15" width="19.30" height="7.50" fill="#dd8452" stroke="#555" stroke-width="0.7"/>
<text x="649.60" y="644.95" font-size="8" text-anchor="start" fill="#222" font-style="italic" stroke="#222" stroke-width="0.16">Kmt2d</text>
<rect x="623.20" y="651.10" width="19.30" height="7.50" fill="#55a868" stroke="#555" stroke-width="0.7"/>
<text x="649.60" y="657.90" font-size="8" text-anchor="start" fill="#222" font-style="italic" stroke="#222" stroke-width="0.16">WDR82</text>
<text x="0.20" y="740.40" font-size="10.5" text-anchor="start" fill="#111" font-weight="bold">d</text>
<rect x="54.50" y="753.50" width="636.00" height="92.60" fill="none" stroke="#999" stroke-width="1.0"/>
<text x="54.20" y="747.70" font-size="10" text-anchor="start" fill="#333" font-style="italic" textLength="53.50" lengthAdjust="spacingAndGlyphs" stroke="#333" stroke-width="0.16">WDR82-KO</text>
<line x1="52.30" y1="770.80" x2="54.50" y2="770.80" stroke="#555" stroke-width="0.8"/>
<text x="48.70" y="774.30" font-size="10" text-anchor="end" fill="#333" textLength="36.00" lengthAdjust="spacingAndGlyphs" stroke="#333" stroke-width="0.16">LSK−d3</text>
<line x1="52.30" y1="799.80" x2="54.50" y2="799.80" stroke="#555" stroke-width="0.8"/>
<text x="48.70" y="803.30" font-size="10" text-anchor="end" fill="#333" textLength="36.00" lengthAdjust="spacingAndGlyphs" stroke="#333" stroke-width="0.16">LSK−d5</text>
<line x1="52.30" y1="828.60" x2="54.50" y2="828.60" stroke="#555" stroke-width="0.8"/>
<text x="48.70" y="832.10" font-size="10" text-anchor="end" fill="#333" textLength="36.00" lengthAdjust="spacingAndGlyphs" stroke="#333" stroke-width="0.16">LSK−d7</text>
<line x1="68.40" y1="846.10" x2="68.40" y2="848.40" stroke="#555" stroke-width="0.8"/>
<text x="0" y="0" font-size="10.2" font-weight="bold" text-anchor="end" fill="#222" transform="translate(72.10 850.90) rotate(-90)">RUNX1</text>
<circle cx="68.40" cy="770.80" r="0.55" fill="#555"/>
<circle cx="68.40" cy="799.80" r="0.55" fill="#555"/>
<circle cx="68.40" cy="828.60" r="0.55" fill="#555"/>
<line x1="91.79" y1="846.10" x2="91.79" y2="848.40" stroke="#555" stroke-width="0.8"/>
<text x="0" y="0" font-size="10.2" font-weight="bold" text-anchor="end" fill="#222" transform="translate(95.49 850.90) rotate(-90)">RUNX2</text>
<circle cx="91.79" cy="770.80" r="0.55" fill="#555"/>
<circle cx="91.79" cy="799.80" r="0.55" fill="#555"/>
<circle cx="91.79" cy="828.60" r="0.55" fill="#555"/>
<line x1="115.18" y1="846.10" x2="115.18" y2="848.40" stroke="#555" stroke-width="0.8"/>
<text x="0" y="0" font-size="10.2" font-weight="bold" text-anchor="end" fill="#222" transform="translate(118.88 850.90) rotate(-90)">CEBP</text>
<circle cx="115.18" cy="770.80" r="0.55" fill="#555"/>
<circle cx="115.18" cy="799.80" r="0.55" fill="#555"/>
<circle cx="115.18" cy="828.60" r="0.55" fill="#555"/>
<line x1="138.57" y1="846.10" x2="138.57" y2="848.40" stroke="#555" stroke-width="0.8"/>
<text x="0" y="0" font-size="10.2" font-weight="bold" text-anchor="end" fill="#222" transform="translate(142.27 850.90) rotate(-90)">CEBP−AP1</text>
<circle cx="138.57" cy="770.80" r="0.55" fill="#555"/>
<circle cx="138.57" cy="799.80" r="0.55" fill="#555"/>
<circle cx="138.57" cy="828.60" r="0.55" fill="#555"/>
<line x1="161.96" y1="846.10" x2="161.96" y2="848.40" stroke="#555" stroke-width="0.8"/>
<text x="0" y="0" font-size="10.2" font-weight="bold" text-anchor="end" fill="#222" transform="translate(165.66 850.90) rotate(-90)">NFIL3</text>
<circle cx="161.96" cy="770.80" r="0.55" fill="#555"/>
<circle cx="161.96" cy="799.80" r="0.55" fill="#555"/>
<circle cx="161.96" cy="828.60" r="0.55" fill="#555"/>
<line x1="185.35" y1="846.10" x2="185.35" y2="848.40" stroke="#555" stroke-width="0.8"/>
<text x="0" y="0" font-size="10.2" font-weight="bold" text-anchor="end" fill="#222" transform="translate(189.05 850.90) rotate(-90)">HLF</text>
<circle cx="185.35" cy="770.80" r="0.55" fill="#555"/>
<circle cx="185.35" cy="799.80" r="0.55" fill="#555"/>
<circle cx="185.35" cy="828.60" r="0.55" fill="#555"/>
<line x1="208.74" y1="846.10" x2="208.74" y2="848.40" stroke="#555" stroke-width="0.8"/>
<text x="0" y="0" font-size="10.2" font-weight="bold" text-anchor="end" fill="#222" transform="translate(212.44 850.90) rotate(-90)">Atf4</text>
<circle cx="208.74" cy="770.80" r="0.55" fill="#555"/>
<circle cx="208.74" cy="799.80" r="0.55" fill="#555"/>
<circle cx="208.74" cy="828.60" r="0.55" fill="#555"/>
<line x1="232.13" y1="846.10" x2="232.13" y2="848.40" stroke="#555" stroke-width="0.8"/>
<text x="0" y="0" font-size="10.2" font-weight="bold" text-anchor="end" fill="#222" transform="translate(235.83 850.90) rotate(-90)">Atf1</text>
<circle cx="232.13" cy="770.80" r="0.55" fill="#555"/>
<circle cx="232.13" cy="799.80" r="0.55" fill="#555"/>
<circle cx="232.13" cy="828.60" r="0.55" fill="#555"/>
<line x1="255.52" y1="846.10" x2="255.52" y2="848.40" stroke="#555" stroke-width="0.8"/>
<text x="0" y="0" font-size="10.2" font-weight="bold" text-anchor="end" fill="#222" transform="translate(259.22 850.90) rotate(-90)">Atf3</text>
<circle cx="255.52" cy="770.80" r="0.55" fill="#555"/>
<circle cx="255.52" cy="799.80" r="0.55" fill="#555"/>
<circle cx="255.52" cy="828.60" r="0.55" fill="#555"/>
<line x1="278.91" y1="846.10" x2="278.91" y2="848.40" stroke="#555" stroke-width="0.8"/>
<text x="0" y="0" font-size="10.2" font-weight="bold" text-anchor="end" fill="#222" transform="translate(282.61 850.90) rotate(-90)">AP−1</text>
<circle cx="278.91" cy="770.80" r="0.55" fill="#555"/>
<circle cx="278.91" cy="799.80" r="0.55" fill="#555"/>
<circle cx="278.91" cy="828.60" r="0.55" fill="#555"/>
<line x1="302.30" y1="846.10" x2="302.30" y2="848.40" stroke="#555" stroke-width="0.8"/>
<text x="0" y="0" font-size="10.2" font-weight="bold" text-anchor="end" fill="#222" transform="translate(306.00 850.90) rotate(-90)">Elf4</text>
<circle cx="302.30" cy="770.80" r="0.55" fill="#555"/>
<circle cx="302.30" cy="799.80" r="0.55" fill="#555"/>
<circle cx="302.30" cy="828.60" r="0.55" fill="#555"/>
<line x1="325.69" y1="846.10" x2="325.69" y2="848.40" stroke="#555" stroke-width="0.8"/>
<text x="0" y="0" font-size="10.2" font-weight="bold" text-anchor="end" fill="#222" transform="translate(329.39 850.90) rotate(-90)">SpiB</text>
<circle cx="325.69" cy="770.80" r="0.55" fill="#555"/>
<circle cx="325.69" cy="799.80" r="0.55" fill="#555"/>
<circle cx="325.69" cy="828.60" r="0.55" fill="#555"/>
<line x1="349.08" y1="846.10" x2="349.08" y2="848.40" stroke="#555" stroke-width="0.8"/>
<text x="0" y="0" font-size="10.2" font-weight="bold" text-anchor="end" fill="#222" transform="translate(352.78 850.90) rotate(-90)">PU.1</text>
<circle cx="349.08" cy="770.80" r="0.55" fill="#555"/>
<circle cx="349.08" cy="799.80" r="0.55" fill="#555"/>
<circle cx="349.08" cy="828.60" r="0.55" fill="#555"/>
<line x1="372.47" y1="846.10" x2="372.47" y2="848.40" stroke="#555" stroke-width="0.8"/>
<text x="0" y="0" font-size="10.2" font-weight="bold" text-anchor="end" fill="#222" transform="translate(376.17 850.90) rotate(-90)">GABPA</text>
<circle cx="372.47" cy="770.80" r="0.55" fill="#555"/>
<circle cx="372.47" cy="799.80" r="0.55" fill="#555"/>
<circle cx="372.47" cy="828.60" r="0.55" fill="#555"/>
<line x1="395.86" y1="846.10" x2="395.86" y2="848.40" stroke="#555" stroke-width="0.8"/>
<text x="0" y="0" font-size="10.2" font-weight="bold" text-anchor="end" fill="#222" transform="translate(399.56 850.90) rotate(-90)">PU.1−IRF8</text>
<circle cx="395.86" cy="770.80" r="0.55" fill="#555"/>
<circle cx="395.86" cy="799.80" r="0.55" fill="#555"/>
<circle cx="395.86" cy="828.60" r="0.55" fill="#555"/>
<line x1="419.25" y1="846.10" x2="419.25" y2="848.40" stroke="#555" stroke-width="0.8"/>
<text x="0" y="0" font-size="10.2" font-weight="bold" text-anchor="end" fill="#222" transform="translate(422.95 850.90) rotate(-90)">IRF1</text>
<circle cx="419.25" cy="770.80" r="0.55" fill="#555"/>
<circle cx="419.25" cy="799.80" r="0.55" fill="#555"/>
<circle cx="419.25" cy="828.60" r="0.55" fill="#555"/>
<line x1="442.64" y1="846.10" x2="442.64" y2="848.40" stroke="#555" stroke-width="0.8"/>
<text x="0" y="0" font-size="10.2" font-weight="bold" text-anchor="end" fill="#222" transform="translate(446.34 850.90) rotate(-90)">IRF8</text>
<circle cx="442.64" cy="770.80" r="0.55" fill="#555"/>
<circle cx="442.64" cy="799.80" r="0.55" fill="#555"/>
<circle cx="442.64" cy="828.60" r="0.55" fill="#555"/>
<line x1="466.03" y1="846.10" x2="466.03" y2="848.40" stroke="#555" stroke-width="0.8"/>
<text x="0" y="0" font-size="10.2" font-weight="bold" text-anchor="end" fill="#222" transform="translate(469.73 850.90) rotate(-90)">GATA−SCL</text>
<circle cx="466.03" cy="770.80" r="0.55" fill="#555"/>
<circle cx="466.03" cy="799.80" r="0.55" fill="#555"/>
<circle cx="466.03" cy="828.60" r="0.55" fill="#555"/>
<line x1="489.42" y1="846.10" x2="489.42" y2="848.40" stroke="#555" stroke-width="0.8"/>
<text x="0" y="0" font-size="10.2" font-weight="bold" text-anchor="end" fill="#222" transform="translate(493.12 850.90) rotate(-90)">Gata1</text>
<circle cx="489.42" cy="770.80" r="0.55" fill="#555"/>
<circle cx="489.42" cy="799.80" r="0.55" fill="#555"/>
<circle cx="489.42" cy="828.60" r="0.55" fill="#555"/>
<line x1="512.81" y1="846.10" x2="512.81" y2="848.40" stroke="#555" stroke-width="0.8"/>
<text x="0" y="0" font-size="10.2" font-weight="bold" text-anchor="end" fill="#222" transform="translate(516.51 850.90) rotate(-90)">Gata2</text>
<circle cx="512.81" cy="770.80" r="0.55" fill="#555"/>
<circle cx="512.81" cy="799.80" r="0.55" fill="#555"/>
<circle cx="512.81" cy="828.60" r="0.55" fill="#555"/>
<line x1="536.20" y1="846.10" x2="536.20" y2="848.40" stroke="#555" stroke-width="0.8"/>
<text x="0" y="0" font-size="10.2" font-weight="bold" text-anchor="end" fill="#222" transform="translate(539.90 850.90) rotate(-90)">NF1</text>
<circle cx="536.20" cy="770.80" r="0.55" fill="#555"/>
<circle cx="536.20" cy="799.80" r="0.55" fill="#555"/>
<circle cx="536.20" cy="828.60" r="0.55" fill="#555"/>
<line x1="559.59" y1="846.10" x2="559.59" y2="848.40" stroke="#555" stroke-width="0.8"/>
<text x="0" y="0" font-size="10.2" font-weight="bold" text-anchor="end" fill="#222" transform="translate(563.29 850.90) rotate(-90)">NRF</text>
<circle cx="559.59" cy="770.80" r="0.55" fill="#555"/>
<circle cx="559.59" cy="799.80" r="0.55" fill="#555"/>
<circle cx="559.59" cy="828.60" r="0.55" fill="#555"/>
<line x1="582.98" y1="846.10" x2="582.98" y2="848.40" stroke="#555" stroke-width="0.8"/>
<text x="0" y="0" font-size="10.2" font-weight="bold" text-anchor="end" fill="#222" transform="translate(586.68 850.90) rotate(-90)">NRF1</text>
<circle cx="582.98" cy="770.80" r="0.55" fill="#555"/>
<circle cx="582.98" cy="799.80" r="0.55" fill="#555"/>
<circle cx="582.98" cy="828.60" r="0.55" fill="#555"/>
<line x1="606.37" y1="846.10" x2="606.37" y2="848.40" stroke="#555" stroke-width="0.8"/>
<text x="0" y="0" font-size="10.2" font-weight="bold" text-anchor="end" fill="#222" transform="translate(610.07 850.90) rotate(-90)">EKLF</text>
<circle cx="606.37" cy="770.80" r="0.55" fill="#555"/>
<circle cx="606.37" cy="799.80" r="0.55" fill="#555"/>
<circle cx="606.37" cy="828.60" r="0.55" fill="#555"/>
<line x1="629.76" y1="846.10" x2="629.76" y2="848.40" stroke="#555" stroke-width="0.8"/>
<text x="0" y="0" font-size="10.2" font-weight="bold" text-anchor="end" fill="#222" transform="translate(633.46 850.90) rotate(-90)">KLF6</text>
<circle cx="629.76" cy="770.80" r="0.55" fill="#555"/>
<circle cx="629.76" cy="799.80" r="0.55" fill="#555"/>
<circle cx="629.76" cy="828.60" r="0.55" fill="#555"/>
<line x1="653.15" y1="846.10" x2="653.15" y2="848.40" stroke="#555" stroke-width="0.8"/>
<text x="0" y="0" font-size="10.2" font-weight="bold" text-anchor="end" fill="#222" transform="translate(656.85 850.90) rotate(-90)">Klf9</text>
<circle cx="653.15" cy="770.80" r="0.55" fill="#555"/>
<circle cx="653.15" cy="799.80" r="0.55" fill="#555"/>
<circle cx="653.15" cy="828.60" r="0.55" fill="#555"/>
<line x1="676.54" y1="846.10" x2="676.54" y2="848.40" stroke="#555" stroke-width="0.8"/>
<text x="0" y="0" font-size="10.2" font-weight="bold" text-anchor="end" fill="#222" transform="translate(680.24 850.90) rotate(-90)">KLF10</text>
<circle cx="676.54" cy="770.80" r="0.55" fill="#555"/>
<circle cx="676.54" cy="799.80" r="0.55" fill="#555"/>
<circle cx="676.54" cy="828.60" r="0.55" fill="#555"/>
<circle cx="91.79" cy="770.80" r="6.00" fill="#e8e0ef" stroke="#333" stroke-width="0.9"/>
<circle cx="115.18" cy="770.80" r="6.00" fill="#d5c6e3" stroke="#333" stroke-width="0.9"/>
<circle cx="138.57" cy="770.80" r="6.00" fill="#e4dbed" stroke="#333" stroke-width="0.9"/>
<circle cx="161.96" cy="770.80" r="5.60" fill="#ddd2e9" stroke="#333" stroke-width="0.9"/>
<circle cx="185.35" cy="770.80" r="6.00" fill="#ddd1e8" stroke="#333" stroke-width="0.9"/>
<circle cx="208.74" cy="770.80" r="5.90" fill="#e0d6ea" stroke="#333" stroke-width="0.9"/>
<circle cx="232.13" cy="770.80" r="5.30" fill="#ede6f2" stroke="#333" stroke-width="0.9"/>
<circle cx="302.30" cy="770.80" r="6.40" fill="#e1d8eb" stroke="#333" stroke-width="0.9"/>
<circle cx="325.69" cy="770.80" r="6.60" fill="#d3c4e2" stroke="#333" stroke-width="0.9"/>
<circle cx="349.08" cy="770.80" r="6.60" fill="#e0d6ea" stroke="#333" stroke-width="0.9"/>
<circle cx="582.98" cy="770.80" r="5.60" fill="#d4e9cf" stroke="#333" stroke-width="0.9"/>
<circle cx="115.18" cy="799.80" r="6.80" fill="#7b55ad" stroke="#333" stroke-width="0.9"/>
<circle cx="138.57" cy="799.80" r="6.30" fill="#b49dd0" stroke="#333" stroke-width="0.9"/>
<circle cx="161.96" cy="799.80" r="6.30" fill="#9072bb" stroke="#333" stroke-width="0.9"/>
<circle cx="185.35" cy="799.80" r="6.60" fill="#9273bc" stroke="#333" stroke-width="0.9"/>
<circle cx="208.74" cy="799.80" r="6.30" fill="#a68bc7" stroke="#333" stroke-width="0.9"/>
<circle cx="255.52" cy="799.80" r="6.00" fill="#cdbde0" stroke="#333" stroke-width="0.9"/>
<circle cx="278.91" cy="799.80" r="6.00" fill="#d8cbe6" stroke="#333" stroke-width="0.9"/>
<circle cx="302.30" cy="799.80" r="6.60" fill="#c2afd8" stroke="#333" stroke-width="0.9"/>
<circle cx="325.69" cy="799.80" r="7.00" fill="#9a7ec0" stroke="#333" stroke-width="0.9"/>
<circle cx="349.08" cy="799.80" r="6.70" fill="#b9a3d3" stroke="#333" stroke-width="0.9"/>
<circle cx="419.25" cy="799.80" r="6.30" fill="#d3c6e3" stroke="#333" stroke-width="0.9"/>
<circle cx="466.03" cy="799.80" r="5.30" fill="#e3f0df" stroke="#333" stroke-width="0.9"/>
<circle cx="489.42" cy="799.80" r="5.30" fill="#dcedd7" stroke="#333" stroke-width="0.9"/>
<circle cx="512.81" cy="799.80" r="5.30" fill="#e0efdc" stroke="#333" stroke-width="0.9"/>
<circle cx="536.20" cy="799.80" r="6.00" fill="#d5ead0" stroke="#333" stroke-width="0.9"/>
<circle cx="115.18" cy="828.60" r="6.80" fill="#7750aa" stroke="#333" stroke-width="0.9"/>
<circle cx="138.57" cy="828.60" r="6.40" fill="#ad93cb" stroke="#333" stroke-width="0.9"/>
<circle cx="161.96" cy="828.60" r="6.70" fill="#7e58ae" stroke="#333" stroke-width="0.9"/>
<circle cx="185.35" cy="828.60" r="6.70" fill="#8161b3" stroke="#333" stroke-width="0.9"/>
<circle cx="208.74" cy="828.60" r="6.40" fill="#a487c5" stroke="#333" stroke-width="0.9"/>
<circle cx="302.30" cy="828.60" r="6.70" fill="#b79fd2" stroke="#333" stroke-width="0.9"/>
<circle cx="325.69" cy="828.60" r="7.20" fill="#8c6ab9" stroke="#333" stroke-width="0.9"/>
<circle cx="349.08" cy="828.60" r="6.90" fill="#b198cd" stroke="#333" stroke-width="0.9"/>
<circle cx="395.86" cy="828.60" r="6.70" fill="#c2afd8" stroke="#333" stroke-width="0.9"/>
<circle cx="419.25" cy="828.60" r="6.70" fill="#b9a5d4" stroke="#333" stroke-width="0.9"/>
<circle cx="442.64" cy="828.60" r="6.70" fill="#b89fd4" stroke="#333" stroke-width="0.9"/>
<circle cx="466.03" cy="828.60" r="5.60" fill="#dbecd6" stroke="#333" stroke-width="0.9"/>
<circle cx="489.42" cy="828.60" r="6.00" fill="#d9ebd4" stroke="#333" stroke-width="0.9"/>
<circle cx="512.81" cy="828.60" r="5.60" fill="#dcecd8" stroke="#333" stroke-width="0.9"/>
<circle cx="536.20" cy="828.60" r="6.30" fill="#c3e2bb" stroke="#333" stroke-width="0.9"/>
<text x="377.00" y="910.50" font-size="10" text-anchor="middle" fill="#222" font-weight="bold">Motif</text>
<text x="700.00" y="752.40" font-size="8.6" text-anchor="start" fill="#222" textLength="48.60" lengthAdjust="spacingAndGlyphs" stroke="#222" stroke-width="0.16">FoldChange</text>
<defs><linearGradient id="fg752" x1="0" y1="0" x2="0" y2="1"><stop offset="0" stop-color="#2f9a3a"/><stop offset="0.25" stop-color="#8fcb86"/><stop offset="0.45" stop-color="#eef6ec"/><stop offset="0.52" stop-color="#ffffff"/><stop offset="0.62" stop-color="#e9e0f0"/><stop offset="0.8" stop-color="#a98ccb"/><stop offset="1" stop-color="#6f3d9b"/></linearGradient></defs>
<rect x="700.00" y="755.40" width="11.90" height="57.60" fill="url(#fg752)"/>
<line x1="700.00" y1="769.30" x2="703.00" y2="769.30" stroke="#333" stroke-width="0.8"/>
<line x1="708.90" y1="769.30" x2="711.90" y2="769.30" stroke="#333" stroke-width="0.8"/>
<text x="715.80" y="772.10" font-size="7.8" text-anchor="start" fill="#3a3a3a" textLength="11.20" lengthAdjust="spacingAndGlyphs" stroke="#3a3a3a" stroke-width="0.16">0.3</text>
<line x1="700.00" y1="784.40" x2="703.00" y2="784.40" stroke="#333" stroke-width="0.8"/>
<line x1="708.90" y1="784.40" x2="711.90" y2="784.40" stroke="#333" stroke-width="0.8"/>
<text x="715.80" y="787.20" font-size="7.8" text-anchor="start" fill="#3a3a3a" textLength="11.20" lengthAdjust="spacingAndGlyphs" stroke="#3a3a3a" stroke-width="0.16">0.0</text>
<line x1="700.00" y1="798.80" x2="703.00" y2="798.80" stroke="#333" stroke-width="0.8"/>
<line x1="708.90" y1="798.80" x2="711.90" y2="798.80" stroke="#333" stroke-width="0.8"/>
<text x="714.60" y="801.60" font-size="7.8" text-anchor="start" fill="#3a3a3a" textLength="12.60" lengthAdjust="spacingAndGlyphs" stroke="#3a3a3a" stroke-width="0.16">−0.3</text>
<text x="700.80" y="830.60" font-size="8.2" text-anchor="start" fill="#333" stroke="#333" stroke-width="0.16">Pval</text>
<circle cx="710.90" cy="839.20" r="0.55" fill="#555"/>
<text x="724.00" y="842.10" font-size="8.0" text-anchor="start" fill="#3a3a3a" stroke="#3a3a3a" stroke-width="0.16">0</text>
<circle cx="710.90" cy="851.00" r="3.50" fill="none" stroke="#333" stroke-width="0.9"/>
<text x="724.00" y="853.90" font-size="8.0" text-anchor="start" fill="#3a3a3a" stroke="#3a3a3a" stroke-width="0.16">50</text>
<circle cx="710.90" cy="863.30" r="5.00" fill="none" stroke="#333" stroke-width="0.9"/>
<text x="724.00" y="866.20" font-size="8.0" text-anchor="start" fill="#3a3a3a" stroke="#3a3a3a" stroke-width="0.16">100</text>
<circle cx="710.90" cy="877.30" r="6.10" fill="none" stroke="#333" stroke-width="0.9"/>
<text x="724.00" y="880.20" font-size="8.0" text-anchor="start" fill="#3a3a3a" stroke="#3a3a3a" stroke-width="0.16">150</text>
<circle cx="710.90" cy="894.40" r="7.10" fill="none" stroke="#333" stroke-width="0.9"/>
<text x="724.00" y="897.30" font-size="8.0" text-anchor="start" fill="#3a3a3a" stroke="#3a3a3a" stroke-width="0.16">200</text>
<rect x="52.80" y="925.40" width="636.60" height="91.90" fill="none" stroke="#999" stroke-width="1.0"/>
<text x="53.00" y="919.50" font-size="10" text-anchor="start" fill="#333" font-style="italic" textLength="47.30" lengthAdjust="spacingAndGlyphs" stroke="#333" stroke-width="0.16">Kmt2d-KO</text>
<line x1="50.60" y1="942.20" x2="52.80" y2="942.20" stroke="#555" stroke-width="0.8"/>
<text x="47.00" y="945.70" font-size="10" text-anchor="end" fill="#333" textLength="36.00" lengthAdjust="spacingAndGlyphs" stroke="#333" stroke-width="0.16">LSK−d3</text>
<line x1="50.60" y1="970.90" x2="52.80" y2="970.90" stroke="#555" stroke-width="0.8"/>
<text x="47.00" y="974.40" font-size="10" text-anchor="end" fill="#333" textLength="36.00" lengthAdjust="spacingAndGlyphs" stroke="#333" stroke-width="0.16">LSK−d5</text>
<line x1="50.60" y1="999.90" x2="52.80" y2="999.90" stroke="#555" stroke-width="0.8"/>
<text x="47.00" y="1003.40" font-size="10" text-anchor="end" fill="#333" textLength="36.00" lengthAdjust="spacingAndGlyphs" stroke="#333" stroke-width="0.16">LSK−d7</text>
<line x1="66.90" y1="1017.30" x2="66.90" y2="1019.60" stroke="#555" stroke-width="0.8"/>
<text x="0" y="0" font-size="10.2" font-weight="bold" text-anchor="end" fill="#222" transform="translate(70.60 1022.60) rotate(-90)">RUNX1</text>
<circle cx="66.90" cy="942.20" r="0.55" fill="#555"/>
<circle cx="66.90" cy="970.90" r="0.55" fill="#555"/>
<circle cx="66.90" cy="999.90" r="0.55" fill="#555"/>
<line x1="90.29" y1="1017.30" x2="90.29" y2="1019.60" stroke="#555" stroke-width="0.8"/>
<text x="0" y="0" font-size="10.2" font-weight="bold" text-anchor="end" fill="#222" transform="translate(93.99 1022.60) rotate(-90)">RUNX2</text>
<circle cx="90.29" cy="942.20" r="0.55" fill="#555"/>
<circle cx="90.29" cy="970.90" r="0.55" fill="#555"/>
<circle cx="90.29" cy="999.90" r="0.55" fill="#555"/>
<line x1="113.68" y1="1017.30" x2="113.68" y2="1019.60" stroke="#555" stroke-width="0.8"/>
<text x="0" y="0" font-size="10.2" font-weight="bold" text-anchor="end" fill="#222" transform="translate(117.38 1022.60) rotate(-90)">CEBP</text>
<circle cx="113.68" cy="942.20" r="0.55" fill="#555"/>
<circle cx="113.68" cy="970.90" r="0.55" fill="#555"/>
<circle cx="113.68" cy="999.90" r="0.55" fill="#555"/>
<line x1="137.07" y1="1017.30" x2="137.07" y2="1019.60" stroke="#555" stroke-width="0.8"/>
<text x="0" y="0" font-size="10.2" font-weight="bold" text-anchor="end" fill="#222" transform="translate(140.77 1022.60) rotate(-90)">CEBP−AP1</text>
<circle cx="137.07" cy="942.20" r="0.55" fill="#555"/>
<circle cx="137.07" cy="970.90" r="0.55" fill="#555"/>
<circle cx="137.07" cy="999.90" r="0.55" fill="#555"/>
<line x1="160.46" y1="1017.30" x2="160.46" y2="1019.60" stroke="#555" stroke-width="0.8"/>
<text x="0" y="0" font-size="10.2" font-weight="bold" text-anchor="end" fill="#222" transform="translate(164.16 1022.60) rotate(-90)">NFIL3</text>
<circle cx="160.46" cy="942.20" r="0.55" fill="#555"/>
<circle cx="160.46" cy="970.90" r="0.55" fill="#555"/>
<circle cx="160.46" cy="999.90" r="0.55" fill="#555"/>
<line x1="183.85" y1="1017.30" x2="183.85" y2="1019.60" stroke="#555" stroke-width="0.8"/>
<text x="0" y="0" font-size="10.2" font-weight="bold" text-anchor="end" fill="#222" transform="translate(187.55 1022.60) rotate(-90)">HLF</text>
<circle cx="183.85" cy="942.20" r="0.55" fill="#555"/>
<circle cx="183.85" cy="970.90" r="0.55" fill="#555"/>
<circle cx="183.85" cy="999.90" r="0.55" fill="#555"/>
<line x1="207.24" y1="1017.30" x2="207.24" y2="1019.60" stroke="#555" stroke-width="0.8"/>
<text x="0" y="0" font-size="10.2" font-weight="bold" text-anchor="end" fill="#222" transform="translate(210.94 1022.60) rotate(-90)">Atf4</text>
<circle cx="207.24" cy="942.20" r="0.55" fill="#555"/>
<circle cx="207.24" cy="970.90" r="0.55" fill="#555"/>
<circle cx="207.24" cy="999.90" r="0.55" fill="#555"/>
<line x1="230.63" y1="1017.30" x2="230.63" y2="1019.60" stroke="#555" stroke-width="0.8"/>
<text x="0" y="0" font-size="10.2" font-weight="bold" text-anchor="end" fill="#222" transform="translate(234.33 1022.60) rotate(-90)">Atf1</text>
<circle cx="230.63" cy="942.20" r="0.55" fill="#555"/>
<circle cx="230.63" cy="970.90" r="0.55" fill="#555"/>
<circle cx="230.63" cy="999.90" r="0.55" fill="#555"/>
<line x1="254.02" y1="1017.30" x2="254.02" y2="1019.60" stroke="#555" stroke-width="0.8"/>
<text x="0" y="0" font-size="10.2" font-weight="bold" text-anchor="end" fill="#222" transform="translate(257.72 1022.60) rotate(-90)">Atf3</text>
<circle cx="254.02" cy="942.20" r="0.55" fill="#555"/>
<circle cx="254.02" cy="970.90" r="0.55" fill="#555"/>
<circle cx="254.02" cy="999.90" r="0.55" fill="#555"/>
<line x1="277.41" y1="1017.30" x2="277.41" y2="1019.60" stroke="#555" stroke-width="0.8"/>
<text x="0" y="0" font-size="10.2" font-weight="bold" text-anchor="end" fill="#222" transform="translate(281.11 1022.60) rotate(-90)">AP−1</text>
<circle cx="277.41" cy="942.20" r="0.55" fill="#555"/>
<circle cx="277.41" cy="970.90" r="0.55" fill="#555"/>
<circle cx="277.41" cy="999.90" r="0.55" fill="#555"/>
<line x1="300.80" y1="1017.30" x2="300.80" y2="1019.60" stroke="#555" stroke-width="0.8"/>
<text x="0" y="0" font-size="10.2" font-weight="bold" text-anchor="end" fill="#222" transform="translate(304.50 1022.60) rotate(-90)">Elf4</text>
<circle cx="300.80" cy="942.20" r="0.55" fill="#555"/>
<circle cx="300.80" cy="970.90" r="0.55" fill="#555"/>
<circle cx="300.80" cy="999.90" r="0.55" fill="#555"/>
<line x1="324.19" y1="1017.30" x2="324.19" y2="1019.60" stroke="#555" stroke-width="0.8"/>
<text x="0" y="0" font-size="10.2" font-weight="bold" text-anchor="end" fill="#222" transform="translate(327.89 1022.60) rotate(-90)">SpiB</text>
<circle cx="324.19" cy="942.20" r="0.55" fill="#555"/>
<circle cx="324.19" cy="970.90" r="0.55" fill="#555"/>
<circle cx="324.19" cy="999.90" r="0.55" fill="#555"/>
<line x1="347.58" y1="1017.30" x2="347.58" y2="1019.60" stroke="#555" stroke-width="0.8"/>
<text x="0" y="0" font-size="10.2" font-weight="bold" text-anchor="end" fill="#222" transform="translate(351.28 1022.60) rotate(-90)">PU.1</text>
<circle cx="347.58" cy="942.20" r="0.55" fill="#555"/>
<circle cx="347.58" cy="970.90" r="0.55" fill="#555"/>
<circle cx="347.58" cy="999.90" r="0.55" fill="#555"/>
<line x1="370.97" y1="1017.30" x2="370.97" y2="1019.60" stroke="#555" stroke-width="0.8"/>
<text x="0" y="0" font-size="10.2" font-weight="bold" text-anchor="end" fill="#222" transform="translate(374.67 1022.60) rotate(-90)">GABPA</text>
<circle cx="370.97" cy="942.20" r="0.55" fill="#555"/>
<circle cx="370.97" cy="970.90" r="0.55" fill="#555"/>
<circle cx="370.97" cy="999.90" r="0.55" fill="#555"/>
<line x1="394.36" y1="1017.30" x2="394.36" y2="1019.60" stroke="#555" stroke-width="0.8"/>
<text x="0" y="0" font-size="10.2" font-weight="bold" text-anchor="end" fill="#222" transform="translate(398.06 1022.60) rotate(-90)">PU.1−IRF8</text>
<circle cx="394.36" cy="942.20" r="0.55" fill="#555"/>
<circle cx="394.36" cy="970.90" r="0.55" fill="#555"/>
<circle cx="394.36" cy="999.90" r="0.55" fill="#555"/>
<line x1="417.75" y1="1017.30" x2="417.75" y2="1019.60" stroke="#555" stroke-width="0.8"/>
<text x="0" y="0" font-size="10.2" font-weight="bold" text-anchor="end" fill="#222" transform="translate(421.45 1022.60) rotate(-90)">IRF1</text>
<circle cx="417.75" cy="942.20" r="0.55" fill="#555"/>
<circle cx="417.75" cy="970.90" r="0.55" fill="#555"/>
<circle cx="417.75" cy="999.90" r="0.55" fill="#555"/>
<line x1="441.14" y1="1017.30" x2="441.14" y2="1019.60" stroke="#555" stroke-width="0.8"/>
<text x="0" y="0" font-size="10.2" font-weight="bold" text-anchor="end" fill="#222" transform="translate(444.84 1022.60) rotate(-90)">IRF8</text>
<circle cx="441.14" cy="942.20" r="0.55" fill="#555"/>
<circle cx="441.14" cy="970.90" r="0.55" fill="#555"/>
<circle cx="441.14" cy="999.90" r="0.55" fill="#555"/>
<line x1="464.53" y1="1017.30" x2="464.53" y2="1019.60" stroke="#555" stroke-width="0.8"/>
<text x="0" y="0" font-size="10.2" font-weight="bold" text-anchor="end" fill="#222" transform="translate(468.23 1022.60) rotate(-90)">GATA−SCL</text>
<circle cx="464.53" cy="942.20" r="0.55" fill="#555"/>
<circle cx="464.53" cy="970.90" r="0.55" fill="#555"/>
<circle cx="464.53" cy="999.90" r="0.55" fill="#555"/>
<line x1="487.92" y1="1017.30" x2="487.92" y2="1019.60" stroke="#555" stroke-width="0.8"/>
<text x="0" y="0" font-size="10.2" font-weight="bold" text-anchor="end" fill="#222" transform="translate(491.62 1022.60) rotate(-90)">Gata1</text>
<circle cx="487.92" cy="942.20" r="0.55" fill="#555"/>
<circle cx="487.92" cy="970.90" r="0.55" fill="#555"/>
<circle cx="487.92" cy="999.90" r="0.55" fill="#555"/>
<line x1="511.31" y1="1017.30" x2="511.31" y2="1019.60" stroke="#555" stroke-width="0.8"/>
<text x="0" y="0" font-size="10.2" font-weight="bold" text-anchor="end" fill="#222" transform="translate(515.01 1022.60) rotate(-90)">Gata2</text>
<circle cx="511.31" cy="942.20" r="0.55" fill="#555"/>
<circle cx="511.31" cy="970.90" r="0.55" fill="#555"/>
<circle cx="511.31" cy="999.90" r="0.55" fill="#555"/>
<line x1="534.70" y1="1017.30" x2="534.70" y2="1019.60" stroke="#555" stroke-width="0.8"/>
<text x="0" y="0" font-size="10.2" font-weight="bold" text-anchor="end" fill="#222" transform="translate(538.40 1022.60) rotate(-90)">NF1</text>
<circle cx="534.70" cy="942.20" r="0.55" fill="#555"/>
<circle cx="534.70" cy="970.90" r="0.55" fill="#555"/>
<circle cx="534.70" cy="999.90" r="0.55" fill="#555"/>
<line x1="558.09" y1="1017.30" x2="558.09" y2="1019.60" stroke="#555" stroke-width="0.8"/>
<text x="0" y="0" font-size="10.2" font-weight="bold" text-anchor="end" fill="#222" transform="translate(561.79 1022.60) rotate(-90)">NRF</text>
<circle cx="558.09" cy="942.20" r="0.55" fill="#555"/>
<circle cx="558.09" cy="970.90" r="0.55" fill="#555"/>
<circle cx="558.09" cy="999.90" r="0.55" fill="#555"/>
<line x1="581.48" y1="1017.30" x2="581.48" y2="1019.60" stroke="#555" stroke-width="0.8"/>
<text x="0" y="0" font-size="10.2" font-weight="bold" text-anchor="end" fill="#222" transform="translate(585.18 1022.60) rotate(-90)">NRF1</text>
<circle cx="581.48" cy="942.20" r="0.55" fill="#555"/>
<circle cx="581.48" cy="970.90" r="0.55" fill="#555"/>
<circle cx="581.48" cy="999.90" r="0.55" fill="#555"/>
<line x1="604.87" y1="1017.30" x2="604.87" y2="1019.60" stroke="#555" stroke-width="0.8"/>
<text x="0" y="0" font-size="10.2" font-weight="bold" text-anchor="end" fill="#222" transform="translate(608.57 1022.60) rotate(-90)">EKLF</text>
<circle cx="604.87" cy="942.20" r="0.55" fill="#555"/>
<circle cx="604.87" cy="970.90" r="0.55" fill="#555"/>
<circle cx="604.87" cy="999.90" r="0.55" fill="#555"/>
<line x1="628.26" y1="1017.30" x2="628.26" y2="1019.60" stroke="#555" stroke-width="0.8"/>
<text x="0" y="0" font-size="10.2" font-weight="bold" text-anchor="end" fill="#222" transform="translate(631.96 1022.60) rotate(-90)">KLF6</text>
<circle cx="628.26" cy="942.20" r="0.55" fill="#555"/>
<circle cx="628.26" cy="970.90" r="0.55" fill="#555"/>
<circle cx="628.26" cy="999.90" r="0.55" fill="#555"/>
<line x1="651.65" y1="1017.30" x2="651.65" y2="1019.60" stroke="#555" stroke-width="0.8"/>
<text x="0" y="0" font-size="10.2" font-weight="bold" text-anchor="end" fill="#222" transform="translate(655.35 1022.60) rotate(-90)">Klf9</text>
<circle cx="651.65" cy="942.20" r="0.55" fill="#555"/>
<circle cx="651.65" cy="970.90" r="0.55" fill="#555"/>
<circle cx="651.65" cy="999.90" r="0.55" fill="#555"/>
<line x1="675.04" y1="1017.30" x2="675.04" y2="1019.60" stroke="#555" stroke-width="0.8"/>
<text x="0" y="0" font-size="10.2" font-weight="bold" text-anchor="end" fill="#222" transform="translate(678.74 1022.60) rotate(-90)">KLF10</text>
<circle cx="675.04" cy="942.20" r="0.55" fill="#555"/>
<circle cx="675.04" cy="970.90" r="0.55" fill="#555"/>
<circle cx="675.04" cy="999.90" r="0.55" fill="#555"/>
<circle cx="113.68" cy="942.20" r="6.70" fill="#ad93cc" stroke="#333" stroke-width="0.9"/>
<circle cx="137.07" cy="942.20" r="6.70" fill="#dacde8" stroke="#333" stroke-width="0.9"/>
<circle cx="160.46" cy="942.20" r="6.70" fill="#b39bcf" stroke="#333" stroke-width="0.9"/>
<circle cx="183.85" cy="942.20" r="6.70" fill="#b59dd0" stroke="#333" stroke-width="0.9"/>
<circle cx="207.24" cy="942.20" r="6.70" fill="#cfbfe1" stroke="#333" stroke-width="0.9"/>
<circle cx="230.63" cy="942.20" r="6.00" fill="#dcd0e8" stroke="#333" stroke-width="0.9"/>
<circle cx="254.02" cy="942.20" r="6.30" fill="#cfe6c9" stroke="#333" stroke-width="0.9"/>
<circle cx="277.41" cy="942.20" r="6.30" fill="#d2e8cc" stroke="#333" stroke-width="0.9"/>
<circle cx="300.80" cy="942.20" r="6.70" fill="#dacde8" stroke="#333" stroke-width="0.9"/>
<circle cx="324.19" cy="942.20" r="7.00" fill="#c5b2da" stroke="#333" stroke-width="0.9"/>
<circle cx="347.58" cy="942.20" r="7.00" fill="#ddd2ea" stroke="#333" stroke-width="0.9"/>
<circle cx="417.75" cy="942.20" r="7.00" fill="#d7cae6" stroke="#333" stroke-width="0.9"/>
<circle cx="441.14" cy="942.20" r="7.00" fill="#dbcfe8" stroke="#333" stroke-width="0.9"/>
<circle cx="558.09" cy="942.20" r="6.30" fill="#dcd0e9" stroke="#333" stroke-width="0.9"/>
<circle cx="581.48" cy="942.20" r="6.30" fill="#dcd1e9" stroke="#333" stroke-width="0.9"/>
<circle cx="113.68" cy="970.90" r="7.00" fill="#9577bd" stroke="#333" stroke-width="0.9"/>
<circle cx="137.07" cy="970.90" r="6.70" fill="#cbb9de" stroke="#333" stroke-width="0.9"/>
<circle cx="160.46" cy="970.90" r="6.70" fill="#ad94cc" stroke="#333" stroke-width="0.9"/>
<circle cx="183.85" cy="970.90" r="6.70" fill="#ae95cc" stroke="#333" stroke-width="0.9"/>
<circle cx="207.24" cy="970.90" r="6.70" fill="#b9a3d4" stroke="#333" stroke-width="0.9"/>
<circle cx="300.80" cy="970.90" r="6.70" fill="#d3c5e4" stroke="#333" stroke-width="0.9"/>
<circle cx="324.19" cy="970.90" r="6.70" fill="#d0c1e2" stroke="#333" stroke-width="0.9"/>
<circle cx="347.58" cy="970.90" r="6.70" fill="#d5c8e5" stroke="#333" stroke-width="0.9"/>
<circle cx="370.97" cy="970.90" r="6.70" fill="#dcd1e8" stroke="#333" stroke-width="0.9"/>
<circle cx="487.92" cy="970.90" r="6.00" fill="#e0d6eb" stroke="#333" stroke-width="0.9"/>
<circle cx="511.31" cy="970.90" r="6.00" fill="#e0d6eb" stroke="#333" stroke-width="0.9"/>
<circle cx="90.29" cy="999.90" r="6.00" fill="#e8f2e4" stroke="#333" stroke-width="0.9"/>
<circle cx="113.68" cy="999.90" r="7.30" fill="#7b54ae" stroke="#333" stroke-width="0.9"/>
<circle cx="137.07" cy="999.90" r="7.00" fill="#a98ecb" stroke="#333" stroke-width="0.9"/>
<circle cx="160.46" cy="999.90" r="7.00" fill="#7d56ae" stroke="#333" stroke-width="0.9"/>
<circle cx="183.85" cy="999.90" r="7.30" fill="#7d57ae" stroke="#333" stroke-width="0.9"/>
<circle cx="207.24" cy="999.90" r="7.00" fill="#9474bd" stroke="#333" stroke-width="0.9"/>
<circle cx="230.63" cy="999.90" r="6.00" fill="#d3c5e3" stroke="#333" stroke-width="0.9"/>
<circle cx="300.80" cy="999.90" r="6.70" fill="#cbb9df" stroke="#333" stroke-width="0.9"/>
<circle cx="324.19" cy="999.90" r="7.00" fill="#cebfe1" stroke="#333" stroke-width="0.9"/>
<circle cx="347.58" cy="999.90" r="7.00" fill="#d3c5e4" stroke="#333" stroke-width="0.9"/>
<circle cx="370.97" cy="999.90" r="6.70" fill="#dbcfe8" stroke="#333" stroke-width="0.9"/>
<text x="375.60" y="1081.00" font-size="10" text-anchor="middle" fill="#222" font-weight="bold">Motif</text>
<text x="700.00" y="930.50" font-size="8.6" text-anchor="start" fill="#222" textLength="48.60" lengthAdjust="spacingAndGlyphs" stroke="#222" stroke-width="0.16">FoldChange</text>
<defs><linearGradient id="fg930" x1="0" y1="0" x2="0" y2="1"><stop offset="0" stop-color="#2f9a3a"/><stop offset="0.25" stop-color="#8fcb86"/><stop offset="0.45" stop-color="#eef6ec"/><stop offset="0.52" stop-color="#ffffff"/><stop offset="0.62" stop-color="#e9e0f0"/><stop offset="0.8" stop-color="#a98ccb"/><stop offset="1" stop-color="#6f3d9b"/></linearGradient></defs>
<rect x="700.00" y="934.30" width="11.90" height="56.70" fill="url(#fg930)"/>
<line x1="700.00" y1="947.60" x2="703.00" y2="947.60" stroke="#333" stroke-width="0.8"/>
<line x1="708.90" y1="947.60" x2="711.90" y2="947.60" stroke="#333" stroke-width="0.8"/>
<text x="715.80" y="950.40" font-size="7.8" text-anchor="start" fill="#3a3a3a" textLength="11.20" lengthAdjust="spacingAndGlyphs" stroke="#3a3a3a" stroke-width="0.16">0.3</text>
<line x1="700.00" y1="962.50" x2="703.00" y2="962.50" stroke="#333" stroke-width="0.8"/>
<line x1="708.90" y1="962.50" x2="711.90" y2="962.50" stroke="#333" stroke-width="0.8"/>
<text x="715.80" y="965.30" font-size="7.8" text-anchor="start" fill="#3a3a3a" textLength="11.20" lengthAdjust="spacingAndGlyphs" stroke="#3a3a3a" stroke-width="0.16">0.0</text>
<line x1="700.00" y1="977.70" x2="703.00" y2="977.70" stroke="#333" stroke-width="0.8"/>
<line x1="708.90" y1="977.70" x2="711.90" y2="977.70" stroke="#333" stroke-width="0.8"/>
<text x="714.60" y="980.50" font-size="7.8" text-anchor="start" fill="#3a3a3a" textLength="12.60" lengthAdjust="spacingAndGlyphs" stroke="#3a3a3a" stroke-width="0.16">−0.3</text>
<text x="700.80" y="1007.40" font-size="8.2" text-anchor="start" fill="#333" stroke="#333" stroke-width="0.16">Pval</text>
<circle cx="708.90" cy="1016.30" r="0.55" fill="#555"/>
<text x="721.20" y="1019.20" font-size="8.0" text-anchor="start" fill="#3a3a3a" stroke="#3a3a3a" stroke-width="0.16">0</text>
<circle cx="708.90" cy="1028.10" r="3.50" fill="none" stroke="#333" stroke-width="0.9"/>
<text x="721.20" y="1031.00" font-size="8.0" text-anchor="start" fill="#3a3a3a" stroke="#3a3a3a" stroke-width="0.16">50</text>
<circle cx="708.90" cy="1040.20" r="5.20" fill="none" stroke="#333" stroke-width="0.9"/>
<text x="721.20" y="1043.10" font-size="8.0" text-anchor="start" fill="#3a3a3a" stroke="#3a3a3a" stroke-width="0.16">100</text>
<circle cx="708.90" cy="1055.90" r="6.50" fill="none" stroke="#333" stroke-width="0.9"/>
<text x="721.20" y="1058.80" font-size="8.0" text-anchor="start" fill="#3a3a3a" stroke="#3a3a3a" stroke-width="0.16">150</text></svg>
</body></html>
